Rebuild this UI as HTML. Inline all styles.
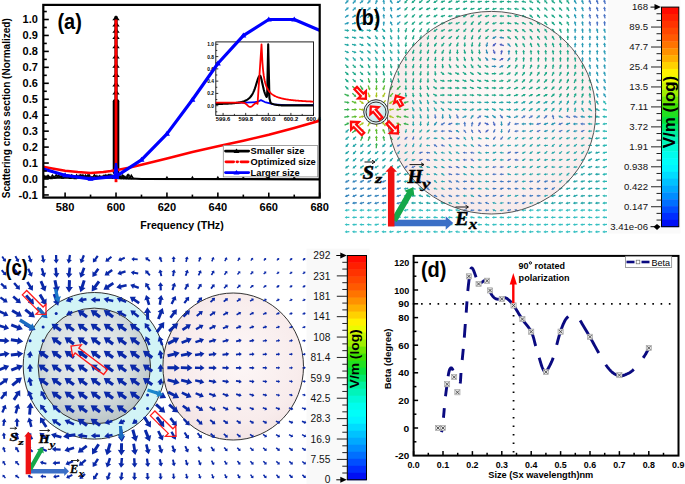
<!DOCTYPE html>
<html><head><meta charset="utf-8"><style>
html,body{margin:0;padding:0;background:#fff;}
body{width:685px;height:484px;overflow:hidden;}
svg{display:block;}
</style></head><body>
<svg width="685" height="484" viewBox="0 0 685 484">
<rect width="685" height="484" fill="#fff"/>
<defs><radialGradient id="pinkB" cx="0.55" cy="0.45" r="0.6"><stop offset="0" stop-color="#fefafa"/><stop offset="0.7" stop-color="#faf0f0"/><stop offset="1" stop-color="#f6e8e8"/></radialGradient><radialGradient id="smallB" cx="0.45" cy="0.4" r="0.6"><stop offset="0" stop-color="#f2fbfc"/><stop offset="1" stop-color="#c4e6ec"/></radialGradient></defs>
<rect x="608" y="0" width="72.5" height="233.6" fill="#fafafa"/>
<ellipse cx="491.5" cy="112.7" rx="104.2" ry="101.3" fill="url(#pinkB)"/>
<path d="M345.84,3.9L347.48,2.14L348.06,2.69L348.64,-0.05L345.94,0.71L346.52,1.26L344.89,3.01Z" fill="#2a9cb8"/>
<path d="M353.27,3.93L354.85,2.13L355.45,2.66L355.94,-0.11L353.27,0.74L353.87,1.27L352.29,3.08Z" fill="#2a9cb8"/>
<path d="M360.27,3.72L362.13,2.2L362.63,2.83L363.58,0.19L360.81,0.57L361.31,1.2L359.45,2.71Z" fill="#2a9cb8"/>
<path d="M367.98,3.93L369.57,2.13L370.17,2.66L370.67,-0.1L367.99,0.74L368.59,1.27L367,3.07Z" fill="#2a9cb8"/>
<path d="M376.13,4.17L377.04,1.95L377.78,2.25L377.35,-0.52L375.1,1.15L375.84,1.45L374.93,3.68Z" fill="#2a9cb8"/>
<path d="M384.8,3.98L384.44,1.6L385.23,1.48L383.44,-0.67L382.37,1.92L383.16,1.8L383.51,4.17Z" fill="#2a9cb8"/>
<path d="M393.02,3.35L391.7,1.34L392.37,0.9L389.84,-0.3L389.95,2.5L390.62,2.06L391.94,4.06Z" fill="#2a9cb8"/>
<path d="M400.19,-0.15L398.17,1.15L397.74,0.48L396.5,3L399.3,2.92L398.87,2.25L400.89,0.95Z" fill="#2a9cb8"/>
<path d="M406.96,-0.54L405.39,1.28L404.78,0.75L404.31,3.52L406.98,2.65L406.37,2.12L407.94,0.31Z" fill="#1ea888"/>
<path d="M414.61,-0.38L412.81,1.21L412.28,0.61L411.44,3.29L414.2,2.79L413.67,2.19L415.47,0.6Z" fill="#1ea888"/>
<path d="M422.06,-0.32L420.19,1.2L419.69,0.57L418.74,3.21L421.51,2.83L421.01,2.2L422.87,0.69Z" fill="#1ea888"/>
<path d="M429.52,-0.23L427.58,1.17L427.11,0.53L426.02,3.11L428.81,2.87L428.34,2.23L430.29,0.82Z" fill="#1ea888"/>
<path d="M437.06,-0.08L434.99,1.14L434.58,0.45L433.25,2.92L436.06,2.95L435.65,2.26L437.72,1.04Z" fill="#1ea888"/>
<path d="M444.68,0.22L442.44,1.09L442.15,0.35L440.44,2.57L443.21,3.05L442.92,2.31L445.15,1.44Z" fill="#1ea888"/>
<path d="M451.94,0.09L449.76,1.11L449.42,0.39L447.87,2.72L450.66,3.01L450.32,2.29L452.49,1.27Z" fill="#1ea888"/>
<path d="M459.41,0.24L457.17,1.09L456.89,0.34L455.16,2.55L457.91,3.06L457.63,2.31L459.87,1.46Z" fill="#1ea888"/>
<path d="M466.95,0.52L464.61,1.07L464.43,0.29L462.42,2.25L465.09,3.11L464.91,2.33L467.24,1.79Z" fill="#1ea888"/>
<path d="M474.46,0.86L472.07,1.05L472,0.25L469.73,1.89L472.24,3.15L472.17,2.35L474.56,2.15Z" fill="#1ea888"/>
<path d="M481.79,0.78L479.41,1.05L479.31,0.26L477.1,1.98L479.65,3.14L479.55,2.35L481.94,2.07Z" fill="#1ea888"/>
<path d="M489.14,0.76L486.76,1.05L486.66,0.26L484.46,1.99L487.02,3.14L486.92,2.35L489.3,2.05Z" fill="#1ea888"/>
<path d="M496.63,1.17L494.23,1.05L494.27,0.25L491.8,1.58L494.13,3.15L494.17,2.35L496.56,2.47Z" fill="#1ea888"/>
<path d="M503.86,0.75L501.48,1.06L501.37,0.26L499.18,2.01L501.75,3.14L501.64,2.34L504.02,2.04Z" fill="#1ea888"/>
<path d="M511.38,1.33L509,1.05L509.09,0.26L506.54,1.42L508.75,3.14L508.84,2.35L511.23,2.62Z" fill="#1ea888"/>
<path d="M518.71,1.19L516.32,1.05L516.37,0.25L513.88,1.56L516.19,3.15L516.24,2.35L518.64,2.49Z" fill="#1ea888"/>
<path d="M526.13,1.63L523.79,1.07L523.98,0.29L521.31,1.14L523.3,3.11L523.49,2.33L525.82,2.89Z" fill="#1ea888"/>
<path d="M533.41,2.3L531.32,1.13L531.71,0.43L528.9,0.53L530.29,2.97L530.68,2.27L532.78,3.44Z" fill="#1ea888"/>
<path d="M540.62,2.74L538.78,1.2L539.29,0.59L536.52,0.16L537.43,2.81L537.94,2.2L539.78,3.74Z" fill="#1ea888"/>
<path d="M547.78,3.09L546.21,1.28L546.82,0.75L544.15,-0.12L544.62,2.65L545.23,2.12L546.8,3.94Z" fill="#1ea888"/>
<path d="M555.31,2.8L553.51,1.21L554.04,0.61L551.28,0.11L552.12,2.79L552.65,2.19L554.45,3.78Z" fill="#1ea888"/>
<path d="M562.51,3.08L560.93,1.27L561.53,0.75L558.86,-0.11L559.35,2.65L559.95,2.13L561.53,3.94Z" fill="#1ea888"/>
<path d="M569.72,3.28L568.33,1.32L568.98,0.86L566.41,-0.26L566.62,2.54L567.27,2.08L568.66,4.03Z" fill="#1ea888"/>
<path d="M576.96,3.42L575.72,1.36L576.4,0.95L573.92,-0.35L573.92,2.45L574.6,2.04L575.84,4.09Z" fill="#2a9cb6"/>
<path d="M583.99,3.7L583.13,1.46L583.87,1.18L581.65,-0.54L581.17,2.22L581.91,1.94L582.78,4.17Z" fill="#2a9cb6"/>
<path d="M591.42,3.65L590.48,1.45L591.21,1.13L588.94,-0.51L588.55,2.27L589.28,1.95L590.22,4.16Z" fill="#4a72c4"/>
<path d="M598.69,3.72L597.85,1.47L598.6,1.19L596.39,-0.55L595.88,2.21L596.63,1.93L597.48,4.18Z" fill="#4a72c4"/>
<path d="M605.95,3.79L605.22,1.5L605.98,1.26L603.87,-0.59L603.22,2.14L603.98,1.9L604.71,4.18Z" fill="#4a72c4"/>
<path d="M345.64,10.97L347.43,9.37L347.97,9.97L348.79,7.29L346.03,7.81L346.57,8.41L344.78,10Z" fill="#2a9cb8"/>
<path d="M353.11,11.04L354.82,9.35L355.38,9.92L356.07,7.2L353.34,7.86L353.9,8.43L352.19,10.11Z" fill="#2a9cb8"/>
<path d="M360.43,11.02L362.17,9.36L362.72,9.94L363.46,7.23L360.72,7.84L361.27,8.42L359.53,10.08Z" fill="#2a9cb8"/>
<path d="M367.75,10.99L369.52,9.37L370.06,9.96L370.85,7.27L368.1,7.82L368.64,8.41L366.87,10.03Z" fill="#2a9cb8"/>
<path d="M376.72,11.36L377.08,8.99L377.87,9.11L376.8,6.52L375.01,8.67L375.8,8.79L375.44,11.17Z" fill="#2a9cb8"/>
<path d="M384.94,11.1L384.44,8.75L385.22,8.58L383.29,6.54L382.38,9.2L383.16,9.03L383.67,11.37Z" fill="#2a9cb8"/>
<path d="M392.35,11.07L391.79,8.74L392.57,8.55L390.6,6.56L389.75,9.23L390.53,9.04L391.08,11.38Z" fill="#2a9cb8"/>
<path d="M400.18,7.04L398.17,8.34L397.73,7.67L396.51,10.2L399.31,10.11L398.87,9.44L400.89,8.13Z" fill="#2a9cb8"/>
<path d="M407.01,6.68L405.4,8.45L404.81,7.92L404.27,10.67L406.95,9.86L406.36,9.33L407.97,7.55Z" fill="#1ea888"/>
<path d="M414.63,6.83L412.81,8.4L412.29,7.79L411.43,10.46L414.19,9.99L413.67,9.38L415.48,7.81Z" fill="#1ea888"/>
<path d="M422.27,7.05L420.25,8.34L419.82,7.67L418.58,10.19L421.38,10.11L420.95,9.44L422.97,8.14Z" fill="#1ea888"/>
<path d="M429.86,7.29L427.69,8.3L427.35,7.58L425.78,9.9L428.57,10.2L428.23,9.48L430.41,8.47Z" fill="#1ea888"/>
<path d="M437.19,7.25L435.03,8.31L434.68,7.59L433.17,9.95L435.96,10.19L435.61,9.47L437.76,8.41Z" fill="#1ea888"/>
<path d="M444.58,7.29L442.41,8.3L442.07,7.57L440.5,9.9L443.29,10.21L442.95,9.48L445.13,8.47Z" fill="#1ea888"/>
<path d="M452.33,7.91L449.95,8.25L449.84,7.45L447.66,9.23L450.24,10.33L450.13,9.53L452.51,9.2Z" fill="#1ea888"/>
<path d="M459.46,7.5L457.19,8.27L456.93,7.52L455.13,9.67L457.87,10.26L457.61,9.51L459.88,8.73Z" fill="#1ea888"/>
<path d="M466.87,7.57L464.57,8.27L464.34,7.5L462.46,9.59L465.18,10.28L464.95,9.51L467.25,8.82Z" fill="#1ea888"/>
<path d="M474.26,7.63L471.95,8.26L471.74,7.49L469.81,9.53L472.5,10.29L472.29,9.52L474.61,8.88Z" fill="#1ea888"/>
<path d="M481.46,7.39L479.24,8.29L478.94,7.55L477.25,9.79L480.02,10.23L479.72,9.49L481.95,8.6Z" fill="#1ea888"/>
<path d="M489.01,7.68L486.68,8.26L486.49,7.48L484.51,9.47L487.19,10.3L487,9.52L489.33,8.94Z" fill="#1ea888"/>
<path d="M496.35,7.64L494.03,8.26L493.82,7.49L491.88,9.52L494.58,10.29L494.37,9.52L496.69,8.89Z" fill="#1ea888"/>
<path d="M503.96,8.24L501.56,8.24L501.56,7.44L499.16,8.89L501.56,10.34L501.56,9.54L503.96,9.54Z" fill="#1ea888"/>
<path d="M511.38,8.55L509,8.25L509.1,7.45L506.54,8.58L508.74,10.33L508.84,9.53L511.22,9.84Z" fill="#1ea888"/>
<path d="M518.76,8.69L516.4,8.25L516.54,7.46L513.92,8.45L516.02,10.32L516.16,9.53L518.52,9.97Z" fill="#1ea888"/>
<path d="M526.09,9.34L523.92,8.3L524.27,7.58L521.48,7.85L523.01,10.2L523.36,9.48L525.52,10.51Z" fill="#1ea888"/>
<path d="M533.35,9.69L531.36,8.35L531.81,7.69L529.01,7.55L530.19,10.09L530.64,9.43L532.63,10.77Z" fill="#1ea888"/>
<path d="M540.48,10.19L538.83,8.44L539.41,7.89L536.71,7.14L537.31,9.89L537.89,9.34L539.53,11.08Z" fill="#1ea888"/>
<path d="M547.85,10.18L546.19,8.44L546.77,7.89L544.06,7.15L544.67,9.89L545.25,9.34L546.91,11.08Z" fill="#1ea888"/>
<path d="M555.21,10.18L553.55,8.44L554.13,7.89L551.43,7.15L552.03,9.89L552.61,9.34L554.26,11.08Z" fill="#1ea888"/>
<path d="M562.56,10.18L560.91,8.44L561.49,7.89L558.79,7.15L559.39,9.89L559.97,9.34L561.62,11.08Z" fill="#1ea888"/>
<path d="M569.62,10.58L568.35,8.55L569.03,8.12L566.53,6.85L566.57,9.66L567.25,9.23L568.52,11.27Z" fill="#1ea888"/>
<path d="M576.59,10.93L575.77,8.67L576.52,8.4L574.34,6.63L573.8,9.38L574.55,9.11L575.37,11.37Z" fill="#2a9cb6"/>
<path d="M583.88,10.97L583.14,8.69L583.9,8.44L581.78,6.61L581.14,9.34L581.9,9.09L582.64,11.37Z" fill="#2a9cb6"/>
<path d="M590.98,11.12L590.52,8.76L591.3,8.61L589.41,6.54L588.46,9.17L589.24,9.02L589.71,11.37Z" fill="#4a72c4"/>
<path d="M598.6,10.97L597.86,8.69L598.62,8.44L596.5,6.61L595.86,9.34L596.62,9.09L597.36,11.37Z" fill="#4a72c4"/>
<path d="M605.61,11.16L605.24,8.79L606.03,8.67L604.23,6.52L603.17,9.11L603.96,8.99L604.32,11.36Z" fill="#4a72c4"/>
<path d="M345.48,18.05L347.39,16.6L347.87,17.24L348.92,14.63L346.13,14.92L346.61,15.56L344.69,17.01Z" fill="#2a9cb8"/>
<path d="M352.67,17.91L354.71,16.63L355.13,17.31L356.39,14.8L353.59,14.85L354.01,15.53L351.98,16.8Z" fill="#2a9cb8"/>
<path d="M360.13,17.99L362.09,16.61L362.55,17.27L363.68,14.7L360.89,14.89L361.35,15.55L359.38,16.93Z" fill="#2a9cb8"/>
<path d="M368.06,18.35L369.58,16.49L370.2,17L370.6,14.23L367.96,15.16L368.58,15.67L367.05,17.52Z" fill="#2a9cb8"/>
<path d="M376.81,18.54L377.09,16.15L377.88,16.25L376.72,13.7L375,15.91L375.79,16.01L375.52,18.39Z" fill="#2a9cb8"/>
<path d="M384.71,18.39L384.45,16.01L385.24,15.92L383.54,13.69L382.36,16.24L383.15,16.15L383.42,18.54Z" fill="#2a9cb8"/>
<path d="M392.79,17.95L391.74,15.8L392.46,15.45L390.11,13.92L389.86,16.71L390.58,16.36L391.63,18.52Z" fill="#2a9cb8"/>
<path d="M400.34,14.38L398.22,15.51L397.84,14.8L396.4,17.2L399.2,17.36L398.82,16.65L400.95,15.53Z" fill="#2a9cb8"/>
<path d="M407.03,13.88L405.4,15.64L404.82,15.09L404.25,17.84L406.94,17.07L406.36,16.52L407.99,14.76Z" fill="#1ea888"/>
<path d="M414.4,13.88L412.76,15.64L412.18,15.09L411.6,17.83L414.3,17.07L413.72,16.52L415.35,14.77Z" fill="#1ea888"/>
<path d="M421.98,14.01L420.17,15.59L419.64,14.99L418.79,17.66L421.56,17.17L421.03,16.57L422.83,14.99Z" fill="#1ea888"/>
<path d="M429.8,14.41L427.66,15.5L427.3,14.79L425.82,17.17L428.62,17.37L428.26,16.66L430.39,15.57Z" fill="#1ea888"/>
<path d="M437.01,14.25L434.97,15.53L434.55,14.85L433.29,17.36L436.09,17.31L435.67,16.63L437.7,15.35Z" fill="#1ea888"/>
<path d="M444.75,14.7L442.47,15.46L442.22,14.71L440.41,16.85L443.14,17.45L442.89,16.7L445.16,15.93Z" fill="#1ea888"/>
<path d="M452.25,14.93L449.9,15.45L449.73,14.66L447.7,16.59L450.35,17.5L450.18,16.71L452.52,16.2Z" fill="#1ea888"/>
<path d="M459.66,15.05L457.29,15.44L457.16,14.65L455.03,16.47L457.64,17.51L457.51,16.72L459.87,16.33Z" fill="#1ea888"/>
<path d="M466.46,14.27L464.42,15.53L464,14.85L462.72,17.34L465.52,17.31L465.1,16.63L467.14,15.37Z" fill="#1ea888"/>
<path d="M473.82,14.27L471.78,15.53L471.36,14.85L470.08,17.34L472.88,17.31L472.46,16.63L474.5,15.37Z" fill="#1ea888"/>
<path d="M481.26,14.35L479.16,15.51L478.78,14.81L477.38,17.24L480.18,17.35L479.8,16.65L481.89,15.48Z" fill="#1ea888"/>
<path d="M488.9,14.68L486.63,15.47L486.37,14.71L484.57,16.86L487.31,17.45L487.05,16.69L489.32,15.91Z" fill="#1ea888"/>
<path d="M496.44,15.01L494.08,15.44L493.94,14.65L491.84,16.51L494.46,17.51L494.32,16.72L496.68,16.29Z" fill="#1ea888"/>
<path d="M503.98,15.52L501.59,15.43L501.62,14.63L499.16,15.99L501.5,17.53L501.53,16.73L503.93,16.82Z" fill="#1ea888"/>
<path d="M511.37,15.65L508.98,15.43L509.05,14.64L506.53,15.87L508.79,17.52L508.86,16.73L511.25,16.94Z" fill="#1ea888"/>
<path d="M518.77,16.08L516.45,15.45L516.66,14.68L513.96,15.46L515.9,17.48L516.11,16.71L518.43,17.33Z" fill="#1ea888"/>
<path d="M526.1,16.43L523.9,15.48L524.21,14.75L521.44,15.13L523.07,17.41L523.38,16.68L525.59,17.63Z" fill="#1ea888"/>
<path d="M533.21,17.23L531.44,15.6L531.98,15.01L529.24,14.45L530.02,17.15L530.56,16.56L532.32,18.18Z" fill="#1ea888"/>
<path d="M540.39,17.52L538.86,15.67L539.48,15.16L536.83,14.23L537.24,17L537.86,16.49L539.39,18.35Z" fill="#1ea888"/>
<path d="M547.97,17.14L546.14,15.58L546.66,14.97L543.89,14.53L544.78,17.19L545.3,16.58L547.13,18.13Z" fill="#1ea888"/>
<path d="M555.32,17.15L553.5,15.59L554.03,14.98L551.26,14.51L552.13,17.18L552.66,16.57L554.47,18.14Z" fill="#1ea888"/>
<path d="M562.62,17.27L560.89,15.61L561.44,15.03L558.71,14.42L559.44,17.13L559.99,16.55L561.72,18.21Z" fill="#1ea888"/>
<path d="M569.76,17.61L568.32,15.69L568.96,15.21L566.36,14.16L566.64,16.95L567.28,16.47L568.71,18.39Z" fill="#1ea888"/>
<path d="M576.59,18.11L575.77,15.86L576.52,15.58L574.34,13.82L573.8,16.58L574.55,16.3L575.37,18.56Z" fill="#2a9cb6"/>
<path d="M583.63,18.3L583.16,15.95L583.94,15.79L582.04,13.73L581.1,16.37L581.88,16.21L582.36,18.56Z" fill="#2a9cb6"/>
<path d="M591.09,18.25L590.51,15.92L591.29,15.73L589.3,13.75L588.47,16.43L589.25,16.24L589.82,18.57Z" fill="#4a72c4"/>
<path d="M598.57,18.18L597.86,15.89L598.63,15.65L596.53,13.79L595.85,16.51L596.62,16.27L597.33,18.57Z" fill="#4a72c4"/>
<path d="M605.71,18.3L605.24,15.95L606.02,15.79L604.12,13.73L603.18,16.37L603.96,16.21L604.44,18.56Z" fill="#4a72c4"/>
<path d="M344.93,24.65L347.21,23.89L347.46,24.65L349.28,22.51L346.54,21.89L346.79,22.65L344.52,23.41Z" fill="#2a9cb8"/>
<path d="M352.19,24.49L354.52,23.9L354.72,24.68L356.69,22.68L354,21.86L354.2,22.64L351.87,23.23Z" fill="#2a9cb8"/>
<path d="M359.52,24.42L361.86,23.9L362.03,24.69L364.06,22.75L361.41,21.85L361.58,22.64L359.24,23.15Z" fill="#2a9cb8"/>
<path d="M367.22,24.92L369.37,23.85L369.73,24.57L371.23,22.2L368.43,21.97L368.79,22.69L366.64,23.76Z" fill="#2a9cb8"/>
<path d="M375.65,25.63L376.98,23.63L377.65,24.07L377.77,21.27L375.23,22.47L375.9,22.91L374.57,24.91Z" fill="#2a9cb8"/>
<path d="M384.22,25.72L384.45,23.33L385.24,23.4L384.02,20.88L382.36,23.14L383.15,23.21L382.93,25.6Z" fill="#2a9cb8"/>
<path d="M392.87,25.07L391.73,22.96L392.44,22.58L390.02,21.16L389.88,23.96L390.59,23.58L391.73,25.69Z" fill="#2a9cb8"/>
<path d="M399.83,21.16L398.08,22.79L397.53,22.21L396.77,24.91L399.51,24.33L398.96,23.75L400.72,22.11Z" fill="#2a9cb8"/>
<path d="M407.26,21.2L405.45,22.78L404.92,22.18L404.08,24.85L406.84,24.36L406.31,23.76L408.11,22.18Z" fill="#1ea888"/>
<path d="M414.53,21.15L412.79,22.8L412.24,22.22L411.5,24.92L414.24,24.32L413.69,23.74L415.43,22.09Z" fill="#1ea888"/>
<path d="M422.09,21.28L420.2,22.76L419.7,22.13L418.71,24.75L421.5,24.41L421,23.78L422.89,22.3Z" fill="#1ea888"/>
<path d="M429.66,21.45L427.62,22.72L427.19,22.04L425.92,24.54L428.73,24.5L428.3,23.82L430.34,22.56Z" fill="#1ea888"/>
<path d="M437.15,21.59L435.02,22.69L434.65,21.98L433.19,24.37L435.99,24.56L435.62,23.85L437.75,22.74Z" fill="#1ea888"/>
<path d="M444.83,22.01L442.51,22.64L442.3,21.87L440.36,23.9L443.06,24.67L442.85,23.9L445.17,23.27Z" fill="#1ea888"/>
<path d="M452.16,21.98L449.86,22.65L449.64,21.88L447.73,23.94L450.44,24.66L450.22,23.89L452.53,23.23Z" fill="#1ea888"/>
<path d="M459.32,21.69L457.13,22.68L456.8,21.95L455.21,24.26L458,24.59L457.67,23.86L459.85,22.88Z" fill="#1ea888"/>
<path d="M465.96,21.09L464.29,22.82L463.72,22.26L463.1,25L465.8,24.28L465.23,23.72L466.89,21.99Z" fill="#1ea888"/>
<path d="M473.08,20.98L471.61,22.87L470.98,22.38L470.65,25.16L473.26,24.16L472.63,23.67L474.11,21.77Z" fill="#1ea888"/>
<path d="M480.67,21.09L479.01,22.82L478.43,22.27L477.82,25.01L480.53,24.27L479.95,23.72L481.61,21.98Z" fill="#1ea888"/>
<path d="M488.43,21.36L486.47,22.74L486,22.08L484.88,24.65L487.68,24.46L487.21,23.8L489.18,22.42Z" fill="#1ea888"/>
<path d="M496.27,21.89L493.99,22.65L493.74,21.9L491.93,24.04L494.66,24.64L494.41,23.89L496.68,23.12Z" fill="#1ea888"/>
<path d="M503.86,22.32L501.48,22.63L501.37,21.83L499.18,23.58L501.75,24.71L501.64,23.91L504.02,23.6Z" fill="#1ea888"/>
<path d="M511.37,22.88L508.99,22.62L509.07,21.83L506.53,23.02L508.77,24.71L508.85,23.92L511.24,24.17Z" fill="#1ea888"/>
<path d="M518.76,23.48L516.5,22.66L516.78,21.91L514.02,22.45L515.78,24.63L516.06,23.88L518.31,24.7Z" fill="#1ea888"/>
<path d="M526.07,23.8L523.94,22.69L524.31,21.98L521.51,22.16L522.97,24.56L523.34,23.85L525.47,24.95Z" fill="#1ea888"/>
<path d="M533.28,24.27L531.41,22.76L531.91,22.14L529.13,21.77L530.09,24.4L530.59,23.78L532.46,25.28Z" fill="#1ea888"/>
<path d="M540.63,24.28L538.77,22.77L539.27,22.14L536.5,21.76L537.45,24.4L537.95,23.77L539.82,25.29Z" fill="#1ea888"/>
<path d="M547.74,24.72L546.22,22.86L546.84,22.35L544.2,21.41L544.6,24.19L545.22,23.68L546.73,25.54Z" fill="#1ea888"/>
<path d="M555.17,24.62L553.56,22.84L554.16,22.3L551.47,21.49L552,24.24L552.6,23.7L554.2,25.49Z" fill="#1ea888"/>
<path d="M562.56,24.57L560.91,22.82L561.5,22.28L558.8,21.52L559.38,24.26L559.97,23.72L561.61,25.46Z" fill="#1ea888"/>
<path d="M569.46,25.12L568.38,22.98L569.09,22.62L566.72,21.13L566.51,23.92L567.22,23.56L568.3,25.71Z" fill="#1ea888"/>
<path d="M576.33,25.46L575.79,23.13L576.57,22.95L574.62,20.93L573.75,23.59L574.53,23.41L575.06,25.75Z" fill="#2a9cb6"/>
<path d="M583.55,25.53L583.16,23.16L583.95,23.03L582.13,20.9L581.09,23.51L581.88,23.38L582.27,25.74Z" fill="#2a9cb6"/>
<path d="M591.09,25.44L590.51,23.11L591.29,22.92L589.3,20.94L588.47,23.62L589.25,23.43L589.82,25.76Z" fill="#4a72c4"/>
<path d="M598.1,25.6L597.89,23.21L598.68,23.14L597.03,20.88L595.8,23.4L596.59,23.33L596.8,25.72Z" fill="#4a72c4"/>
<path d="M605.38,25.63L605.25,23.23L606.05,23.19L604.47,20.87L603.15,23.35L603.95,23.31L604.09,25.7Z" fill="#4a72c4"/>
<path d="M344.53,30.76L346.91,31.1L346.79,31.9L349.38,30.8L347.21,29.02L347.09,29.82L344.72,29.47Z" fill="#24a8a4"/>
<path d="M351.88,30.64L354.24,31.1L354.08,31.88L356.72,30.92L354.64,29.04L354.48,29.82L352.13,29.37Z" fill="#24a8a4"/>
<path d="M359.27,30.91L361.67,31.11L361.6,31.9L364.11,30.66L361.84,29.02L361.77,29.81L359.38,29.61Z" fill="#24a8a4"/>
<path d="M366.62,30.8L369,31.1L368.89,31.9L371.46,30.77L369.27,29.02L369.16,29.82L366.78,29.51Z" fill="#24a8a4"/>
<path d="M374.02,29.87L376.13,31.03L375.74,31.73L378.54,31.62L377.14,29.19L376.75,29.89L374.65,28.73Z" fill="#24a8a4"/>
<path d="M381.69,29.14L383.32,30.9L382.73,31.44L385.43,32.22L384.87,29.48L384.28,30.02L382.65,28.26Z" fill="#24a8a4"/>
<path d="M389.8,28.38L390.54,30.66L389.78,30.91L391.9,32.74L392.54,30.01L391.78,30.26L391.03,27.98Z" fill="#24a8a4"/>
<path d="M397.92,28.05L397.87,30.45L397.07,30.43L398.47,32.86L399.97,30.49L399.17,30.47L399.22,28.07Z" fill="#24a8a4"/>
<path d="M405.94,27.97L405.26,30.27L404.49,30.05L405.2,32.76L407.27,30.87L406.5,30.65L407.19,28.34Z" fill="#1ea888"/>
<path d="M414.02,28.1L412.7,30.1L412.03,29.66L411.92,32.46L414.45,31.26L413.78,30.82L415.11,28.82Z" fill="#1ea888"/>
<path d="M421.25,28.06L420.04,30.13L419.35,29.73L419.39,32.53L421.85,31.19L421.16,30.79L422.37,28.72Z" fill="#1ea888"/>
<path d="M428.73,28.09L427.42,30.11L426.75,29.67L426.65,32.47L429.17,31.25L428.5,30.81L429.81,28.8Z" fill="#1ea888"/>
<path d="M436.9,28.54L434.94,29.93L434.48,29.28L433.36,31.85L436.16,31.64L435.7,30.99L437.65,29.6Z" fill="#1ea888"/>
<path d="M444.54,28.81L442.39,29.88L442.04,29.16L440.53,31.53L443.32,31.76L442.97,31.04L445.12,29.97Z" fill="#1ea888"/>
<path d="M452.04,28.98L449.8,29.85L449.51,29.11L447.81,31.33L450.57,31.81L450.28,31.07L452.51,30.19Z" fill="#1ea888"/>
<path d="M459,28.56L457.03,29.93L456.57,29.27L455.43,31.83L458.23,31.65L457.77,30.99L459.74,29.62Z" fill="#1ea888"/>
<path d="M465.72,28.17L464.25,30.06L463.62,29.57L463.29,32.35L465.9,31.35L465.27,30.86L466.75,28.96Z" fill="#1ea888"/>
<path d="M472.86,28.09L471.57,30.11L470.9,29.68L470.83,32.48L473.34,31.24L472.67,30.81L473.96,28.79Z" fill="#1ea888"/>
<path d="M480.37,28.14L478.95,30.08L478.31,29.61L478.07,32.4L480.65,31.31L480.01,30.84L481.42,28.9Z" fill="#1ea888"/>
<path d="M488.3,28.45L486.43,29.95L485.93,29.33L484.97,31.97L487.75,31.59L487.25,30.97L489.12,29.46Z" fill="#1ea888"/>
<path d="M496.14,28.9L493.94,29.86L493.62,29.13L492,31.42L494.78,31.79L494.46,31.06L496.66,30.09Z" fill="#1ea888"/>
<path d="M504.01,30.02L501.62,29.81L501.69,29.02L499.17,30.25L501.43,31.9L501.5,31.11L503.89,31.32Z" fill="#1ea888"/>
<path d="M511.4,30.66L509.14,29.85L509.41,29.1L506.66,29.65L508.43,31.82L508.7,31.07L510.96,31.89Z" fill="#1ea888"/>
<path d="M518.59,31.38L516.67,29.94L517.15,29.3L514.36,29.02L515.41,31.62L515.89,30.98L517.81,32.42Z" fill="#1ea888"/>
<path d="M525.89,31.52L524.06,29.96L524.58,29.36L521.81,28.91L522.7,31.56L523.22,30.96L525.05,32.51Z" fill="#1ea888"/>
<path d="M533.18,31.66L531.45,29.99L532.01,29.42L529.28,28.79L529.99,31.5L530.55,30.93L532.27,32.6Z" fill="#1ea888"/>
<path d="M540.28,32.04L538.89,30.08L539.54,29.62L536.97,28.5L537.18,31.3L537.83,30.84L539.21,32.79Z" fill="#1ea888"/>
<path d="M547.58,32.11L546.26,30.1L546.93,29.67L544.41,28.45L544.51,31.25L545.18,30.82L546.49,32.82Z" fill="#1ea888"/>
<path d="M554.93,32.12L553.63,30.11L554.3,29.67L551.78,28.44L551.86,31.25L552.53,30.81L553.84,32.83Z" fill="#1ea888"/>
<path d="M561.96,32.43L561.04,30.21L561.78,29.9L559.52,28.24L559.1,31.02L559.84,30.71L560.76,32.93Z" fill="#1ea888"/>
<path d="M568.71,32.77L568.45,30.39L569.24,30.3L567.53,28.07L566.36,30.62L567.15,30.53L567.42,32.92Z" fill="#1ea888"/>
<path d="M575.81,32.86L575.81,30.46L576.61,30.46L575.16,28.06L573.71,30.46L574.51,30.46L574.51,32.86Z" fill="#2a9cb6"/>
<path d="M583.44,32.77L583.17,30.39L583.96,30.3L582.25,28.08L581.08,30.62L581.87,30.53L582.14,32.92Z" fill="#2a9cb6"/>
<path d="M590.79,32.77L590.53,30.39L591.32,30.3L589.61,28.07L588.44,30.62L589.23,30.53L589.5,32.92Z" fill="#2a9cb6"/>
<path d="M598.36,32.68L597.88,30.33L598.66,30.17L596.75,28.11L595.82,30.75L596.6,30.59L597.09,32.94Z" fill="#2a9cb6"/>
<path d="M605.9,32.58L605.22,30.28L605.99,30.05L603.92,28.16L603.21,30.87L603.98,30.64L604.66,32.95Z" fill="#2a9cb6"/>
<path d="M344.53,37.95L346.91,38.29L346.79,39.08L349.37,38L347.21,36.22L347.09,37.01L344.72,36.66Z" fill="#24a8a4"/>
<path d="M351.88,37.79L354.22,38.29L354.06,39.07L356.71,38.15L354.66,36.23L354.5,37.01L352.15,36.51Z" fill="#24a8a4"/>
<path d="M359.24,37.75L361.58,38.28L361.4,39.06L364.06,38.19L362.04,36.24L361.86,37.02L359.53,36.48Z" fill="#24a8a4"/>
<path d="M366.7,36.95L368.74,38.2L368.32,38.88L371.12,38.91L369.84,36.42L369.42,37.1L367.38,35.84Z" fill="#24a8a4"/>
<path d="M374.65,35.92L375.88,37.98L375.2,38.39L377.67,39.71L377.68,36.91L377,37.32L375.77,35.26Z" fill="#24a8a4"/>
<path d="M382,35.94L383.24,37.99L382.56,38.4L385.05,39.7L385.04,36.9L384.36,37.31L383.11,35.26Z" fill="#24a8a4"/>
<path d="M389.68,35.65L390.55,37.89L389.81,38.18L392.04,39.88L392.51,37.12L391.77,37.41L390.89,35.18Z" fill="#24a8a4"/>
<path d="M397.64,35.33L397.87,37.71L397.08,37.79L398.75,40.04L399.96,37.51L399.17,37.59L398.93,35.2Z" fill="#24a8a4"/>
<path d="M406,35.17L405.26,37.45L404.5,37.2L405.14,39.93L407.26,38.1L406.5,37.85L407.24,35.57Z" fill="#1ea888"/>
<path d="M413.36,35.17L412.62,37.45L411.86,37.2L412.5,39.93L414.62,38.1L413.86,37.85L414.6,35.57Z" fill="#1ea888"/>
<path d="M420.68,35.16L419.98,37.46L419.21,37.22L419.89,39.94L421.99,38.08L421.22,37.84L421.93,35.55Z" fill="#1ea888"/>
<path d="M428.18,35.17L427.35,37.42L426.6,37.15L427.13,39.9L429.32,38.15L428.57,37.88L429.4,35.63Z" fill="#1ea888"/>
<path d="M436.03,35.27L434.77,37.31L434.09,36.89L434.06,39.69L436.55,38.41L435.87,37.99L437.13,35.95Z" fill="#1ea888"/>
<path d="M444.1,35.61L442.26,37.15L441.75,36.54L440.84,39.19L443.61,38.76L443.1,38.15L444.94,36.61Z" fill="#1ea888"/>
<path d="M451.55,35.68L449.65,37.13L449.16,36.5L448.13,39.11L450.92,38.8L450.43,38.17L452.34,36.71Z" fill="#1ea888"/>
<path d="M458.33,35.35L456.88,37.26L456.25,36.77L455.95,39.56L458.55,38.53L457.92,38.04L459.37,36.13Z" fill="#1ea888"/>
<path d="M464.97,35.17L464.15,37.43L463.4,37.16L463.94,39.91L466.12,38.14L465.37,37.87L466.19,35.62Z" fill="#1ea888"/>
<path d="M472.26,35.17L471.5,37.44L470.74,37.19L471.36,39.93L473.5,38.11L472.74,37.86L473.49,35.58Z" fill="#1ea888"/>
<path d="M480.09,35.24L478.91,37.33L478.22,36.94L478.31,39.74L480.74,38.36L480.05,37.97L481.22,35.87Z" fill="#1ea888"/>
<path d="M488.1,35.51L486.39,37.19L485.83,36.61L485.12,39.33L487.85,38.69L487.29,38.11L489.01,36.44Z" fill="#1ea888"/>
<path d="M495.95,35.88L493.87,37.09L493.47,36.4L492.13,38.86L494.93,38.9L494.53,38.21L496.6,37Z" fill="#2e8cb4"/>
<path d="M504.03,37.36L501.66,37.01L501.78,36.22L499.19,37.29L501.34,39.08L501.46,38.29L503.84,38.65Z" fill="#2e8cb4"/>
<path d="M511.24,38.55L509.31,37.13L509.78,36.48L506.99,36.23L508.06,38.82L508.53,38.17L510.47,39.6Z" fill="#1ea888"/>
<path d="M518.34,39.04L516.77,37.22L517.38,36.7L514.71,35.83L515.18,38.6L515.79,38.08L517.36,39.89Z" fill="#1ea888"/>
<path d="M525.48,39.32L524.19,37.3L524.86,36.87L522.34,35.63L522.42,38.43L523.09,38L524.39,40.02Z" fill="#1ea888"/>
<path d="M532.8,39.36L531.56,37.31L532.24,36.9L529.75,35.6L529.76,38.4L530.44,37.99L531.69,40.04Z" fill="#1ea888"/>
<path d="M540.29,39.22L538.89,37.27L539.54,36.81L536.96,35.7L537.18,38.49L537.83,38.03L539.23,39.98Z" fill="#1ea888"/>
<path d="M547.4,39.48L546.3,37.35L547.01,36.98L544.62,35.52L544.43,38.32L545.14,37.95L546.25,40.08Z" fill="#1ea888"/>
<path d="M554.82,39.43L553.65,37.33L554.35,36.94L551.91,35.55L551.81,38.36L552.51,37.97L553.68,40.06Z" fill="#1ea888"/>
<path d="M561.52,39.89L561.08,37.53L561.87,37.38L560,35.29L559.01,37.92L559.8,37.77L560.24,40.13Z" fill="#1ea888"/>
<path d="M568.36,40.07L568.45,37.67L569.25,37.7L567.89,35.25L566.35,37.6L567.15,37.63L567.06,40.02Z" fill="#1ea888"/>
<path d="M575.9,40.02L575.81,37.63L576.61,37.6L575.07,35.25L573.71,37.7L574.51,37.67L574.6,40.07Z" fill="#2a9cb6"/>
<path d="M583.25,40.03L583.17,37.63L583.97,37.6L582.44,35.25L581.07,37.7L581.87,37.67L581.95,40.07Z" fill="#2a9cb6"/>
<path d="M590.43,40.08L590.53,37.68L591.33,37.71L589.98,35.25L588.43,37.59L589.23,37.62L589.13,40.02Z" fill="#2a9cb6"/>
<path d="M598.13,39.97L597.89,37.59L598.68,37.51L597,35.26L595.8,37.79L596.59,37.71L596.83,40.1Z" fill="#2a9cb6"/>
<path d="M605.82,39.81L605.23,37.49L606,37.29L604.01,35.32L603.2,38.01L603.97,37.81L604.56,40.14Z" fill="#2a9cb6"/>
<path d="M344.52,44.98L346.87,45.48L346.7,46.26L349.35,45.33L347.3,43.42L347.13,44.2L344.78,43.71Z" fill="#24a8a4"/>
<path d="M351.88,45.01L354.23,45.48L354.08,46.26L356.71,45.31L354.64,43.42L354.49,44.2L352.13,43.73Z" fill="#24a8a4"/>
<path d="M359.27,44.43L361.45,45.43L361.11,46.16L363.9,45.84L362.33,43.52L361.99,44.25L359.81,43.25Z" fill="#24a8a4"/>
<path d="M366.86,43.72L368.64,45.32L368.11,45.92L370.86,46.45L370.05,43.76L369.52,44.36L367.73,42.75Z" fill="#24a8a4"/>
<path d="M374.47,43.33L375.92,45.23L375.29,45.72L377.9,46.75L377.59,43.96L376.96,44.45L375.5,42.54Z" fill="#24a8a4"/>
<path d="M382.18,42.95L383.21,45.12L382.49,45.46L384.83,47.01L385.11,44.22L384.39,44.56L383.36,42.39Z" fill="#24a8a4"/>
<path d="M389.66,42.85L390.56,45.08L389.81,45.38L392.05,47.07L392.51,44.3L391.76,44.6L390.87,42.37Z" fill="#24a8a4"/>
<path d="M397.31,42.67L397.89,45L397.11,45.19L399.1,47.17L399.93,44.49L399.15,44.68L398.57,42.35Z" fill="#24a8a4"/>
<path d="M405.52,42.38L405.23,44.76L404.44,44.67L405.6,47.22L407.32,45.01L406.53,44.92L406.81,42.53Z" fill="#1ea888"/>
<path d="M413.43,42.36L412.63,44.62L411.87,44.35L412.44,47.1L414.61,45.33L413.85,45.06L414.66,42.8Z" fill="#1ea888"/>
<path d="M420.59,42.35L419.97,44.67L419.2,44.47L419.98,47.16L422,45.21L421.23,45.01L421.84,42.69Z" fill="#1ea888"/>
<path d="M427.9,42.35L427.33,44.68L426.55,44.49L427.39,47.17L429.37,45.19L428.59,45L429.16,42.67Z" fill="#1ea888"/>
<path d="M436.02,42.45L434.77,44.5L434.08,44.08L434.07,46.89L436.56,45.6L435.87,45.18L437.13,43.13Z" fill="#1ea888"/>
<path d="M443.64,42.55L442.17,44.44L441.54,43.95L441.21,46.73L443.82,45.73L443.19,45.24L444.67,43.35Z" fill="#1ea888"/>
<path d="M450.76,42.46L449.49,44.5L448.81,44.07L448.77,46.87L451.27,45.61L450.59,45.18L451.86,43.15Z" fill="#1ea888"/>
<path d="M457.68,42.37L456.8,44.6L456.05,44.3L456.51,47.07L458.75,45.38L458,45.08L458.89,42.85Z" fill="#1ea888"/>
<path d="M464.15,42.43L464.11,44.83L463.31,44.81L464.72,47.24L466.21,44.87L465.41,44.85L465.45,42.45Z" fill="#1ea888"/>
<path d="M471.89,42.36L471.48,44.73L470.69,44.59L471.71,47.2L473.55,45.09L472.76,44.95L473.17,42.59Z" fill="#1ea888"/>
<path d="M479.44,42.35L478.85,44.68L478.07,44.48L478.89,47.17L480.89,45.2L480.11,45L480.7,42.67Z" fill="#1ea888"/>
<path d="M486.89,42.35L486.22,44.66L485.45,44.43L486.17,47.14L488.23,45.25L487.46,45.02L488.14,42.72Z" fill="#2e8cb4"/>
<path d="M495.49,42.71L493.75,44.37L493.2,43.79L492.46,46.5L495.2,45.89L494.65,45.31L496.38,43.65Z" fill="#4c5ec0"/>
<path d="M504.04,44.99L501.77,44.22L502.02,43.47L499.29,44.08L501.1,46.21L501.35,45.46L503.63,46.22Z" fill="#4c5ec0"/>
<path d="M511,46.2L509.41,44.41L510,43.88L507.33,43.04L507.84,45.8L508.43,45.27L510.03,47.07Z" fill="#2e8cb4"/>
<path d="M517.92,46.71L516.86,44.55L517.58,44.2L515.23,42.68L514.98,45.48L515.7,45.13L516.75,47.28Z" fill="#1ea888"/>
<path d="M525.26,46.73L524.23,44.56L524.95,44.22L522.61,42.67L522.33,45.46L523.05,45.12L524.08,47.29Z" fill="#1ea888"/>
<path d="M532.44,46.87L531.61,44.61L532.36,44.34L530.17,42.59L529.64,45.34L530.39,45.07L531.22,47.32Z" fill="#1ea888"/>
<path d="M539.99,46.72L538.94,44.56L539.66,44.21L537.31,42.68L537.06,45.47L537.78,45.12L538.82,47.28Z" fill="#1ea888"/>
<path d="M546.99,46.98L546.35,44.67L547.12,44.45L545.08,42.53L544.32,45.23L545.09,45.01L545.74,47.33Z" fill="#1ea888"/>
<path d="M554.47,46.9L553.7,44.63L554.45,44.37L552.3,42.57L551.71,45.31L552.46,45.05L553.24,47.32Z" fill="#1ea888"/>
<path d="M561.47,47.1L561.08,44.73L561.87,44.6L560.05,42.47L559.01,45.08L559.8,44.95L560.19,47.31Z" fill="#1ea888"/>
<path d="M568.53,47.22L568.45,44.82L569.25,44.79L567.72,42.44L566.35,44.89L567.15,44.86L567.23,47.26Z" fill="#1ea888"/>
<path d="M575.61,47.29L575.81,44.89L576.6,44.96L575.36,42.45L573.72,44.72L574.51,44.79L574.31,47.18Z" fill="#2a9cb6"/>
<path d="M583.24,47.22L583.17,44.82L583.97,44.8L582.45,42.44L581.07,44.88L581.87,44.86L581.94,47.26Z" fill="#2a9cb6"/>
<path d="M590.41,47.27L590.53,44.87L591.33,44.91L590,42.44L588.43,44.77L589.23,44.81L589.11,47.2Z" fill="#2a9cb6"/>
<path d="M598.19,47.14L597.88,44.76L598.68,44.66L596.94,42.46L595.8,45.02L596.6,44.92L596.9,47.3Z" fill="#2a9cb6"/>
<path d="M605.62,47.11L605.24,44.74L606.03,44.61L604.22,42.47L603.17,45.07L603.96,44.94L604.34,47.31Z" fill="#2a9cb6"/>
<path d="M344.56,51.56L346.71,52.61L346.36,53.33L349.15,53.09L347.64,50.73L347.29,51.45L345.13,50.39Z" fill="#24a8a4"/>
<path d="M351.88,51.87L354.15,52.65L353.89,53.4L356.63,52.8L354.83,50.66L354.57,51.41L352.3,50.64Z" fill="#24a8a4"/>
<path d="M359.32,51.38L361.39,52.59L360.99,53.28L363.79,53.24L362.45,50.78L362.05,51.47L359.98,50.26Z" fill="#24a8a4"/>
<path d="M366.87,50.89L368.64,52.51L368.1,53.1L370.85,53.65L370.06,50.96L369.52,51.55L367.75,49.93Z" fill="#24a8a4"/>
<path d="M374.47,50.51L375.92,52.42L375.29,52.91L377.89,53.94L377.59,51.15L376.96,51.64L375.51,49.73Z" fill="#24a8a4"/>
<path d="M382.23,50.11L383.21,52.3L382.48,52.62L384.78,54.22L385.12,51.44L384.39,51.76L383.41,49.57Z" fill="#24a8a4"/>
<path d="M389.4,50.27L390.6,52.35L389.9,52.75L392.36,54.11L392.42,51.31L391.72,51.71L390.53,49.63Z" fill="#24a8a4"/>
<path d="M397.31,49.86L397.89,52.19L397.11,52.38L399.1,54.36L399.93,51.68L399.15,51.87L398.57,49.54Z" fill="#24a8a4"/>
<path d="M405.61,49.56L405.24,51.93L404.45,51.8L405.5,54.4L407.31,52.26L406.52,52.13L406.9,49.76Z" fill="#1ea888"/>
<path d="M413.33,49.55L412.62,51.84L411.85,51.6L412.53,54.32L414.63,52.46L413.86,52.22L414.57,49.93Z" fill="#1ea888"/>
<path d="M420.65,49.54L419.98,51.85L419.21,51.63L419.93,54.33L421.99,52.43L421.22,52.21L421.89,49.91Z" fill="#1ea888"/>
<path d="M428.11,49.55L427.34,51.82L426.59,51.57L427.19,54.3L429.33,52.49L428.58,52.24L429.34,49.96Z" fill="#1ea888"/>
<path d="M435.52,49.55L434.71,51.81L433.96,51.54L434.51,54.29L436.68,52.52L435.93,52.25L436.74,49.99Z" fill="#1ea888"/>
<path d="M443.15,49.59L442.1,51.74L441.38,51.39L441.62,54.19L443.98,52.67L443.26,52.32L444.32,50.16Z" fill="#1ea888"/>
<path d="M449.78,49.56L449.4,51.93L448.61,51.8L449.66,54.4L451.47,52.26L450.68,52.13L451.06,49.76Z" fill="#1ea888"/>
<path d="M456.85,49.6L456.75,52L455.95,51.97L457.3,54.43L458.85,52.09L458.05,52.06L458.15,49.66Z" fill="#1ea888"/>
<path d="M463.56,49.85L464.13,52.19L463.35,52.38L465.33,54.36L466.17,51.68L465.39,51.87L464.82,49.54Z" fill="#1ea888"/>
<path d="M470.91,49.86L471.49,52.19L470.71,52.38L472.7,54.36L473.53,51.68L472.75,51.87L472.17,49.54Z" fill="#1ea888"/>
<path d="M478.5,49.74L478.84,52.12L478.04,52.23L479.82,54.41L480.92,51.83L480.12,51.94L479.79,49.56Z" fill="#1ea888"/>
<path d="M485.64,49.85L486.21,52.18L485.43,52.37L487.41,54.36L488.25,51.69L487.47,51.88L486.9,49.54Z" fill="#2e8cb4"/>
<path d="M492.67,50.07L493.6,52.28L492.86,52.59L495.13,54.24L495.54,51.47L494.8,51.78L493.86,49.57Z" fill="#4c5ec0"/>
<path d="M501.74,54.51L502.2,52.16L502.98,52.31L502.02,49.68L500.14,51.75L500.92,51.9L500.46,54.26Z" fill="#4c5ec0"/>
<path d="M509.47,54.46L509.57,52.06L510.37,52.09L509.02,49.63L507.47,51.97L508.27,52L508.17,54.4Z" fill="#2e8cb4"/>
<path d="M517.18,54.35L516.93,51.96L517.72,51.87L516.02,49.64L514.84,52.19L515.63,52.1L515.89,54.49Z" fill="#1ea888"/>
<path d="M524.49,54.37L524.29,51.98L525.09,51.91L523.44,49.64L522.19,52.15L522.99,52.08L523.19,54.48Z" fill="#1ea888"/>
<path d="M531.93,54.34L531.65,51.95L532.44,51.86L530.72,49.65L529.56,52.2L530.35,52.11L530.64,54.49Z" fill="#1ea888"/>
<path d="M539.38,54.3L539,51.93L539.79,51.8L537.98,49.66L536.93,52.26L537.72,52.13L538.1,54.5Z" fill="#1ea888"/>
<path d="M546.68,54.32L546.36,51.94L547.16,51.84L545.4,49.65L544.28,52.22L545.08,52.12L545.4,54.5Z" fill="#1ea888"/>
<path d="M554.1,54.3L553.72,51.93L554.51,51.8L552.7,49.66L551.65,52.26L552.44,52.13L552.82,54.5Z" fill="#1ea888"/>
<path d="M561.28,54.37L561.09,51.98L561.89,51.91L560.25,49.64L558.99,52.15L559.79,52.08L559.98,54.47Z" fill="#1ea888"/>
<path d="M568.58,54.39L568.45,52L569.25,51.95L567.67,49.63L566.35,52.11L567.15,52.06L567.28,54.46Z" fill="#1ea888"/>
<path d="M575.63,54.47L575.81,52.08L576.61,52.14L575.34,49.64L573.71,51.92L574.51,51.98L574.33,54.37Z" fill="#2a9cb6"/>
<path d="M583.14,54.44L583.17,52.04L583.97,52.05L582.55,49.63L581.07,52.01L581.87,52.02L581.84,54.42Z" fill="#2a9cb6"/>
<path d="M590.49,54.44L590.53,52.04L591.33,52.05L589.92,49.63L588.43,52.01L589.23,52.02L589.19,54.42Z" fill="#2a9cb6"/>
<path d="M597.97,54.41L597.89,52.01L598.69,51.98L597.16,49.63L595.79,52.08L596.59,52.05L596.67,54.45Z" fill="#2a9cb6"/>
<path d="M605.81,54.2L605.23,51.87L606.01,51.68L604.02,49.7L603.19,52.38L603.97,52.19L604.55,54.52Z" fill="#2a9cb6"/>
<path d="M344.76,58.14L346.57,59.71L346.05,60.32L348.82,60.79L347.95,58.12L347.43,58.73L345.61,57.16Z" fill="#24a8a4"/>
<path d="M352.27,57.87L353.88,59.66L353.28,60.19L355.97,61L355.44,58.25L354.84,58.78L353.24,57Z" fill="#24a8a4"/>
<path d="M359.66,57.83L361.23,59.65L360.62,60.17L363.29,61.03L362.82,58.27L362.21,58.79L360.64,56.98Z" fill="#24a8a4"/>
<path d="M367.03,57.81L368.58,59.64L367.97,60.16L370.63,61.05L370.19,58.28L369.58,58.8L368.03,56.97Z" fill="#24a8a4"/>
<path d="M374.75,57.4L375.86,59.52L375.16,59.9L377.56,61.34L377.72,58.54L377.02,58.92L375.9,56.79Z" fill="#24a8a4"/>
<path d="M382.43,57.14L383.18,59.42L382.42,59.67L384.55,61.5L385.18,58.77L384.42,59.02L383.67,56.74Z" fill="#24a8a4"/>
<path d="M389.68,57.22L390.55,59.46L389.81,59.75L392.04,61.45L392.51,58.69L391.77,58.98L390.89,56.75Z" fill="#24a8a4"/>
<path d="M397.35,57.02L397.89,59.36L397.11,59.54L399.05,61.56L399.93,58.9L399.15,59.08L398.62,56.74Z" fill="#24a8a4"/>
<path d="M405.13,56.85L405.23,59.25L404.43,59.28L405.98,61.62L407.33,59.16L406.53,59.19L406.42,56.79Z" fill="#1ea888"/>
<path d="M413.14,56.74L412.61,59.08L411.83,58.9L412.7,61.56L414.65,59.54L413.87,59.36L414.41,57.03Z" fill="#1ea888"/>
<path d="M420.64,56.73L419.98,59.04L419.21,58.82L419.94,61.53L421.99,59.62L421.22,59.4L421.89,57.09Z" fill="#1ea888"/>
<path d="M428.08,56.74L427.34,59.02L426.58,58.77L427.22,61.5L429.34,59.67L428.58,59.42L429.32,57.14Z" fill="#1ea888"/>
<path d="M434.96,56.76L434.67,59.14L433.88,59.05L435.03,61.6L436.76,59.39L435.97,59.3L436.25,56.92Z" fill="#1ea888"/>
<path d="M442.53,56.74L442.04,59.09L441.26,58.93L442.2,61.57L444.1,59.51L443.32,59.35L443.8,57Z" fill="#1ea888"/>
<path d="M449.35,56.83L449.39,59.23L448.59,59.25L450.08,61.62L451.49,59.19L450.69,59.21L450.65,56.81Z" fill="#1ea888"/>
<path d="M456.01,57.16L456.78,59.43L456.03,59.69L458.17,61.49L458.77,58.75L458.02,59.01L457.25,56.74Z" fill="#1ea888"/>
<path d="M463.43,57.12L464.14,59.41L463.37,59.65L465.47,61.51L466.15,58.79L465.38,59.03L464.67,56.74Z" fill="#1ea888"/>
<path d="M470.7,57.18L471.51,59.44L470.76,59.71L472.93,61.48L473.48,58.73L472.73,59L471.92,56.74Z" fill="#1ea888"/>
<path d="M477.53,57.67L478.96,59.61L478.31,60.08L480.9,61.15L480.65,58.36L480,58.83L478.58,56.9Z" fill="#1ea888"/>
<path d="M484.83,57.75L486.33,59.63L485.71,60.13L488.34,61.09L487.97,58.31L487.35,58.81L485.84,56.94Z" fill="#2e8cb4"/>
<path d="M491.71,59.23L494.03,59.85L493.83,60.62L496.52,59.83L494.57,57.82L494.37,58.59L492.05,57.98Z" fill="#2e8cb4"/>
<path d="M499.88,61.05L501.91,59.77L502.33,60.45L503.59,57.94L500.79,57.99L501.21,58.67L499.18,59.95Z" fill="#4c5ec0"/>
<path d="M508.07,61.56L509.45,59.59L510.11,60.05L510.3,57.26L507.73,58.39L508.39,58.85L507.01,60.81Z" fill="#2e8cb4"/>
<path d="M516.06,61.7L516.89,59.44L517.64,59.72L517.11,56.97L514.92,58.72L515.67,59L514.84,61.25Z" fill="#1ea888"/>
<path d="M524.1,61.66L524.29,59.27L525.09,59.33L523.83,56.83L522.19,59.11L522.99,59.17L522.8,61.56Z" fill="#1ea888"/>
<path d="M531.46,61.66L531.65,59.27L532.45,59.33L531.19,56.83L529.55,59.11L530.35,59.17L530.17,61.56Z" fill="#1ea888"/>
<path d="M538.87,61.65L539.01,59.26L539.81,59.31L538.5,56.82L536.91,59.13L537.71,59.18L537.57,61.58Z" fill="#1ea888"/>
<path d="M546.37,61.62L546.37,59.22L547.17,59.22L545.72,56.82L544.27,59.22L545.07,59.22L545.07,61.62Z" fill="#1ea888"/>
<path d="M553.82,61.59L553.73,59.2L554.53,59.16L552.99,56.82L551.63,59.28L552.43,59.24L552.52,61.64Z" fill="#1ea888"/>
<path d="M561.13,61.61L561.09,59.21L561.89,59.19L560.4,56.82L558.99,59.25L559.79,59.23L559.83,61.63Z" fill="#1ea888"/>
<path d="M568.31,61.65L568.45,59.26L569.25,59.31L567.94,56.82L566.35,59.13L567.15,59.18L567.01,61.58Z" fill="#1ea888"/>
<path d="M576.14,61.51L575.8,59.13L576.6,59.02L574.83,56.84L573.72,59.42L574.52,59.31L574.85,61.69Z" fill="#1ea888"/>
<path d="M583.3,61.58L583.17,59.19L583.97,59.14L582.39,56.82L581.07,59.3L581.87,59.25L582,61.65Z" fill="#2a9cb6"/>
<path d="M590.88,61.5L590.52,59.12L591.31,59.01L589.53,56.85L588.45,59.43L589.24,59.32L589.59,61.69Z" fill="#2a9cb6"/>
<path d="M598.61,61.29L597.86,59.01L598.62,58.76L596.48,56.94L595.86,59.68L596.62,59.43L597.38,61.7Z" fill="#2a9cb6"/>
<path d="M605.91,61.33L605.22,59.03L605.99,58.8L603.91,56.92L603.21,59.64L603.98,59.41L604.67,61.71Z" fill="#2a9cb6"/>
<path d="M344.87,65.12L346.53,66.86L345.95,67.41L348.66,68.15L348.05,65.41L347.47,65.96L345.81,64.22Z" fill="#1ea888"/>
<path d="M352.21,65.16L353.9,66.87L353.33,67.43L356.05,68.11L355.39,65.39L354.82,65.95L353.13,64.25Z" fill="#1ea888"/>
<path d="M359.47,65.35L361.3,66.9L360.78,67.51L363.55,67.97L362.66,65.31L362.14,65.92L360.31,64.36Z" fill="#1ea888"/>
<path d="M367.48,64.51L368.49,66.68L367.77,67.02L370.09,68.59L370.39,65.8L369.67,66.14L368.65,63.96Z" fill="#1ea888"/>
<path d="M375.34,64.18L375.8,66.54L375.02,66.69L376.9,68.77L377.86,66.13L377.08,66.28L376.62,63.93Z" fill="#1ea888"/>
<path d="M382.97,64.07L383.15,66.46L382.35,66.52L383.98,68.8L385.25,66.3L384.45,66.36L384.27,63.97Z" fill="#1ea888"/>
<path d="M389.87,64.29L390.54,66.59L389.77,66.81L391.83,68.72L392.55,66.01L391.78,66.23L391.12,63.92Z" fill="#1ea888"/>
<path d="M397.44,64.17L397.88,66.53L397.1,66.68L398.97,68.77L399.94,66.14L399.16,66.29L398.71,63.93Z" fill="#1ea888"/>
<path d="M405.1,64.05L405.23,66.45L404.43,66.49L406.01,68.81L407.33,66.33L406.53,66.37L406.4,63.98Z" fill="#1ea888"/>
<path d="M413.14,63.93L412.61,66.26L411.83,66.09L412.7,68.75L414.65,66.73L413.87,66.56L414.41,64.22Z" fill="#1ea888"/>
<path d="M420.23,63.95L419.95,66.33L419.16,66.24L420.32,68.79L422.04,66.58L421.25,66.49L421.53,64.1Z" fill="#1ea888"/>
<path d="M427.48,63.97L427.31,66.36L426.51,66.31L427.79,68.8L429.41,66.51L428.61,66.46L428.78,64.06Z" fill="#1ea888"/>
<path d="M434.81,63.98L434.67,66.37L433.87,66.32L435.18,68.81L436.77,66.5L435.97,66.45L436.11,64.05Z" fill="#1ea888"/>
<path d="M441.82,64.08L442.03,66.47L441.24,66.54L442.9,68.8L444.12,66.28L443.33,66.35L443.11,63.96Z" fill="#1ea888"/>
<path d="M448.37,64.57L449.46,66.7L448.75,67.07L451.13,68.55L451.33,65.75L450.62,66.12L449.53,63.98Z" fill="#1ea888"/>
<path d="M455.37,64.97L456.9,66.82L456.28,67.33L458.92,68.26L458.52,65.49L457.9,66L456.38,64.14Z" fill="#1ea888"/>
<path d="M462.73,64.97L464.26,66.82L463.64,67.33L466.29,68.26L465.88,65.49L465.26,66L463.74,64.14Z" fill="#1ea888"/>
<path d="M470.25,64.77L471.58,66.77L470.91,67.21L473.45,68.41L473.33,65.61L472.66,66.05L471.33,64.05Z" fill="#1ea888"/>
<path d="M477.27,65.26L479.04,66.89L478.5,67.48L481.25,68.03L480.46,65.34L479.92,65.93L478.15,64.31Z" fill="#1ea888"/>
<path d="M484.44,65.77L486.51,66.97L486.11,67.66L488.92,67.61L487.57,65.16L487.17,65.85L485.09,64.64Z" fill="#1ea888"/>
<path d="M491.8,67.08L494.2,67.06L494.21,67.86L496.6,66.39L494.19,64.96L494.2,65.76L491.8,65.78Z" fill="#2e8cb4"/>
<path d="M499.74,68.1L501.86,66.99L502.23,67.69L503.69,65.29L500.89,65.13L501.26,65.83L499.13,66.95Z" fill="#2e8cb4"/>
<path d="M507.55,68.48L509.35,66.9L509.88,67.5L510.72,64.83L507.96,65.32L508.49,65.92L506.69,67.51Z" fill="#1ea888"/>
<path d="M515.62,68.81L516.84,66.74L517.53,67.15L517.5,64.34L515.03,65.67L515.72,66.08L514.5,68.15Z" fill="#1ea888"/>
<path d="M523.58,68.9L524.26,66.59L525.03,66.82L524.32,64.11L522.25,66L523.02,66.23L522.33,68.53Z" fill="#1ea888"/>
<path d="M530.64,68.87L531.6,66.67L532.33,66.99L531.96,64.21L529.67,65.83L530.4,66.15L529.45,68.35Z" fill="#1ea888"/>
<path d="M538.19,68.89L538.97,66.62L539.73,66.88L539.14,64.14L536.99,65.94L537.75,66.2L536.96,68.47Z" fill="#1ea888"/>
<path d="M545.48,68.88L546.33,66.64L547.08,66.92L546.57,64.17L544.36,65.9L545.11,66.18L544.26,68.43Z" fill="#1ea888"/>
<path d="M553.34,68.88L553.72,66.51L554.51,66.64L553.47,64.04L551.65,66.18L552.44,66.31L552.05,68.67Z" fill="#1ea888"/>
<path d="M560.35,68.89L561.06,66.6L561.82,66.84L561.15,64.12L559.06,65.98L559.82,66.22L559.1,68.51Z" fill="#1ea888"/>
<path d="M568.3,68.85L568.45,66.45L569.25,66.5L567.95,64.01L566.35,66.32L567.15,66.37L567,68.76Z" fill="#1ea888"/>
<path d="M575.41,68.88L575.8,66.52L576.59,66.65L575.55,64.04L573.73,66.17L574.52,66.3L574.12,68.67Z" fill="#1ea888"/>
<path d="M583.33,68.76L583.17,66.37L583.97,66.31L582.36,64.02L581.07,66.51L581.87,66.45L582.04,68.85Z" fill="#1ea888"/>
<path d="M591.08,68.59L590.51,66.26L591.29,66.07L589.31,64.08L588.47,66.75L589.25,66.56L589.82,68.9Z" fill="#2a9cb6"/>
<path d="M598.52,68.54L597.87,66.23L598.64,66.02L596.59,64.1L595.84,66.8L596.61,66.59L597.27,68.9Z" fill="#2a9cb6"/>
<path d="M605.74,68.62L605.24,66.27L606.02,66.1L604.09,64.06L603.18,66.72L603.96,66.55L604.47,68.89Z" fill="#2a9cb6"/>
<path d="M344.79,72.47L346.56,74.08L346.03,74.67L348.78,75.21L347.97,72.53L347.44,73.12L345.66,71.51Z" fill="#1ea888"/>
<path d="M352.11,72.55L353.94,74.1L353.42,74.71L356.19,75.15L355.3,72.49L354.78,73.1L352.95,71.55Z" fill="#1ea888"/>
<path d="M359.62,72.28L361.24,74.04L360.65,74.58L363.35,75.37L362.79,72.62L362.2,73.16L360.57,71.39Z" fill="#1ea888"/>
<path d="M367.2,71.97L368.54,73.96L367.88,74.41L370.42,75.59L370.28,72.79L369.62,73.24L368.28,71.24Z" fill="#1ea888"/>
<path d="M375.03,71.55L375.83,73.81L375.07,74.08L377.23,75.87L377.81,73.12L377.05,73.39L376.26,71.12Z" fill="#1ea888"/>
<path d="M382.55,71.45L383.17,73.77L382.4,73.98L384.43,75.92L385.2,73.22L384.43,73.43L383.8,71.11Z" fill="#1ea888"/>
<path d="M389.86,71.48L390.54,73.78L389.77,74.01L391.84,75.9L392.55,73.19L391.78,73.42L391.11,71.11Z" fill="#1ea888"/>
<path d="M397.42,71.37L397.88,73.72L397.1,73.88L398.98,75.96L399.94,73.32L399.16,73.48L398.7,71.12Z" fill="#1ea888"/>
<path d="M405.23,71.2L405.23,73.6L404.43,73.6L405.88,76L407.33,73.6L406.53,73.6L406.53,71.2Z" fill="#1ea888"/>
<path d="M412.84,71.15L412.59,73.53L411.8,73.45L412.99,75.99L414.68,73.75L413.89,73.67L414.13,71.28Z" fill="#1ea888"/>
<path d="M420.51,71.12L419.97,73.45L419.19,73.27L420.06,75.94L422.01,73.93L421.23,73.75L421.78,71.41Z" fill="#1ea888"/>
<path d="M427.51,71.16L427.31,73.55L426.51,73.48L427.76,75.99L429.41,73.72L428.61,73.65L428.8,71.26Z" fill="#1ea888"/>
<path d="M434.4,71.29L434.67,73.68L433.88,73.77L435.6,75.98L436.76,73.43L435.97,73.52L435.69,71.14Z" fill="#1ea888"/>
<path d="M440.41,72.6L442.27,74.11L441.77,74.73L444.55,75.11L443.59,72.47L443.09,73.09L441.22,71.59Z" fill="#1ea888"/>
<path d="M447.57,73.34L449.81,74.21L449.52,74.95L452.28,74.47L450.56,72.25L450.27,72.99L448.04,72.13Z" fill="#1ea888"/>
<path d="M454.95,73.19L457.13,74.19L456.8,74.92L459.58,74.6L458,72.28L457.67,73.01L455.49,72.01Z" fill="#1ea888"/>
<path d="M462.44,72.71L464.38,74.12L463.9,74.77L466.7,75.02L465.62,72.43L465.14,73.08L463.21,71.66Z" fill="#1ea888"/>
<path d="M469.76,72.81L471.76,74.14L471.32,74.81L474.12,74.93L472.92,72.39L472.48,73.06L470.48,71.73Z" fill="#1ea888"/>
<path d="M477.13,72.8L479.12,74.14L478.67,74.8L481.47,74.94L480.29,72.4L479.84,73.06L477.85,71.72Z" fill="#1ea888"/>
<path d="M484.36,73.46L486.63,74.22L486.38,74.98L489.12,74.36L487.3,72.22L487.05,72.98L484.77,72.23Z" fill="#1ea888"/>
<path d="M491.84,74.39L494.24,74.25L494.28,75.05L496.6,73.46L494.12,72.15L494.16,72.95L491.77,73.09Z" fill="#1ea888"/>
<path d="M499.48,74.96L501.76,74.22L502.01,74.98L503.84,72.86L501.11,72.22L501.36,72.98L499.08,73.72Z" fill="#1ea888"/>
<path d="M507.12,75.31L509.23,74.17L509.61,74.88L511.03,72.46L508.23,72.32L508.61,73.03L506.5,74.17Z" fill="#1ea888"/>
<path d="M515.35,75.91L516.8,73.99L517.44,74.47L517.73,71.68L515.12,72.73L515.76,73.21L514.32,75.12Z" fill="#1ea888"/>
<path d="M522.71,75.9L524.16,73.99L524.8,74.48L525.09,71.69L522.48,72.72L523.12,73.21L521.67,75.12Z" fill="#1ea888"/>
<path d="M530.35,76L531.56,73.93L532.25,74.33L532.21,71.53L529.75,72.87L530.44,73.27L529.23,75.35Z" fill="#1ea888"/>
<path d="M537.65,75.98L538.91,73.94L539.59,74.36L539.62,71.56L537.13,72.84L537.81,73.26L536.55,75.3Z" fill="#1ea888"/>
<path d="M544.84,75.92L546.25,73.98L546.89,74.45L547.13,71.66L544.55,72.75L545.19,73.22L543.79,75.16Z" fill="#1ea888"/>
<path d="M552.66,76.05L553.67,73.87L554.4,74.21L554.09,71.42L551.76,72.99L552.49,73.33L551.48,75.5Z" fill="#1ea888"/>
<path d="M560.09,76.06L561.04,73.86L561.77,74.17L561.38,71.39L559.11,73.03L559.84,73.34L558.9,75.55Z" fill="#1ea888"/>
<path d="M567.43,76.06L568.39,73.86L569.13,74.18L568.77,71.4L566.47,73.02L567.21,73.34L566.24,75.54Z" fill="#1ea888"/>
<path d="M574.86,76.07L575.76,73.84L576.5,74.15L576.06,71.38L573.82,73.05L574.56,73.36L573.65,75.58Z" fill="#1ea888"/>
<path d="M583.21,75.99L583.17,73.59L583.97,73.58L582.48,71.2L581.07,73.62L581.87,73.61L581.91,76.01Z" fill="#1ea888"/>
<path d="M590.91,75.86L590.52,73.5L591.31,73.37L589.5,71.23L588.45,73.83L589.24,73.7L589.62,76.07Z" fill="#2a9cb6"/>
<path d="M598.53,75.72L597.86,73.42L598.63,73.2L596.57,71.29L595.85,74L596.62,73.78L597.28,76.09Z" fill="#2a9cb6"/>
<path d="M605.95,75.69L605.22,73.4L605.98,73.16L603.87,71.31L603.22,74.04L603.98,73.8L604.71,76.08Z" fill="#2a9cb6"/>
<path d="M344.86,79.52L346.53,81.24L345.96,81.8L348.67,82.51L348.04,79.78L347.47,80.34L345.79,78.62Z" fill="#1ea888"/>
<path d="M352.2,79.55L353.9,81.25L353.33,81.81L356.06,82.49L355.39,79.77L354.82,80.33L353.12,78.63Z" fill="#1ea888"/>
<path d="M359.55,79.58L361.27,81.26L360.71,81.83L363.44,82.47L362.73,79.75L362.17,80.32L360.46,78.65Z" fill="#1ea888"/>
<path d="M367.64,78.41L368.55,81.27L367.79,81.51L369.9,83.36L370.55,80.64L369.79,80.88L368.88,78.02Z" fill="#36b050"/>
<path d="M375.55,78.16L375.82,81.15L375.02,81.22L376.68,83.48L377.91,80.96L377.11,81.03L376.85,78.04Z" fill="#36b050"/>
<path d="M383.98,78.02L383.09,80.88L382.33,80.64L383,83.37L385.09,81.51L384.33,81.27L385.23,78.41Z" fill="#36b050"/>
<path d="M389.97,78.61L390.53,80.94L389.75,81.13L391.71,83.13L392.57,80.45L391.79,80.64L391.24,78.3Z" fill="#1ea888"/>
<path d="M397.42,78.56L397.88,80.92L397.1,81.07L398.99,83.14L399.94,80.51L399.16,80.66L398.69,78.31Z" fill="#1ea888"/>
<path d="M404.99,78.47L405.23,80.86L404.44,80.94L406.12,83.18L407.32,80.64L406.53,80.72L406.28,78.34Z" fill="#1ea888"/>
<path d="M413,78.31L412.6,80.68L411.81,80.55L412.84,83.16L414.67,81.03L413.88,80.9L414.28,78.53Z" fill="#1ea888"/>
<path d="M420.42,78.31L419.96,80.67L419.18,80.51L420.14,83.15L422.02,81.07L421.24,80.91L421.7,78.56Z" fill="#1ea888"/>
<path d="M427.38,78.37L427.31,80.77L426.51,80.75L427.89,83.19L429.41,80.83L428.61,80.81L428.68,78.41Z" fill="#1ea888"/>
<path d="M433.3,79.33L434.81,81.2L434.19,81.7L436.83,82.66L436.45,79.88L435.83,80.38L434.31,78.52Z" fill="#1ea888"/>
<path d="M440.21,81.07L442.58,81.43L442.46,82.22L445.05,81.15L442.9,79.36L442.78,80.15L440.41,79.78Z" fill="#1ea888"/>
<path d="M447.63,81.39L450.03,81.44L450.01,82.24L452.44,80.84L450.07,79.34L450.05,80.14L447.65,80.09Z" fill="#1ea888"/>
<path d="M454.92,80.88L457.25,81.42L457.07,82.2L459.74,81.33L457.73,79.38L457.55,80.16L455.21,79.61Z" fill="#1ea888"/>
<path d="M462.28,80.59L464.54,81.4L464.27,82.16L467.02,81.6L465.25,79.42L464.98,80.18L462.72,79.37Z" fill="#1ea888"/>
<path d="M469.69,80.28L471.83,81.37L471.46,82.08L474.26,81.88L472.78,79.5L472.41,80.21L470.27,79.12Z" fill="#1ea888"/>
<path d="M477,80.58L479.26,81.4L478.99,82.15L481.74,81.61L479.97,79.43L479.7,80.18L477.45,79.36Z" fill="#1ea888"/>
<path d="M484.36,80.65L486.64,81.41L486.38,82.17L489.12,81.54L487.3,79.41L487.04,80.17L484.77,79.42Z" fill="#1ea888"/>
<path d="M491.75,81.22L494.14,81.44L494.07,82.23L496.59,81.01L494.33,79.35L494.26,80.14L491.87,79.93Z" fill="#1ea888"/>
<path d="M499.4,82.03L501.73,81.42L501.93,82.19L503.88,80.18L501.19,79.39L501.39,80.16L499.07,80.77Z" fill="#1ea888"/>
<path d="M507.24,82.62L509.27,81.34L509.69,82.02L510.95,79.51L508.15,79.56L508.57,80.24L506.54,81.52Z" fill="#1ea888"/>
<path d="M514.64,82.66L516.64,81.33L517.09,82L518.28,79.46L515.47,79.58L515.92,80.25L513.92,81.58Z" fill="#1ea888"/>
<path d="M522.47,82.99L524.11,81.23L524.7,81.78L525.28,79.04L522.58,79.8L523.17,80.35L521.52,82.1Z" fill="#1ea888"/>
<path d="M529.88,83.01L531.48,81.22L532.08,81.76L532.6,79L529.92,79.82L530.52,80.36L528.91,82.14Z" fill="#1ea888"/>
<path d="M537.37,83.07L538.87,81.2L539.49,81.7L539.86,78.92L537.23,79.88L537.85,80.38L536.35,82.26Z" fill="#1ea888"/>
<path d="M544.57,83L546.2,81.23L546.79,81.77L547.35,79.02L544.65,79.81L545.24,80.35L543.62,82.12Z" fill="#1ea888"/>
<path d="M552.3,83.15L553.62,81.15L554.29,81.59L554.41,78.79L551.87,79.99L552.54,80.43L551.21,82.43Z" fill="#1ea888"/>
<path d="M559.86,83.21L561.01,81.1L561.71,81.48L561.59,78.68L559.17,80.1L559.87,80.48L558.72,82.59Z" fill="#1ea888"/>
<path d="M567.43,83.25L568.39,81.05L569.13,81.38L568.77,78.59L566.47,80.2L567.21,80.53L566.24,82.72Z" fill="#1ea888"/>
<path d="M574.73,83.24L575.75,81.07L576.47,81.41L576.18,78.62L573.85,80.17L574.57,80.51L573.55,82.69Z" fill="#1ea888"/>
<path d="M583.03,83.22L583.17,80.83L583.97,80.87L582.66,78.39L581.07,80.71L581.87,80.75L581.73,83.15Z" fill="#1ea888"/>
<path d="M591.19,82.91L590.5,80.61L591.27,80.38L589.2,78.49L588.49,81.2L589.26,80.97L589.94,83.28Z" fill="#1ea888"/>
<path d="M598.85,82.69L597.83,80.51L598.55,80.17L596.22,78.62L595.93,81.41L596.65,81.07L597.67,83.24Z" fill="#2a9cb6"/>
<path d="M606.08,82.79L605.21,80.55L605.95,80.26L603.73,78.55L603.25,81.32L603.99,81.03L604.87,83.26Z" fill="#2a9cb6"/>
<path d="M344.85,86.73L346.54,88.44L345.97,89L348.69,89.69L348.03,86.96L347.46,87.52L345.78,85.82Z" fill="#1ea888"/>
<path d="M351.91,86.68L354.15,88.67L353.63,89.27L356.38,89.77L355.54,87.09L355.01,87.69L352.77,85.71Z" fill="#36b050"/>
<path d="M359.69,86.08L361.34,88.59L360.68,89.03L363.21,90.23L363.1,87.43L362.43,87.87L360.78,85.37Z" fill="#36b050"/>
<path d="M367.56,85.66L368.57,88.48L367.82,88.75L369.99,90.52L370.55,87.77L369.79,88.04L368.78,85.22Z" fill="#5cbc2c"/>
<path d="M375.9,85.26L375.78,88.25L374.98,88.22L376.34,90.68L377.88,88.34L377.08,88.31L377.19,85.31Z" fill="#5cbc2c"/>
<path d="M384.04,85.21L383.09,88.06L382.33,87.81L382.95,90.54L385.08,88.72L384.32,88.47L385.27,85.62Z" fill="#5cbc2c"/>
<path d="M392.21,85.41L390.46,87.84L389.81,87.38L389.58,90.17L392.16,89.07L391.51,88.6L393.26,86.17Z" fill="#36b050"/>
<path d="M399.98,85.62L397.85,87.73L397.29,87.16L396.6,89.88L399.33,89.22L398.76,88.65L400.9,86.54Z" fill="#36b050"/>
<path d="M405.14,85.61L405.23,88L404.43,88.03L405.97,90.38L407.33,87.93L406.53,87.96L406.44,85.56Z" fill="#1ea888"/>
<path d="M412.65,85.56L412.59,87.96L411.79,87.94L413.18,90.38L414.69,88.02L413.89,88L413.95,85.6Z" fill="#1ea888"/>
<path d="M419.68,85.67L419.95,88.06L419.16,88.15L420.88,90.36L422.04,87.81L421.25,87.9L420.97,85.52Z" fill="#1ea888"/>
<path d="M426.5,85.97L427.35,88.21L426.6,88.5L428.81,90.22L429.32,87.46L428.57,87.75L427.71,85.51Z" fill="#1ea888"/>
<path d="M432.98,87.14L434.95,88.51L434.49,89.17L437.29,89.35L436.15,86.79L435.69,87.45L433.72,86.08Z" fill="#1ea888"/>
<path d="M440.29,88.68L442.69,88.63L442.71,89.43L445.08,87.93L442.65,86.53L442.67,87.33L440.27,87.38Z" fill="#1ea888"/>
<path d="M447.6,88.48L450,88.63L449.95,89.43L452.44,88.13L450.13,86.53L450.08,87.33L447.69,87.18Z" fill="#1ea888"/>
<path d="M454.96,88.48L457.36,88.63L457.31,89.43L459.8,88.13L457.49,86.53L457.44,87.33L455.05,87.18Z" fill="#1ea888"/>
<path d="M462.31,88.38L464.69,88.63L464.61,89.42L467.15,88.23L464.91,86.54L464.83,87.33L462.44,87.08Z" fill="#1ea888"/>
<path d="M469.65,87.7L471.88,88.58L471.59,89.33L474.35,88.86L472.65,86.63L472.36,87.38L470.13,86.49Z" fill="#1ea888"/>
<path d="M477,87.8L479.27,88.59L479,89.35L481.75,88.77L479.96,86.61L479.69,87.37L477.43,86.58Z" fill="#1ea888"/>
<path d="M484.37,88.26L486.74,88.62L486.62,89.41L489.21,88.34L487.06,86.55L486.94,87.34L484.57,86.98Z" fill="#1ea888"/>
<path d="M491.79,88.6L494.19,88.63L494.18,89.43L496.6,88.01L494.22,86.53L494.21,87.33L491.81,87.3Z" fill="#1ea888"/>
<path d="M499.28,88.97L501.65,88.62L501.77,89.41L503.93,87.63L501.35,86.55L501.47,87.34L499.09,87.68Z" fill="#1ea888"/>
<path d="M507.04,89.61L509.2,88.56L509.55,89.28L511.08,86.93L508.29,86.68L508.64,87.4L506.48,88.44Z" fill="#1ea888"/>
<path d="M514.42,89.63L516.57,88.56L516.93,89.28L518.43,86.91L515.63,86.68L515.99,87.4L513.84,88.47Z" fill="#1ea888"/>
<path d="M522,89.85L524,88.52L524.44,89.19L525.64,86.65L522.84,86.77L523.28,87.44L521.28,88.77Z" fill="#1ea888"/>
<path d="M529.3,89.8L531.34,88.53L531.76,89.21L533.04,86.72L530.24,86.75L530.66,87.43L528.62,88.69Z" fill="#1ea888"/>
<path d="M536.57,89.71L538.67,88.55L539.06,89.25L540.46,86.82L537.66,86.71L538.05,87.41L535.94,88.57Z" fill="#1ea888"/>
<path d="M544.04,89.81L546.07,88.53L546.49,89.21L547.75,86.7L544.95,86.75L545.37,87.43L543.34,88.71Z" fill="#1ea888"/>
<path d="M551.99,90.21L553.57,88.41L554.17,88.93L554.66,86.17L551.99,87.03L552.59,87.55L551.01,89.36Z" fill="#1ea888"/>
<path d="M559.57,90.31L560.97,88.36L561.62,88.83L561.84,86.03L559.26,87.13L559.91,87.6L558.51,89.55Z" fill="#1ea888"/>
<path d="M567.07,90.36L568.35,88.33L569.03,88.75L569.08,85.95L566.57,87.21L567.25,87.63L565.97,89.66Z" fill="#1ea888"/>
<path d="M574.47,90.37L575.72,88.32L576.4,88.73L576.41,85.93L573.92,87.23L574.6,87.64L573.36,89.69Z" fill="#1ea888"/>
<path d="M582.56,90.47L583.15,88.14L583.93,88.34L583.11,85.65L581.11,87.62L581.89,87.82L581.3,90.15Z" fill="#1ea888"/>
<path d="M591.14,90.13L590.51,87.81L591.28,87.6L589.25,85.66L588.48,88.36L589.25,88.15L589.88,90.47Z" fill="#1ea888"/>
<path d="M598.8,89.91L597.83,87.72L598.57,87.39L596.27,85.78L595.91,88.57L596.65,88.24L597.61,90.44Z" fill="#2a9cb6"/>
<path d="M606.1,89.96L605.2,87.74L605.95,87.44L603.7,85.75L603.25,88.52L604,88.22L604.89,90.45Z" fill="#2a9cb6"/>
<path d="M344.28,94.63L347,95.89L346.67,96.61L349.45,96.3L347.88,93.98L347.54,94.7L344.82,93.45Z" fill="#36b050"/>
<path d="M351.93,93.83L354.14,95.85L353.6,96.44L356.35,96.99L355.56,94.3L355.02,94.89L352.81,92.87Z" fill="#36b050"/>
<path d="M359.5,93.5L361.41,95.81L360.79,96.32L363.44,97.25L363.03,94.48L362.41,94.99L360.5,92.67Z" fill="#5cbc2c"/>
<path d="M367.52,92.87L368.58,95.68L367.83,95.96L370.03,97.7L370.54,94.94L369.79,95.22L368.74,92.41Z" fill="#a8c418"/>
<path d="M375.94,92.44L375.77,95.43L374.98,95.39L376.29,97.87L377.87,95.55L377.07,95.51L377.24,92.51Z" fill="#a8c418"/>
<path d="M384.46,92.47L383.08,95.14L382.37,94.77L382.56,97.57L384.95,96.1L384.24,95.74L385.62,93.07Z" fill="#a8c418"/>
<path d="M392.48,92.73L390.48,94.96L389.88,94.43L389.36,97.18L392.04,96.36L391.44,95.83L393.45,93.59Z" fill="#5cbc2c"/>
<path d="M400.03,92.84L397.85,94.91L397.3,94.33L396.56,97.03L399.3,96.43L398.75,95.85L400.92,93.78Z" fill="#36b050"/>
<path d="M404.93,92.87L405.24,95.25L404.44,95.36L406.19,97.55L407.32,94.98L406.52,95.09L406.22,92.71Z" fill="#1ea888"/>
<path d="M412.18,92.92L412.6,95.28L411.81,95.43L413.66,97.53L414.67,94.91L413.88,95.06L413.46,92.69Z" fill="#1ea888"/>
<path d="M419.34,93.03L419.97,95.34L419.2,95.55L421.23,97.48L422,94.79L421.23,95L420.59,92.68Z" fill="#1ea888"/>
<path d="M426.35,93.28L427.37,95.45L426.65,95.79L428.99,97.34L429.27,94.55L428.55,94.89L427.52,92.72Z" fill="#1ea888"/>
<path d="M432.91,94.55L435,95.74L434.6,96.43L437.41,96.36L436.04,93.91L435.64,94.6L433.55,93.42Z" fill="#1ea888"/>
<path d="M440.3,95.88L442.7,95.82L442.71,96.62L445.08,95.11L442.65,93.72L442.66,94.52L440.27,94.58Z" fill="#1ea888"/>
<path d="M447.6,95.64L449.99,95.82L449.93,96.62L452.43,95.35L450.15,93.72L450.09,94.52L447.7,94.34Z" fill="#1ea888"/>
<path d="M455.02,95.88L457.42,95.82L457.44,96.62L459.8,95.11L457.36,93.72L457.38,94.52L454.98,94.58Z" fill="#1ea888"/>
<path d="M462.37,95.85L464.77,95.82L464.78,96.62L467.16,95.14L464.74,93.72L464.75,94.52L462.35,94.55Z" fill="#1ea888"/>
<path d="M469.66,95.53L472.04,95.82L471.95,96.61L474.5,95.46L472.29,93.73L472.2,94.52L469.82,94.24Z" fill="#1ea888"/>
<path d="M477,95.36L479.36,95.81L479.21,96.59L481.84,95.62L479.75,93.75L479.6,94.53L477.24,94.08Z" fill="#1ea888"/>
<path d="M484.45,95.86L486.85,95.82L486.87,96.62L489.24,95.13L486.81,93.72L486.83,94.52L484.43,94.56Z" fill="#1ea888"/>
<path d="M491.79,95.76L494.18,95.82L494.17,96.62L496.6,95.23L494.23,93.72L494.22,94.52L491.82,94.46Z" fill="#1ea888"/>
<path d="M499.17,95.84L501.57,95.82L501.57,96.62L503.96,95.15L501.55,93.72L501.55,94.52L499.15,94.54Z" fill="#1ea888"/>
<path d="M506.69,96.28L509.05,95.81L509.2,96.59L511.27,94.7L508.64,93.75L508.79,94.53L506.44,95Z" fill="#1ea888"/>
<path d="M514.2,96.53L516.48,95.79L516.73,96.55L518.56,94.43L515.83,93.79L516.08,94.55L513.8,95.3Z" fill="#1ea888"/>
<path d="M521.82,96.86L523.94,95.74L524.32,96.45L525.76,94.05L522.96,93.89L523.34,94.6L521.21,95.72Z" fill="#1ea888"/>
<path d="M529.18,96.86L531.3,95.74L531.68,96.45L533.12,94.05L530.32,93.89L530.7,94.6L528.57,95.72Z" fill="#1ea888"/>
<path d="M536.51,96.83L538.65,95.75L539.01,96.46L540.5,94.09L537.71,93.88L538.07,94.59L535.92,95.67Z" fill="#1ea888"/>
<path d="M543.97,96.94L546.05,95.73L546.45,96.42L547.79,93.96L544.99,93.92L545.39,94.61L543.32,95.82Z" fill="#1ea888"/>
<path d="M551.7,97.24L553.51,95.66L554.03,96.26L554.89,93.59L552.13,94.08L552.65,94.68L550.84,96.26Z" fill="#1ea888"/>
<path d="M559.99,97.61L561.03,95.45L561.75,95.8L561.48,93.01L559.13,94.54L559.85,94.89L558.81,97.05Z" fill="#1ea888"/>
<path d="M567.39,97.62L568.39,95.44L569.12,95.77L568.8,92.99L566.48,94.57L567.21,94.9L566.21,97.08Z" fill="#1ea888"/>
<path d="M574.74,97.62L575.75,95.44L576.48,95.78L576.17,92.99L573.84,94.56L574.57,94.9L573.56,97.08Z" fill="#1ea888"/>
<path d="M582.23,97.64L583.12,95.41L583.87,95.71L583.41,92.94L581.17,94.63L581.92,94.93L581.02,97.16Z" fill="#1ea888"/>
<path d="M590.86,97.45L590.52,95.08L591.32,94.96L589.54,92.79L588.44,95.38L589.24,95.26L589.58,97.64Z" fill="#1ea888"/>
<path d="M598.6,97.25L597.86,94.97L598.62,94.72L596.49,92.89L595.86,95.62L596.62,95.37L597.37,97.65Z" fill="#2a9cb6"/>
<path d="M606.35,96.94L605.17,94.85L605.86,94.46L603.42,93.08L603.34,95.88L604.03,95.49L605.21,97.58Z" fill="#2a9cb6"/>
<path d="M344.22,102.42L347.15,103.06L346.98,103.84L349.64,102.94L347.6,101.01L347.43,101.79L344.5,101.15Z" fill="#36b050"/>
<path d="M351.61,102.01L354.41,103.07L354.12,103.82L356.88,103.32L355.16,101.11L354.87,101.86L352.07,100.79Z" fill="#5cbc2c"/>
<path d="M359.16,101.28L361.58,103.06L361.1,103.71L363.89,103.96L362.82,101.37L362.35,102.01L359.93,100.23Z" fill="#a8c418"/>
<path d="M367.06,100.45L368.7,102.97L368.03,103.4L370.55,104.62L370.46,101.82L369.79,102.26L368.15,99.74Z" fill="#a8c418"/>
<path d="M385.1,99.9L383.11,102.16L382.51,101.63L382.01,104.39L384.69,103.54L384.09,103.01L386.07,100.76Z" fill="#a8c418"/>
<path d="M392.99,100.27L390.54,102L390.08,101.35L388.96,103.92L391.75,103.72L391.29,103.06L393.74,101.33Z" fill="#a8c418"/>
<path d="M400.75,100.71L397.99,101.88L397.68,101.14L396.03,103.41L398.81,103.81L398.5,103.08L401.26,101.91Z" fill="#5cbc2c"/>
<path d="M408.24,100.89L405.39,101.84L405.14,101.08L403.32,103.21L406.05,103.83L405.8,103.07L408.65,102.13Z" fill="#36b050"/>
<path d="M411.85,100.3L412.62,102.57L411.87,102.83L414.02,104.63L414.61,101.89L413.86,102.15L413.08,99.88Z" fill="#26a6a8"/>
<path d="M419.04,100.42L420,102.62L419.27,102.94L421.56,104.56L421.93,101.78L421.2,102.1L420.23,99.9Z" fill="#26a6a8"/>
<path d="M426.68,100.23L427.34,102.54L426.57,102.76L428.62,104.67L429.35,101.96L428.58,102.18L427.93,99.87Z" fill="#26a6a8"/>
<path d="M433.07,101.3L434.9,102.86L434.38,103.47L437.15,103.91L436.26,101.25L435.74,101.86L433.91,100.31Z" fill="#26a6a8"/>
<path d="M440.21,102.11L442.45,102.97L442.16,103.71L444.92,103.22L443.2,101.01L442.91,101.75L440.67,100.9Z" fill="#26a6a8"/>
<path d="M447.56,102.5L449.91,103L449.74,103.78L452.39,102.86L450.34,100.94L450.17,101.72L447.83,101.23Z" fill="#26a6a8"/>
<path d="M455.01,103.05L457.41,103.01L457.42,103.81L459.8,102.32L457.38,100.91L457.39,101.71L454.99,101.75Z" fill="#26a6a8"/>
<path d="M462.29,102.68L464.67,103L464.57,103.8L467.14,102.68L464.95,100.92L464.85,101.72L462.47,101.39Z" fill="#26a6a8"/>
<path d="M469.66,102.7L472.04,103L471.94,103.8L474.5,102.66L472.3,100.92L472.2,101.72L469.82,101.41Z" fill="#26a6a8"/>
<path d="M477.04,102.82L479.43,103.01L479.37,103.81L481.87,102.54L479.59,100.91L479.53,101.71L477.14,101.53Z" fill="#26a6a8"/>
<path d="M484.42,102.93L486.82,103.01L486.79,103.81L489.24,102.44L486.89,100.91L486.86,101.71L484.46,101.63Z" fill="#26a6a8"/>
<path d="M491.77,102.9L494.17,103.01L494.13,103.81L496.6,102.47L494.27,100.91L494.23,101.71L491.83,101.6Z" fill="#26a6a8"/>
<path d="M499.23,103.24L501.62,103.01L501.7,103.8L503.95,102.13L501.42,100.92L501.5,101.71L499.11,101.94Z" fill="#26a6a8"/>
<path d="M506.5,102.91L508.89,103.01L508.86,103.81L511.32,102.46L508.98,100.91L508.95,101.71L506.55,101.62Z" fill="#26a6a8"/>
<path d="M514.12,103.59L516.44,102.99L516.64,103.76L518.6,101.76L515.92,100.96L516.12,101.73L513.79,102.33Z" fill="#26a6a8"/>
<path d="M521.74,103.96L523.91,102.95L524.25,103.67L525.82,101.35L523.03,101.05L523.37,101.77L521.19,102.78Z" fill="#26a6a8"/>
<path d="M529.42,104.28L531.38,102.89L531.84,103.54L532.96,100.97L530.16,101.18L530.62,101.83L528.67,103.21Z" fill="#26a6a8"/>
<path d="M536.6,104.12L538.68,102.92L539.08,103.62L540.44,101.16L537.64,101.1L538.04,101.8L535.96,102.99Z" fill="#26a6a8"/>
<path d="M543.82,103.96L545.99,102.95L546.33,103.68L547.9,101.35L545.11,101.04L545.45,101.77L543.27,102.78Z" fill="#26a6a8"/>
<path d="M551.83,104.51L553.54,102.82L554.1,103.39L554.79,100.67L552.06,101.33L552.62,101.9L550.91,103.58Z" fill="#26a6a8"/>
<path d="M559.51,104.66L560.96,102.75L561.6,103.24L561.89,100.45L559.28,101.48L559.92,101.97L558.47,103.88Z" fill="#26a6a8"/>
<path d="M567.29,104.79L568.38,102.65L569.09,103.02L568.89,100.22L566.51,101.7L567.22,102.07L566.13,104.21Z" fill="#26a6a8"/>
<path d="M574.61,104.78L575.73,102.66L576.44,103.04L576.28,100.24L573.88,101.68L574.59,102.06L573.46,104.18Z" fill="#26a6a8"/>
<path d="M582.67,104.84L583.16,102.49L583.94,102.65L583.01,100.01L581.1,102.07L581.88,102.23L581.4,104.58Z" fill="#26a6a8"/>
<path d="M591.31,104.4L590.49,102.14L591.24,101.87L589.06,100.1L588.52,102.85L589.27,102.58L590.09,104.84Z" fill="#26a6a8"/>
<path d="M598.91,104.2L597.82,102.07L598.53,101.7L596.15,100.22L595.95,103.02L596.66,102.65L597.75,104.79Z" fill="#26a6a8"/>
<path d="M606.61,103.82L605.11,101.95L605.73,101.45L603.09,100.49L603.47,103.27L604.09,102.77L605.6,104.63Z" fill="#2cb8b4"/>
<path d="M344.32,110.28L347.32,110.19L347.34,110.99L349.7,109.47L347.26,108.09L347.28,108.89L344.28,108.98Z" fill="#36b050"/>
<path d="M351.66,110.22L354.66,110.2L354.67,111L357.06,109.53L354.65,108.1L354.66,108.9L351.66,108.92Z" fill="#5cbc2c"/>
<path d="M358.95,109.74L361.91,110.24L361.77,111.03L364.38,110L362.26,108.17L362.12,108.96L359.17,108.46Z" fill="#a8c418"/>
<path d="M393.71,108.45L390.75,108.96L390.62,108.17L388.5,110.01L391.11,111.03L390.98,110.24L393.93,109.73Z" fill="#a8c418"/>
<path d="M401.09,108.49L398.12,108.95L398,108.16L395.85,109.97L398.45,111.03L398.32,110.24L401.29,109.77Z" fill="#5cbc2c"/>
<path d="M408.43,108.46L405.48,108.96L405.34,108.17L403.22,110L405.83,111.03L405.69,110.24L408.65,109.74Z" fill="#36b050"/>
<path d="M411.75,107.56L412.64,109.79L411.89,110.08L414.13,111.78L414.59,109.02L413.84,109.31L412.96,107.08Z" fill="#26a6a8"/>
<path d="M419.12,107.55L420,109.79L419.25,110.08L421.48,111.78L421.95,109.02L421.2,109.31L420.33,107.08Z" fill="#26a6a8"/>
<path d="M426.81,107.35L427.33,109.69L426.54,109.86L428.48,111.89L429.38,109.24L428.59,109.41L428.08,107.07Z" fill="#26a6a8"/>
<path d="M433.52,107.83L434.76,109.89L434.08,110.3L436.56,111.6L436.56,108.8L435.88,109.21L434.64,107.16Z" fill="#26a6a8"/>
<path d="M440.48,108.38L442.24,110.02L441.69,110.61L444.43,111.19L443.67,108.49L443.12,109.08L441.37,107.43Z" fill="#26a6a8"/>
<path d="M447.6,109.09L449.76,110.14L449.41,110.86L452.2,110.59L450.67,108.24L450.32,108.96L448.16,107.92Z" fill="#26a6a8"/>
<path d="M454.92,109.72L457.27,110.19L457.12,110.97L459.75,110.01L457.68,108.13L457.53,108.91L455.17,108.45Z" fill="#26a6a8"/>
<path d="M462.3,109.93L464.69,110.2L464.6,110.99L467.14,109.82L464.92,108.11L464.83,108.9L462.45,108.63Z" fill="#26a6a8"/>
<path d="M470.04,110.91L472.32,110.17L472.57,110.93L474.4,108.81L471.67,108.17L471.92,108.93L469.64,109.67Z" fill="#26a6a8"/>
<path d="M477.26,110.66L479.61,110.19L479.77,110.97L481.83,109.08L479.19,108.13L479.35,108.91L477,109.39Z" fill="#26a6a8"/>
<path d="M484.41,110.07L486.8,110.2L486.76,111L489.24,109.68L486.92,108.1L486.88,108.9L484.48,108.77Z" fill="#26a6a8"/>
<path d="M491.73,109.24L493.95,110.15L493.65,110.89L496.42,110.46L494.75,108.21L494.45,108.95L492.22,108.04Z" fill="#26a6a8"/>
<path d="M499.08,109.35L501.34,110.16L501.07,110.91L503.82,110.37L502.05,108.19L501.78,108.94L499.52,108.12Z" fill="#26a6a8"/>
<path d="M506.47,109.97L508.86,110.2L508.78,110.99L511.31,109.78L509.06,108.11L508.98,108.9L506.59,108.67Z" fill="#26a6a8"/>
<path d="M514.07,110.69L516.42,110.19L516.58,110.97L518.63,109.05L515.98,108.13L516.14,108.91L513.8,109.41Z" fill="#26a6a8"/>
<path d="M521.87,111.3L523.96,110.12L524.36,110.81L525.73,108.36L522.92,108.29L523.32,108.98L521.23,110.17Z" fill="#26a6a8"/>
<path d="M529.32,111.38L531.35,110.1L531.77,110.78L533.03,108.27L530.23,108.32L530.65,109L528.62,110.28Z" fill="#26a6a8"/>
<path d="M536.75,111.44L538.73,110.09L539.18,110.75L540.34,108.19L537.54,108.35L537.99,109.01L536.01,110.37Z" fill="#26a6a8"/>
<path d="M544.28,111.57L546.13,110.05L546.64,110.67L547.58,108.03L544.8,108.43L545.31,109.05L543.45,110.57Z" fill="#26a6a8"/>
<path d="M551.97,111.77L553.57,109.98L554.16,110.51L554.68,107.76L552,108.59L552.59,109.12L551,110.91Z" fill="#26a6a8"/>
<path d="M559.82,111.96L561,109.87L561.7,110.27L561.63,107.47L559.18,108.83L559.88,109.23L558.69,111.31Z" fill="#26a6a8"/>
<path d="M568.1,112.02L568.44,109.64L569.23,109.76L568.15,107.18L566.37,109.34L567.16,109.46L566.81,111.83Z" fill="#26a6a8"/>
<path d="M575.6,112L575.81,109.61L576.6,109.67L575.37,107.16L573.72,109.43L574.51,109.49L574.31,111.89Z" fill="#26a6a8"/>
<path d="M584.27,111.32L583.09,109.23L583.78,108.83L581.34,107.46L581.26,110.27L581.95,109.87L583.14,111.96Z" fill="#26a6a8"/>
<path d="M592.23,110.35L590.24,109.01L590.69,108.35L587.89,108.21L589.07,110.75L589.52,110.09L591.51,111.43Z" fill="#26a6a8"/>
<path d="M599.7,109.94L597.51,108.96L597.83,108.23L595.05,108.57L596.65,110.87L596.97,110.14L599.16,111.13Z" fill="#26a6a8"/>
<path d="M607.09,109.58L604.78,108.92L605,108.16L602.29,108.89L604.2,110.94L604.42,110.18L606.73,110.83Z" fill="#2cb8b4"/>
<path d="M344.47,117.89L347.42,117.32L347.57,118.11L349.65,116.22L347.02,115.26L347.17,116.04L344.23,116.62Z" fill="#36b050"/>
<path d="M351.74,117.67L354.73,117.35L354.81,118.15L357.04,116.45L354.5,115.27L354.59,116.06L351.61,116.38Z" fill="#5cbc2c"/>
<path d="M359.24,117.98L362.16,117.31L362.34,118.08L364.35,116.13L361.68,115.26L361.87,116.04L358.94,116.72Z" fill="#a8c418"/>
<path d="M393.91,117.13L391.12,116.03L391.42,115.28L388.65,115.74L390.35,117.98L390.64,117.23L393.43,118.34Z" fill="#a8c418"/>
<path d="M401.3,116.75L398.38,116.04L398.57,115.26L395.9,116.1L397.89,118.08L398.07,117.3L400.99,118.01Z" fill="#5cbc2c"/>
<path d="M408.66,116.8L405.75,116.04L405.96,115.26L403.27,116.05L405.22,118.07L405.42,117.29L408.33,118.05Z" fill="#36b050"/>
<path d="M412.15,114.5L412.6,116.86L411.82,117.01L413.69,119.1L414.66,116.47L413.88,116.62L413.43,114.26Z" fill="#26a6a8"/>
<path d="M419.36,114.59L419.97,116.91L419.2,117.11L421.21,119.06L422,116.37L421.23,116.57L420.62,114.25Z" fill="#26a6a8"/>
<path d="M427.06,114.42L427.31,116.81L426.52,116.9L428.22,119.13L429.4,116.58L428.61,116.67L428.35,114.28Z" fill="#26a6a8"/>
<path d="M434.3,114.47L434.68,116.84L433.89,116.97L435.7,119.11L436.75,116.51L435.96,116.64L435.58,114.27Z" fill="#4c78c4"/>
<path d="M441.98,114.36L442.03,116.75L441.23,116.77L442.73,119.14L444.13,116.71L443.33,116.73L443.28,114.33Z" fill="#2e98b4"/>
<path d="M448.71,114.64L449.42,116.93L448.65,117.17L450.75,119.03L451.43,116.31L450.66,116.55L449.96,114.25Z" fill="#2e98b4"/>
<path d="M455.88,114.77L456.8,116.99L456.06,117.29L458.32,118.96L458.74,116.19L458,116.49L457.09,114.27Z" fill="#4c78c4"/>
<path d="M462.78,118.24L465,117.34L465.3,118.09L466.99,115.85L464.22,115.39L464.52,116.14L462.29,117.03Z" fill="#2e98b4"/>
<path d="M471.25,119.07L472.65,117.12L473.3,117.58L473.52,114.79L470.94,115.9L471.59,116.36L470.19,118.31Z" fill="#2e98b4"/>
<path d="M477.87,118.63L479.85,117.28L480.3,117.94L481.46,115.38L478.66,115.54L479.11,116.2L477.13,117.56Z" fill="#4c78c4"/>
<path d="M484.35,116.7L486.66,117.36L486.44,118.13L489.15,117.4L487.24,115.35L487.02,116.12L484.71,115.45Z" fill="#2e98b4"/>
<path d="M491.89,115.82L493.81,117.26L493.33,117.9L496.12,118.18L495.07,115.58L494.59,116.22L492.67,114.78Z" fill="#2e98b4"/>
<path d="M499.56,115.26L501.05,117.14L500.42,117.64L503.05,118.62L502.7,115.84L502.07,116.34L500.58,114.45Z" fill="#4c78c4"/>
<path d="M506.43,116.67L508.73,117.36L508.5,118.13L511.22,117.44L509.34,115.35L509.11,116.12L506.81,115.42Z" fill="#2e98b4"/>
<path d="M514.32,118.27L516.53,117.34L516.84,118.08L518.49,115.81L515.72,115.4L516.03,116.14L513.82,117.07Z" fill="#2e98b4"/>
<path d="M521.99,118.6L524,117.28L524.43,117.95L525.65,115.43L522.85,115.53L523.28,116.2L521.27,117.51Z" fill="#4c78c4"/>
<path d="M529.29,118.54L531.34,117.3L531.75,117.98L533.05,115.49L530.25,115.5L530.66,116.18L528.61,117.43Z" fill="#4c78c4"/>
<path d="M536.99,118.82L538.79,117.23L539.32,117.83L540.16,115.15L537.4,115.65L537.93,116.25L536.13,117.84Z" fill="#2e98b4"/>
<path d="M544.42,118.86L546.17,117.21L546.72,117.79L547.46,115.09L544.72,115.69L545.27,116.27L543.53,117.92Z" fill="#4c78c4"/>
<path d="M554.24,118.94L553.71,116.6L554.49,116.42L552.55,114.4L551.67,117.06L552.45,116.88L552.97,119.22Z" fill="#4c78c4"/>
<path d="M562.9,117.07L560.69,116.14L561,115.4L558.23,115.81L559.88,118.08L560.19,117.34L562.4,118.27Z" fill="#2e98b4"/>
<path d="M570.28,116.91L568.01,116.13L568.27,115.37L565.53,115.96L567.33,118.11L567.59,117.35L569.86,118.14Z" fill="#4c78c4"/>
<path d="M577.64,116.84L575.35,116.12L575.59,115.36L572.87,116.02L574.73,118.12L574.97,117.36L577.26,118.08Z" fill="#4c78c4"/>
<path d="M585,116.58L582.65,116.1L582.81,115.32L580.17,116.27L582.23,118.16L582.39,117.38L584.74,117.85Z" fill="#2e98b4"/>
<path d="M592.32,116.29L589.93,116.09L590,115.29L587.49,116.55L589.76,118.19L589.83,117.39L592.22,117.58Z" fill="#26a6a8"/>
<path d="M599.72,116.52L597.35,116.1L597.5,115.31L594.88,116.32L596.98,118.17L597.13,117.38L599.49,117.8Z" fill="#26a6a8"/>
<path d="M607.04,116.25L604.64,116.09L604.7,115.29L602.21,116.58L604.5,118.19L604.56,117.39L606.95,117.55Z" fill="#2cb8b4"/>
<path d="M344.86,125.71L347.56,124.38L347.91,125.1L349.42,122.74L346.63,122.5L346.98,123.21L344.29,124.54Z" fill="#36b050"/>
<path d="M352.14,125.59L354.89,124.41L355.21,125.14L356.84,122.86L354.06,122.48L354.38,123.21L351.62,124.4Z" fill="#5cbc2c"/>
<path d="M359.81,125.95L362.33,124.31L362.76,124.98L363.98,122.46L361.18,122.55L361.62,123.22L359.1,124.86Z" fill="#a8c418"/>
<path d="M368.32,126.6L369.79,123.99L370.49,124.38L370.41,121.58L367.96,122.96L368.66,123.35L367.19,125.96Z" fill="#a8c418"/>
<path d="M377.42,126.53L377.05,123.55L377.84,123.45L376.11,121.25L374.96,123.81L375.76,123.71L376.13,126.69Z" fill="#a8c418"/>
<path d="M385.96,125.68L384.13,123.3L384.77,122.81L382.16,121.79L382.47,124.57L383.1,124.09L384.92,126.47Z" fill="#a8c418"/>
<path d="M393.79,124.84L391.26,123.22L391.69,122.55L388.88,122.48L390.13,124.99L390.56,124.32L393.09,125.93Z" fill="#5cbc2c"/>
<path d="M401.23,124.52L398.53,123.21L398.88,122.49L396.09,122.76L397.62,125.11L397.97,124.39L400.67,125.69Z" fill="#5cbc2c"/>
<path d="M408.65,124.06L405.77,123.22L405.99,122.45L403.29,123.18L405.19,125.24L405.41,124.47L408.29,125.31Z" fill="#36b050"/>
<path d="M412.63,121.52L412.59,123.92L411.79,123.91L413.2,126.33L414.69,123.95L413.89,123.94L413.93,121.54Z" fill="#26a6a8"/>
<path d="M420.08,121.5L419.95,123.89L419.15,123.85L420.47,126.33L422.05,124.01L421.25,123.97L421.38,121.57Z" fill="#26a6a8"/>
<path d="M427.98,121.44L427.33,123.76L426.56,123.54L427.32,126.24L429.36,124.32L428.59,124.1L429.23,121.79Z" fill="#26a6a8"/>
<path d="M436.25,121.62L434.8,123.54L434.16,123.06L433.87,125.85L436.48,124.8L435.84,124.32L437.29,122.41Z" fill="#2e98b4"/>
<path d="M444.36,122.1L442.33,123.38L441.91,122.7L440.65,125.21L443.45,125.16L443.03,124.48L445.06,123.2Z" fill="#4c78c4"/>
<path d="M452.04,122.45L449.8,123.32L449.51,122.58L447.8,124.8L450.57,125.28L450.28,124.54L452.51,123.67Z" fill="#4c78c4"/>
<path d="M459.79,123.26L457.39,123.28L457.39,122.48L455,123.95L457.41,125.38L457.41,124.58L459.81,124.56Z" fill="#2e98b4"/>
<path d="M465.66,126.25L465.41,123.86L466.2,123.78L464.51,121.54L463.32,124.08L464.11,124L464.37,126.39Z" fill="#4c78c4"/>
<path d="M472.27,126.41L472.76,124.06L473.54,124.22L472.61,121.58L470.7,123.64L471.48,123.8L471,126.15Z" fill="#4c78c4"/>
<path d="M478.98,126.36L480.06,124.22L480.77,124.59L480.56,121.79L478.19,123.27L478.9,123.64L477.82,125.78Z" fill="#4a66c2"/>
<path d="M484.39,123.51L486.57,124.52L486.23,125.25L489.02,124.94L487.45,122.61L487.11,123.34L484.94,122.33Z" fill="#4a66c2"/>
<path d="M492.72,121.94L493.6,124.17L492.85,124.46L495.08,126.16L495.55,123.4L494.8,123.69L493.92,121.46Z" fill="#4a66c2"/>
<path d="M500.74,121.58L500.91,123.98L500.11,124.03L501.73,126.32L503.01,123.83L502.21,123.88L502.04,121.49Z" fill="#2e98b4"/>
<path d="M509.62,121.54L508.37,123.59L507.68,123.17L507.67,125.98L510.16,124.69L509.47,124.27L510.73,122.22Z" fill="#4c78c4"/>
<path d="M518.56,122.94L516.19,123.29L516.07,122.5L513.9,124.28L516.49,125.36L516.37,124.57L518.75,124.23Z" fill="#4c78c4"/>
<path d="M526.01,123.18L523.61,123.28L523.58,122.48L521.24,124.03L523.7,125.38L523.67,124.58L526.07,124.48Z" fill="#2e98b4"/>
<path d="M533.42,123.37L531.03,123.28L531.06,122.48L528.6,123.84L530.94,125.38L530.97,124.58L533.37,124.67Z" fill="#2e98b4"/>
<path d="M540.58,122.8L538.23,123.29L538.06,122.51L536.01,124.42L538.66,125.35L538.49,124.57L540.84,124.08Z" fill="#4c78c4"/>
<path d="M547.77,122.53L545.51,123.32L545.24,122.56L543.45,124.72L546.2,125.3L545.93,124.54L548.2,123.75Z" fill="#2e98b4"/>
<path d="M554.99,122.34L552.81,123.34L552.48,122.61L550.9,124.93L553.68,125.25L553.35,124.52L555.53,123.53Z" fill="#2e98b4"/>
<path d="M562.39,122.39L560.18,123.33L559.87,122.6L558.23,124.87L561.01,125.26L560.7,124.53L562.9,123.58Z" fill="#4c78c4"/>
<path d="M569.86,122.54L567.59,123.31L567.33,122.56L565.53,124.7L568.27,125.3L568.01,124.55L570.28,123.78Z" fill="#2e98b4"/>
<path d="M577.52,123.15L575.12,123.28L575.08,122.48L572.76,124.07L575.24,125.38L575.2,124.58L577.59,124.44Z" fill="#2e98b4"/>
<path d="M584.95,123.41L582.55,123.28L582.6,122.48L580.12,123.8L582.44,125.38L582.49,124.58L584.88,124.71Z" fill="#4c78c4"/>
<path d="M592.33,123.52L589.94,123.28L590.02,122.49L587.49,123.69L589.74,125.37L589.82,124.58L592.2,124.81Z" fill="#26a6a8"/>
<path d="M599.56,123.02L597.17,123.28L597.08,122.49L594.85,124.19L597.4,125.37L597.31,124.58L599.7,124.32Z" fill="#26a6a8"/>
<path d="M606.92,123.03L604.53,123.28L604.45,122.49L602.21,124.19L604.75,125.37L604.67,124.58L607.06,124.32Z" fill="#2cb8b4"/>
<path d="M348.25,128.97L346.54,130.66L345.98,130.09L345.29,132.8L348.02,132.15L347.46,131.58L349.17,129.9Z" fill="#26a6a8"/>
<path d="M352.56,133.23L354.98,131.47L355.46,132.12L356.54,129.53L353.75,129.77L354.22,130.42L351.79,132.18Z" fill="#36b050"/>
<path d="M360.64,133.68L362.42,131.26L363.07,131.74L363.32,128.95L360.73,130.02L361.37,130.49L359.59,132.91Z" fill="#5cbc2c"/>
<path d="M368.71,133.87L369.79,131.07L370.54,131.36L370.05,128.6L367.84,130.32L368.58,130.61L367.5,133.41Z" fill="#5cbc2c"/>
<path d="M377.47,133.7L377.04,130.73L377.83,130.62L376.06,128.45L374.96,131.03L375.75,130.92L376.18,133.89Z" fill="#5cbc2c"/>
<path d="M385.48,133.33L384.27,130.58L385.01,130.26L382.72,128.65L382.35,131.43L383.08,131.11L384.29,133.85Z" fill="#5cbc2c"/>
<path d="M392.4,132.91L391.74,131.02L392.42,130.79L390.47,129.14L389.97,131.64L390.65,131.4L391.31,133.29Z" fill="#5cbc2c"/>
<path d="M400.09,132.63L399.06,130.91L399.69,130.54L397.44,129.32L397.46,131.87L398.08,131.5L399.11,133.22Z" fill="#36b050"/>
<path d="M405.79,128.94L405.34,130.89L404.64,130.73L405.41,133.17L407.17,131.31L406.46,131.15L406.91,129.2Z" fill="#26a6a8"/>
<path d="M413.29,128.94L412.72,130.86L412.02,130.65L412.64,133.13L414.51,131.39L413.82,131.19L414.39,129.27Z" fill="#26a6a8"/>
<path d="M421.57,129.17L420.24,130.66L419.7,130.18L419.2,132.68L421.63,131.91L421.09,131.43L422.43,129.94Z" fill="#26a6a8"/>
<path d="M429.19,129.32L427.66,130.62L427.19,130.06L426.36,132.48L428.88,132.05L428.41,131.49L429.93,130.2Z" fill="#26a6a8"/>
<path d="M437.27,130.15L435.31,130.54L435.17,129.83L433.26,131.52L435.67,132.38L435.53,131.67L437.49,131.28Z" fill="#2e98b4"/>
<path d="M444.75,130.44L442.75,130.54L442.72,129.82L440.58,131.22L442.84,132.41L442.81,131.69L444.81,131.59Z" fill="#4c78c4"/>
<path d="M452.22,131.03L450.27,130.58L450.43,129.87L447.99,130.65L449.85,132.41L450.01,131.7L451.96,132.15Z" fill="#4c78c4"/>
<path d="M459.47,131.8L457.8,130.7L458.2,130.09L455.65,129.96L456.77,132.26L457.17,131.65L458.83,132.76Z" fill="#2e98b4"/>
<path d="M466.5,132.43L465.28,130.85L465.85,130.41L463.48,129.46L463.79,131.99L464.37,131.55L465.59,133.13Z" fill="#4c78c4"/>
<path d="M473.51,132.79L472.68,130.97L473.35,130.67L471.25,129.21L470.98,131.75L471.64,131.45L472.46,133.27Z" fill="#4c78c4"/>
<path d="M481.16,132.5L480.01,130.87L480.6,130.45L478.27,129.4L478.48,131.95L479.07,131.53L480.22,133.17Z" fill="#4a66c2"/>
<path d="M488.13,129.36L486.56,130.61L486.11,130.04L485.2,132.43L487.73,132.08L487.28,131.51L488.84,130.26Z" fill="#4a66c2"/>
<path d="M494.58,128.98L493.72,130.78L493.07,130.47L493.3,133.02L495.42,131.59L494.76,131.28L495.62,129.47Z" fill="#4c78c4"/>
<path d="M501.2,128.97L501,130.96L500.28,130.89L501.35,133.21L502.86,131.15L502.14,131.08L502.35,129.09Z" fill="#2e98b4"/>
<path d="M509.36,128.99L508.45,130.77L507.81,130.44L507.97,132.99L510.12,131.62L509.48,131.29L510.39,129.51Z" fill="#4c78c4"/>
<path d="M518.29,130.29L516.31,130.54L516.22,129.82L514.2,131.38L516.54,132.4L516.45,131.68L518.44,131.43Z" fill="#4c78c4"/>
<path d="M525.68,130.35L523.68,130.54L523.62,129.82L521.55,131.32L523.86,132.4L523.79,131.68L525.79,131.49Z" fill="#2e98b4"/>
<path d="M532.69,129.75L530.86,130.55L530.57,129.89L529.08,131.97L531.62,132.27L531.32,131.61L533.15,130.8Z" fill="#2e98b4"/>
<path d="M540.04,129.73L538.21,130.55L537.92,129.89L536.45,131.98L538.99,132.26L538.69,131.6L540.51,130.78Z" fill="#4c78c4"/>
<path d="M547.49,129.86L545.62,130.55L545.37,129.86L543.75,131.84L546.26,132.31L546.01,131.63L547.89,130.94Z" fill="#2e98b4"/>
<path d="M554.2,129.25L552.75,130.64L552.25,130.11L551.56,132.57L554.05,131.99L553.55,131.47L554.99,130.08Z" fill="#2e98b4"/>
<path d="M562.14,129.76L560.3,130.55L560.02,129.89L558.51,131.95L561.05,132.27L560.76,131.61L562.6,130.82Z" fill="#4c78c4"/>
<path d="M569.27,129.51L567.58,130.58L567.19,129.97L566.03,132.24L568.58,132.17L568.19,131.55L569.88,130.48Z" fill="#2e98b4"/>
<path d="M577.15,130.23L575.17,130.54L575.06,129.82L573.08,131.44L575.46,132.39L575.35,131.67L577.32,131.37Z" fill="#2e98b4"/>
<path d="M584.11,129.64L582.34,130.56L582.01,129.92L580.66,132.09L583.21,132.23L582.88,131.58L584.65,130.66Z" fill="#4c78c4"/>
<path d="M591.95,130.46L589.96,130.54L589.93,129.82L587.78,131.21L590.03,132.41L590,131.69L592,131.61Z" fill="#26a6a8"/>
<path d="M599.58,130.29L597.19,130.47L597.13,129.67L594.85,131.3L597.35,132.57L597.29,131.77L599.68,131.59Z" fill="#26a6a8"/>
<path d="M607.04,130.64L604.65,130.47L604.7,129.67L602.21,130.95L604.5,132.57L604.55,131.77L606.95,131.94Z" fill="#2cb8b4"/>
<path d="M348.36,136.23L346.57,137.82L346.04,137.23L345.21,139.9L347.96,139.39L347.43,138.8L349.23,137.2Z" fill="#26a6a8"/>
<path d="M355.6,136.16L353.9,137.85L353.34,137.28L352.66,140L355.38,139.34L354.82,138.77L356.52,137.08Z" fill="#26a6a8"/>
<path d="M361.19,141.04L362.44,138.31L363.16,138.64L362.84,135.85L360.52,137.44L361.25,137.77L360.01,140.5Z" fill="#36b050"/>
<path d="M368.71,141.06L369.79,138.27L370.54,138.55L370.06,135.79L367.84,137.51L368.58,137.8L367.5,140.59Z" fill="#36b050"/>
<path d="M377.26,140.96L377.07,137.97L377.87,137.92L376.27,135.62L374.97,138.1L375.77,138.05L375.96,141.05Z" fill="#5cbc2c"/>
<path d="M385,140.81L384.37,137.88L385.15,137.71L383.23,135.67L382.32,138.32L383.1,138.15L383.73,141.09Z" fill="#36b050"/>
<path d="M393.01,139.45L391.65,137.99L392.18,137.5L389.73,136.78L390.28,139.27L390.81,138.78L392.17,140.24Z" fill="#36b050"/>
<path d="M399.47,136.35L398.15,137.86L397.61,137.38L397.14,139.89L399.56,139.09L399.02,138.61L400.34,137.11Z" fill="#2aa4b0"/>
<path d="M407.02,136.46L405.56,137.82L405.07,137.29L404.35,139.74L406.84,139.19L406.35,138.66L407.81,137.3Z" fill="#4672c2"/>
<path d="M413.26,136.13L412.71,138.06L412.02,137.86L412.67,140.33L414.52,138.57L413.82,138.37L414.37,136.45Z" fill="#4672c2"/>
<path d="M421.21,136.22L420.16,137.92L419.54,137.54L419.5,140.1L421.76,138.91L421.14,138.53L422.19,136.82Z" fill="#2aa4b0"/>
<path d="M429.63,136.92L427.81,137.75L427.51,137.09L426.05,139.18L428.59,139.45L428.29,138.79L430.11,137.96Z" fill="#2aa4b0"/>
<path d="M437.44,137.83L435.45,137.74L435.48,137.02L433.22,138.21L435.36,139.61L435.39,138.89L437.39,138.98Z" fill="#2aa4b0"/>
<path d="M444.76,138.94L443.07,137.88L443.46,137.26L440.9,137.19L442.07,139.46L442.46,138.85L444.15,139.91Z" fill="#2aa4b0"/>
<path d="M452.12,137.66L450.12,137.73L450.09,137.01L447.94,138.39L450.19,139.61L450.16,138.88L452.16,138.81Z" fill="#4672c2"/>
<path d="M459.58,138.37L457.66,137.79L457.88,137.1L455.39,137.7L457.12,139.58L457.33,138.89L459.24,139.47Z" fill="#4672c2"/>
<path d="M466.42,139.72L465.29,138.07L465.89,137.66L463.57,136.58L463.74,139.13L464.34,138.72L465.47,140.37Z" fill="#2aa4b0"/>
<path d="M473.32,140.12L472.7,138.22L473.39,138L471.46,136.32L470.92,138.81L471.61,138.59L472.23,140.48Z" fill="#2aa4b0"/>
<path d="M481.66,138.33L479.73,137.78L479.93,137.09L477.46,137.74L479.22,139.59L479.42,138.89L481.34,139.44Z" fill="#2aa4b0"/>
<path d="M489,138.08L487.03,137.76L487.15,137.04L484.77,137.98L486.73,139.61L486.85,138.89L488.82,139.21Z" fill="#2aa4b0"/>
<path d="M495.01,136.29L493.8,137.88L493.22,137.45L492.93,139.99L495.3,139.01L494.72,138.58L495.92,136.98Z" fill="#4672c2"/>
<path d="M502.32,136.27L501.15,137.89L500.56,137.47L500.33,140.01L502.67,138.99L502.08,138.57L503.26,136.94Z" fill="#4672c2"/>
<path d="M510.29,136.62L508.66,137.79L508.24,137.2L507.22,139.54L509.76,139.31L509.34,138.72L510.96,137.55Z" fill="#2aa4b0"/>
<path d="M517.73,136.69L516.05,137.77L515.66,137.16L514.52,139.45L517.07,139.35L516.68,138.74L518.36,137.65Z" fill="#2aa4b0"/>
<path d="M525.48,137.15L523.57,137.73L523.36,137.04L521.63,138.92L524.11,139.52L523.9,138.83L525.82,138.25Z" fill="#26a6a8"/>
<path d="M532.56,136.79L530.81,137.76L530.46,137.12L529.16,139.32L531.72,139.4L531.37,138.77L533.12,137.8Z" fill="#26a6a8"/>
<path d="M539.72,136.61L538.1,137.79L537.67,137.2L536.66,139.55L539.21,139.3L538.78,138.72L540.4,137.54Z" fill="#26a6a8"/>
<path d="M547.69,137.37L545.72,137.73L545.59,137.01L543.65,138.68L546.05,139.57L545.92,138.86L547.89,138.51Z" fill="#26a6a8"/>
<path d="M554.4,136.58L552.81,137.79L552.37,137.21L551.41,139.58L553.95,139.28L553.51,138.71L555.1,137.5Z" fill="#26a6a8"/>
<path d="M561.91,136.7L560.22,137.77L559.83,137.16L558.67,139.43L561.22,139.35L560.83,138.74L562.52,137.67Z" fill="#26a6a8"/>
<path d="M569.61,137.1L567.71,137.73L567.49,137.04L565.81,138.97L568.3,139.51L568.08,138.82L569.97,138.2Z" fill="#26a6a8"/>
<path d="M576.87,136.96L575.03,137.74L574.74,137.07L573.23,139.13L575.76,139.47L575.48,138.8L577.32,138.02Z" fill="#26a6a8"/>
<path d="M583.96,136.67L582.29,137.78L581.89,137.17L580.77,139.47L583.32,139.34L582.92,138.73L584.59,137.63Z" fill="#26a6a8"/>
<path d="M592.04,138.02L590.05,137.75L590.15,137.03L587.8,138.03L589.81,139.61L589.9,138.89L591.89,139.16Z" fill="#26a6a8"/>
<path d="M599.53,137.33L597.15,137.67L597.04,136.87L594.86,138.64L597.44,139.75L597.33,138.95L599.71,138.62Z" fill="#26a6a8"/>
<path d="M606.9,137.37L604.52,137.66L604.42,136.87L602.22,138.61L604.78,139.75L604.68,138.96L607.06,138.66Z" fill="#2cb8b4"/>
<path d="M348.04,143.24L346.5,145.08L345.89,144.57L345.46,147.34L348.11,146.43L347.5,145.92L349.04,144.07Z" fill="#24a6a8"/>
<path d="M355.82,143.49L353.95,144.99L353.45,144.37L352.49,147.01L355.27,146.63L354.77,146.01L356.63,144.5Z" fill="#24a6a8"/>
<path d="M362.84,143.28L361.24,145.07L360.64,144.53L360.12,147.29L362.8,146.47L362.2,145.93L363.8,144.14Z" fill="#24a6a8"/>
<path d="M370.46,143.43L368.65,145.01L368.13,144.41L367.27,147.08L370.03,146.59L369.51,145.99L371.32,144.41Z" fill="#24a6a8"/>
<path d="M376.87,148.24L377.11,145.25L377.91,145.32L376.66,142.81L375.02,145.08L375.82,145.15L375.57,148.14Z" fill="#36b050"/>
<path d="M384.96,143.3L383.32,145.06L382.74,144.51L382.16,147.25L384.86,146.49L384.28,145.94L385.91,144.19Z" fill="#24a6a8"/>
<path d="M392.24,143.26L390.67,145.07L390.07,144.55L389.59,147.31L392.25,146.45L391.65,145.93L393.22,144.11Z" fill="#24a6a8"/>
<path d="M400,143.9L398.3,144.96L397.92,144.34L396.74,146.61L399.29,146.55L398.91,145.94L400.61,144.88Z" fill="#4672c2"/>
<path d="M406.42,143.39L405.43,145.13L404.8,144.77L404.84,147.33L407.06,146.06L406.43,145.7L407.42,143.96Z" fill="#2aa4b0"/>
<path d="M413.52,143.34L412.75,145.19L412.08,144.91L412.43,147.44L414.48,145.91L413.81,145.63L414.58,143.78Z" fill="#2aa4b0"/>
<path d="M420.9,143.34L420.11,145.18L419.44,144.9L419.77,147.43L421.83,145.92L421.17,145.63L421.95,143.79Z" fill="#2aa4b0"/>
<path d="M430.11,145.16L428.12,144.94L428.2,144.22L425.87,145.27L427.92,146.8L428,146.08L429.98,146.3Z" fill="#2aa4b0"/>
<path d="M437.38,146.2L435.73,145.08L436.13,144.48L433.58,144.32L434.67,146.63L435.08,146.03L436.73,147.16Z" fill="#4672c2"/>
<path d="M444.85,145.63L442.96,144.99L443.19,144.3L440.69,144.83L442.36,146.76L442.59,146.08L444.48,146.72Z" fill="#4672c2"/>
<path d="M451.89,146.64L450.53,145.18L451.06,144.68L448.6,143.97L449.16,146.46L449.69,145.97L451.06,147.43Z" fill="#2aa4b0"/>
<path d="M459.57,145.35L457.61,144.96L457.75,144.25L455.34,145.09L457.24,146.79L457.39,146.08L459.35,146.48Z" fill="#2aa4b0"/>
<path d="M466.93,145.63L465.04,144.99L465.27,144.3L462.77,144.83L464.44,146.76L464.67,146.08L466.56,146.72Z" fill="#2aa4b0"/>
<path d="M474.16,146.27L472.54,145.09L472.97,144.51L470.42,144.26L471.43,146.61L471.86,146.02L473.48,147.2Z" fill="#2aa4b0"/>
<path d="M481.6,146.01L479.85,145.04L480.2,144.41L477.64,144.49L478.94,146.69L479.29,146.05L481.04,147.02Z" fill="#4672c2"/>
<path d="M489,145.27L487.03,144.95L487.15,144.23L484.77,145.16L486.73,146.8L486.85,146.08L488.82,146.4Z" fill="#4672c2"/>
<path d="M495.95,144.2L494.08,144.93L493.82,144.25L492.24,146.26L494.77,146.67L494.5,146L496.37,145.27Z" fill="#2aa4b0"/>
<path d="M503.05,143.91L501.34,144.96L500.96,144.34L499.77,146.6L502.33,146.55L501.95,145.94L503.65,144.89Z" fill="#2aa4b0"/>
<path d="M510.95,144.71L508.96,144.92L508.88,144.2L506.83,145.72L509.16,146.78L509.08,146.06L511.07,145.85Z" fill="#2aa4b0"/>
<path d="M518.07,144.26L516.18,144.92L515.94,144.24L514.3,146.2L516.81,146.69L516.57,146.01L518.45,145.34Z" fill="#2aa4b0"/>
<path d="M525.07,143.85L523.4,144.97L523,144.36L521.89,146.67L524.45,146.53L524.04,145.92L525.71,144.81Z" fill="#26a6a8"/>
<path d="M532.27,143.73L530.72,144.99L530.26,144.43L529.37,146.82L531.89,146.45L531.44,145.88L532.99,144.63Z" fill="#26a6a8"/>
<path d="M540.04,144.12L538.22,144.93L537.92,144.27L536.44,146.36L538.98,146.65L538.69,145.98L540.51,145.16Z" fill="#26a6a8"/>
<path d="M547.76,144.74L545.77,144.92L545.7,144.2L543.63,145.69L545.94,146.79L545.87,146.06L547.86,145.88Z" fill="#26a6a8"/>
<path d="M554.27,143.68L552.77,145L552.29,144.46L551.51,146.89L554.02,146.41L553.54,145.86L555.03,144.54Z" fill="#26a6a8"/>
<path d="M561.58,143.65L560.12,145.01L559.62,144.48L558.91,146.93L561.4,146.38L560.91,145.85L562.37,144.49Z" fill="#26a6a8"/>
<path d="M569.54,144.19L567.68,144.93L567.41,144.25L565.85,146.27L568.37,146.67L568.11,146L569.96,145.26Z" fill="#26a6a8"/>
<path d="M576.52,143.8L574.9,144.98L574.47,144.39L573.46,146.74L576.01,146.49L575.58,145.91L577.2,144.73Z" fill="#26a6a8"/>
<path d="M584.37,144.35L582.45,144.92L582.25,144.23L580.51,146.1L582.99,146.72L582.78,146.02L584.7,145.45Z" fill="#26a6a8"/>
<path d="M591.95,144.81L589.95,144.92L589.91,144.2L587.78,145.61L590.05,146.79L590.01,146.07L592.01,145.96Z" fill="#26a6a8"/>
<path d="M599.56,144.6L597.17,144.85L597.09,144.06L594.85,145.75L597.39,146.94L597.31,146.15L599.69,145.9Z" fill="#26a6a8"/>
<path d="M606.86,144.46L604.49,144.86L604.36,144.07L602.23,145.9L604.84,146.93L604.71,146.14L607.07,145.74Z" fill="#2cb8b4"/>
<path d="M348.47,150.69L346.6,152.18L346.1,151.56L345.12,154.19L347.9,153.82L347.4,153.2L349.28,151.7Z" fill="#24a6a8"/>
<path d="M355.51,150.48L353.88,152.25L353.29,151.71L352.73,154.46L355.43,153.67L354.84,153.13L356.46,151.36Z" fill="#24a6a8"/>
<path d="M363,150.56L361.27,152.22L360.72,151.64L359.99,154.35L362.72,153.74L362.17,153.16L363.9,151.5Z" fill="#24a6a8"/>
<path d="M370.29,150.52L368.61,152.24L368.04,151.68L367.4,154.41L370.12,153.7L369.55,153.14L371.22,151.43Z" fill="#24a6a8"/>
<path d="M377.86,150.65L376.02,152.19L375.51,151.58L374.6,154.23L377.37,153.8L376.86,153.19L378.7,151.65Z" fill="#24a6a8"/>
<path d="M384.91,150.47L383.31,152.26L382.72,151.72L382.2,154.48L384.88,153.66L384.29,153.12L385.88,151.33Z" fill="#24a6a8"/>
<path d="M392.28,150.47L390.68,152.26L390.08,151.72L389.56,154.47L392.24,153.66L391.64,153.12L393.25,151.34Z" fill="#24a6a8"/>
<path d="M399.14,150.6L398.08,152.3L397.47,151.92L397.41,154.48L399.68,153.29L399.06,152.91L400.11,151.21Z" fill="#2aa4b0"/>
<path d="M407.34,151.08L405.66,152.15L405.27,151.54L404.11,153.82L406.66,153.73L406.27,153.12L407.96,152.05Z" fill="#2aa4b0"/>
<path d="M413.98,150.64L412.83,152.28L412.24,151.86L412.03,154.4L414.36,153.36L413.77,152.94L414.92,151.31Z" fill="#2aa4b0"/>
<path d="M422.45,151.54L420.53,152.11L420.32,151.42L418.59,153.29L421.07,153.91L420.86,153.21L422.78,152.64Z" fill="#4672c2"/>
<path d="M430.09,152.23L428.09,152.12L428.13,151.4L425.86,152.57L427.99,153.99L428.03,153.27L430.02,153.38Z" fill="#4672c2"/>
<path d="M437.31,153.58L435.76,152.31L436.22,151.75L433.7,151.36L434.57,153.76L435.03,153.2L436.58,154.47Z" fill="#2aa4b0"/>
<path d="M444.86,152.67L442.92,152.16L443.11,151.46L440.65,152.15L442.44,153.97L442.63,153.27L444.56,153.78Z" fill="#2aa4b0"/>
<path d="M452,153.64L450.49,152.32L450.97,151.78L448.46,151.31L449.26,153.73L449.74,153.19L451.24,154.51Z" fill="#2aa4b0"/>
<path d="M459.53,153.15L457.75,152.23L458.09,151.58L455.54,151.72L456.89,153.89L457.22,153.25L459,154.17Z" fill="#2aa4b0"/>
<path d="M466.9,152.3L464.91,152.13L464.97,151.4L462.67,152.51L464.75,153.99L464.81,153.27L466.8,153.44Z" fill="#4672c2"/>
<path d="M474.3,152.59L472.34,152.15L472.51,151.44L470.07,152.23L471.93,153.98L472.09,153.27L474.04,153.72Z" fill="#4672c2"/>
<path d="M481.65,152.83L479.76,152.18L480,151.49L477.49,152.01L479.15,153.95L479.39,153.27L481.28,153.92Z" fill="#2aa4b0"/>
<path d="M488.91,152.01L486.91,152.11L486.88,151.39L484.74,152.79L487,153.98L486.97,153.26L488.97,153.16Z" fill="#2aa4b0"/>
<path d="M496.05,151.54L494.13,152.11L493.93,151.42L492.19,153.29L494.67,153.91L494.46,153.21L496.38,152.64Z" fill="#2aa4b0"/>
<path d="M503.71,152.33L501.72,152.13L501.79,151.41L499.47,152.48L501.53,153.99L501.6,153.27L503.59,153.48Z" fill="#2aa4b0"/>
<path d="M510.65,151.37L508.8,152.12L508.52,151.45L506.97,153.48L509.5,153.86L509.23,153.19L511.08,152.43Z" fill="#4672c2"/>
<path d="M518.22,151.69L516.26,152.11L516.11,151.4L514.23,153.12L516.65,153.94L516.5,153.23L518.45,152.82Z" fill="#4672c2"/>
<path d="M525.22,151.19L523.46,152.14L523.11,151.5L521.79,153.69L524.34,153.79L524,153.15L525.76,152.2Z" fill="#26a6a8"/>
<path d="M532.32,150.96L530.73,152.17L530.29,151.59L529.33,153.96L531.87,153.66L531.43,153.09L533.02,151.88Z" fill="#26a6a8"/>
<path d="M540.15,151.45L538.26,152.11L538.02,151.43L536.38,153.38L538.88,153.88L538.64,153.2L540.53,152.54Z" fill="#26a6a8"/>
<path d="M546.9,150.86L545.41,152.19L544.93,151.65L544.15,154.09L546.66,153.59L546.18,153.05L547.67,151.72Z" fill="#26a6a8"/>
<path d="M554.64,151.17L552.89,152.14L552.54,151.51L551.24,153.71L553.8,153.78L553.45,153.14L555.19,152.17Z" fill="#26a6a8"/>
<path d="M561.67,150.9L560.15,152.19L559.68,151.63L558.84,154.05L561.36,153.62L560.89,153.06L562.42,151.77Z" fill="#26a6a8"/>
<path d="M569.24,151.06L567.57,152.15L567.17,151.55L566.04,153.84L568.59,153.72L568.2,153.12L569.87,152.02Z" fill="#26a6a8"/>
<path d="M576.62,151.08L574.94,152.15L574.55,151.54L573.39,153.82L575.94,153.73L575.55,153.12L577.24,152.05Z" fill="#26a6a8"/>
<path d="M583.66,150.83L582.2,152.2L581.7,151.67L580.99,154.13L583.48,153.57L582.99,153.04L584.44,151.67Z" fill="#26a6a8"/>
<path d="M591.82,151.14L589.62,152.09L589.3,151.36L587.68,153.65L590.46,154.02L590.14,153.29L592.34,152.33Z" fill="#26a6a8"/>
<path d="M599.41,151.47L597.08,152.06L596.88,151.28L594.91,153.28L597.6,154.1L597.4,153.32L599.73,152.73Z" fill="#26a6a8"/>
<path d="M606.74,151.42L604.43,152.06L604.21,151.29L602.29,153.33L604.99,154.09L604.77,153.32L607.09,152.67Z" fill="#2cb8b4"/>
<path d="M348.25,157.73L346.54,159.42L345.98,158.85L345.29,161.57L348.02,160.91L347.46,160.34L349.16,158.66Z" fill="#24a6a8"/>
<path d="M355.8,157.85L353.95,159.38L353.44,158.76L352.51,161.4L355.28,161L354.77,160.38L356.63,158.86Z" fill="#24a6a8"/>
<path d="M363,157.75L361.27,159.41L360.72,158.83L359.99,161.54L362.72,160.93L362.17,160.35L363.9,158.69Z" fill="#24a6a8"/>
<path d="M370.34,157.74L368.63,159.41L368.07,158.84L367.36,161.56L370.09,160.92L369.53,160.35L371.25,158.67Z" fill="#24a6a8"/>
<path d="M377.7,157.74L375.99,159.42L375.43,158.84L374.72,161.56L377.45,160.92L376.89,160.34L378.61,158.67Z" fill="#24a6a8"/>
<path d="M385.29,157.89L383.4,159.37L382.91,158.74L381.91,161.35L384.69,161.02L384.2,160.39L386.09,158.92Z" fill="#24a6a8"/>
<path d="M392.31,157.68L390.68,159.44L390.09,158.9L389.53,161.64L392.23,160.86L391.64,160.32L393.27,158.56Z" fill="#24a6a8"/>
<path d="M399.85,157.78L398.08,159.4L397.54,158.81L396.75,161.5L399.5,160.95L398.96,160.36L400.73,158.74Z" fill="#24a6a8"/>
<path d="M406.97,158L405.55,159.4L405.04,158.88L404.38,161.35L406.86,160.74L406.35,160.22L407.78,158.82Z" fill="#2aa4b0"/>
<path d="M415.22,158.98L413.25,159.3L413.13,158.58L411.17,160.21L413.54,161.15L413.43,160.43L415.4,160.11Z" fill="#2aa4b0"/>
<path d="M422.43,158.69L420.52,159.3L420.3,158.61L418.6,160.52L421.09,161.09L420.87,160.4L422.78,159.79Z" fill="#4672c2"/>
<path d="M430.14,159.93L428.22,159.36L428.43,158.66L425.95,159.28L427.69,161.15L427.89,160.46L429.81,161.03Z" fill="#4672c2"/>
<path d="M437.49,159.76L435.54,159.34L435.69,158.63L433.27,159.44L435.15,161.17L435.3,160.46L437.25,160.88Z" fill="#2aa4b0"/>
<path d="M444.81,160.33L443.03,159.41L443.37,158.77L440.81,158.92L442.17,161.08L442.51,160.44L444.28,161.35Z" fill="#2aa4b0"/>
<path d="M452.19,160.23L450.37,159.4L450.67,158.74L448.13,159.01L449.59,161.1L449.89,160.44L451.71,161.27Z" fill="#2aa4b0"/>
<path d="M459.58,159.79L457.63,159.34L457.79,158.64L455.35,159.41L457.21,161.17L457.37,160.46L459.32,160.91Z" fill="#2aa4b0"/>
<path d="M466.89,159.42L464.89,159.31L464.93,158.59L462.66,159.77L464.79,161.18L464.83,160.46L466.83,160.57Z" fill="#4672c2"/>
<path d="M474.23,160.41L472.49,159.43L472.85,158.8L470.29,158.85L471.57,161.06L471.92,160.43L473.66,161.42Z" fill="#4672c2"/>
<path d="M481.6,159.4L479.61,159.31L479.64,158.59L477.38,159.79L479.52,161.18L479.55,160.46L481.55,160.55Z" fill="#2aa4b0"/>
<path d="M488.92,159.24L486.92,159.3L486.9,158.58L484.74,159.94L486.98,161.18L486.96,160.45L488.96,160.39Z" fill="#2aa4b0"/>
<path d="M495.94,158.57L494.08,159.31L493.82,158.63L492.25,160.65L494.77,161.05L494.5,160.38L496.36,159.64Z" fill="#2aa4b0"/>
<path d="M503.64,159.23L501.64,159.3L501.61,158.58L499.46,159.95L501.7,161.18L501.68,160.45L503.68,160.38Z" fill="#2aa4b0"/>
<path d="M510.64,158.54L508.79,159.31L508.51,158.64L506.98,160.69L509.51,161.04L509.23,160.37L511.08,159.6Z" fill="#4672c2"/>
<path d="M518.43,159.51L516.43,159.32L516.5,158.6L514.19,159.68L516.26,161.18L516.32,160.46L518.32,160.65Z" fill="#4672c2"/>
<path d="M525.1,158.26L523.41,159.34L523.02,158.73L521.87,161.01L524.42,160.92L524.03,160.31L525.72,159.23Z" fill="#26a6a8"/>
<path d="M533.1,159.3L531.1,159.3L531.1,158.58L528.9,159.89L531.1,161.18L531.1,160.45L533.1,160.45Z" fill="#26a6a8"/>
<path d="M539.88,158.32L538.15,159.33L537.79,158.71L536.55,160.94L539.11,160.95L538.74,160.32L540.46,159.31Z" fill="#26a6a8"/>
<path d="M547.68,158.93L545.71,159.3L545.58,158.58L543.66,160.27L546.06,161.14L545.92,160.43L547.89,160.06Z" fill="#26a6a8"/>
<path d="M555.08,159.02L553.1,159.3L553,158.58L551,160.17L553.36,161.15L553.26,160.44L555.24,160.16Z" fill="#26a6a8"/>
<path d="M562.27,158.69L560.36,159.3L560.14,158.61L558.44,160.52L560.93,161.09L560.71,160.4L562.62,159.79Z" fill="#26a6a8"/>
<path d="M569.57,158.61L567.69,159.31L567.44,158.63L565.83,160.61L568.35,161.06L568.09,160.38L569.97,159.69Z" fill="#26a6a8"/>
<path d="M576.75,158.4L574.98,159.32L574.64,158.68L573.3,160.86L575.85,160.98L575.52,160.34L577.29,159.41Z" fill="#26a6a8"/>
<path d="M584.24,158.55L582.39,159.31L582.12,158.64L580.58,160.68L583.11,161.04L582.83,160.37L584.68,159.61Z" fill="#26a6a8"/>
<path d="M591.64,158.12L589.56,159.32L589.16,158.62L587.8,161.08L590.6,161.14L590.2,160.44L592.28,159.25Z" fill="#26a6a8"/>
<path d="M599.3,158.49L597.03,159.27L596.77,158.51L594.97,160.66L597.71,161.25L597.45,160.49L599.72,159.71Z" fill="#26a6a8"/>
<path d="M606.83,158.79L604.48,159.24L604.32,158.46L602.24,160.34L604.88,161.3L604.72,160.52L607.08,160.06Z" fill="#2cb8b4"/>
<path d="M348.63,165.19L346.64,166.53L346.19,165.87L345.01,168.41L347.81,168.27L347.36,167.61L349.35,166.27Z" fill="#24a6a8"/>
<path d="M355.85,165.08L353.96,166.56L353.47,165.93L352.47,168.55L355.25,168.21L354.76,167.58L356.65,166.1Z" fill="#24a6a8"/>
<path d="M363.26,165.12L361.33,166.55L360.85,165.91L359.79,168.5L362.59,168.23L362.11,167.59L364.03,166.16Z" fill="#24a6a8"/>
<path d="M370.8,165.28L368.75,166.51L368.33,165.83L367.02,168.3L369.83,168.31L369.41,167.63L371.47,166.39Z" fill="#24a6a8"/>
<path d="M378.13,165.25L376.1,166.52L375.67,165.84L374.4,168.34L377.21,168.3L376.78,167.62L378.82,166.35Z" fill="#24a6a8"/>
<path d="M384.92,164.85L383.32,166.64L382.72,166.1L382.2,168.86L384.88,168.04L384.28,167.5L385.88,165.72Z" fill="#24a6a8"/>
<path d="M392.5,164.98L390.72,166.59L390.19,166L389.38,168.68L392.13,168.14L391.6,167.55L393.37,165.94Z" fill="#24a6a8"/>
<path d="M400.06,165.12L398.13,166.55L397.66,165.9L396.59,168.5L399.38,168.24L398.91,167.59L400.84,166.17Z" fill="#24a6a8"/>
<path d="M407.09,165.26L405.58,166.57L405.1,166.02L404.29,168.45L406.81,167.99L406.33,167.44L407.84,166.13Z" fill="#4672c2"/>
<path d="M414.98,165.76L413.12,166.5L412.85,165.83L411.29,167.85L413.81,168.24L413.55,167.57L415.4,166.83Z" fill="#4672c2"/>
<path d="M422.78,167.03L420.84,166.54L421.02,165.83L418.56,166.55L420.38,168.35L420.56,167.65L422.49,168.14Z" fill="#2aa4b0"/>
<path d="M430.14,166.99L428.19,166.53L428.35,165.83L425.91,166.59L427.76,168.36L427.93,167.65L429.88,168.11Z" fill="#2aa4b0"/>
<path d="M437.47,167.43L435.65,166.59L435.96,165.93L433.41,166.19L434.87,168.29L435.17,167.63L436.99,168.47Z" fill="#2aa4b0"/>
<path d="M444.81,167.5L443.03,166.6L443.35,165.95L440.8,166.13L442.19,168.28L442.51,167.63L444.3,168.53Z" fill="#2aa4b0"/>
<path d="M452.21,166.9L450.25,166.52L450.38,165.81L447.98,166.68L449.89,168.37L450.03,167.65L451.99,168.03Z" fill="#4672c2"/>
<path d="M459.56,167.33L457.71,166.58L457.98,165.9L455.46,166.28L457,168.31L457.28,167.64L459.13,168.4Z" fill="#4672c2"/>
<path d="M466.94,167.01L464.99,166.54L465.17,165.83L462.72,166.57L464.55,168.36L464.72,167.65L466.66,168.13Z" fill="#2aa4b0"/>
<path d="M474.24,167.57L472.48,166.61L472.83,165.98L470.28,166.07L471.59,168.26L471.93,167.62L473.69,168.58Z" fill="#2aa4b0"/>
<path d="M481.62,166.67L479.63,166.51L479.69,165.78L477.39,166.89L479.47,168.37L479.53,167.65L481.52,167.82Z" fill="#2aa4b0"/>
<path d="M488.77,166.05L486.81,166.49L486.66,165.78L484.79,167.52L487.22,168.32L487.06,167.61L489.01,167.18Z" fill="#2aa4b0"/>
<path d="M496.16,166.13L494.2,166.49L494.07,165.77L492.13,167.45L494.53,168.33L494.4,167.62L496.37,167.26Z" fill="#4672c2"/>
<path d="M503.57,166.23L501.59,166.49L501.49,165.77L499.48,167.34L501.83,168.35L501.73,167.63L503.72,167.37Z" fill="#4672c2"/>
<path d="M510.68,165.78L508.81,166.5L508.55,165.82L506.96,167.82L509.48,168.25L509.22,167.57L511.09,166.86Z" fill="#2aa4b0"/>
<path d="M518.04,165.79L516.17,166.5L515.91,165.82L514.32,167.81L516.83,168.25L516.58,167.57L518.45,166.86Z" fill="#2aa4b0"/>
<path d="M525.69,166.33L523.69,166.49L523.64,165.77L521.55,167.24L523.84,168.36L523.78,167.64L525.78,167.48Z" fill="#26a6a8"/>
<path d="M532.42,165.42L530.76,166.54L530.36,165.94L529.26,168.24L531.81,168.09L531.4,167.49L533.06,166.37Z" fill="#26a6a8"/>
<path d="M540.16,165.85L538.27,166.49L538.03,165.81L536.37,167.75L538.88,168.27L538.64,167.58L540.53,166.93Z" fill="#26a6a8"/>
<path d="M547.28,165.55L545.53,166.52L545.18,165.88L543.88,168.08L546.44,168.16L546.09,167.53L547.84,166.56Z" fill="#26a6a8"/>
<path d="M555.17,166.46L553.17,166.49L553.16,165.77L550.98,167.1L553.2,168.37L553.19,167.64L555.19,167.61Z" fill="#26a6a8"/>
<path d="M562.32,165.98L560.39,166.49L560.2,165.79L558.41,167.61L560.87,168.3L560.68,167.6L562.62,167.09Z" fill="#26a6a8"/>
<path d="M569.81,166.23L567.83,166.49L567.73,165.77L565.72,167.34L568.07,168.35L567.97,167.63L569.96,167.37Z" fill="#26a6a8"/>
<path d="M577.19,166.28L575.2,166.49L575.12,165.77L573.07,167.29L575.4,168.35L575.32,167.63L577.31,167.42Z" fill="#26a6a8"/>
<path d="M584.2,165.24L582.17,166.52L581.75,165.84L580.49,168.35L583.29,168.3L582.87,167.62L584.9,166.34Z" fill="#26a6a8"/>
<path d="M591.96,165.71L589.68,166.45L589.43,165.69L587.6,167.81L590.33,168.45L590.08,167.69L592.36,166.95Z" fill="#26a6a8"/>
<path d="M599.56,166.17L597.17,166.42L597.08,165.63L594.85,167.33L597.4,168.51L597.31,167.72L599.7,167.46Z" fill="#26a6a8"/>
<path d="M606.77,165.86L604.44,166.44L604.25,165.66L602.27,167.65L604.95,168.48L604.76,167.7L607.09,167.12Z" fill="#2cb8b4"/>
<path d="M348.85,172.6L346.71,173.68L346.35,172.97L344.86,175.34L347.65,175.55L347.29,174.84L349.44,173.76Z" fill="#24a6a8"/>
<path d="M356.4,172.84L354.14,173.65L353.87,172.89L352.1,175.07L354.85,175.63L354.58,174.87L356.84,174.07Z" fill="#24a6a8"/>
<path d="M363.55,172.57L361.42,173.68L361.05,172.97L359.59,175.37L362.39,175.55L362.02,174.84L364.15,173.73Z" fill="#24a6a8"/>
<path d="M371.13,172.85L368.86,173.65L368.6,172.89L366.82,175.06L369.56,175.63L369.3,174.87L371.56,174.07Z" fill="#24a6a8"/>
<path d="M378.14,172.44L376.1,173.71L375.68,173.03L374.4,175.52L377.2,175.49L376.78,174.81L378.82,173.55Z" fill="#24a6a8"/>
<path d="M385.62,172.56L383.5,173.69L383.12,172.98L381.68,175.38L384.48,175.54L384.1,174.83L386.23,173.71Z" fill="#24a6a8"/>
<path d="M392.66,172.27L390.76,173.75L390.27,173.12L389.27,175.73L392.05,175.4L391.56,174.77L393.45,173.3Z" fill="#24a6a8"/>
<path d="M400.3,172.53L398.21,173.69L397.82,172.99L396.42,175.42L399.22,175.53L398.83,174.83L400.93,173.67Z" fill="#24a6a8"/>
<path d="M408.1,173.14L405.75,173.62L405.59,172.84L403.53,174.74L406.17,175.68L406.01,174.9L408.36,174.41Z" fill="#26a6a8"/>
<path d="M415.23,173.37L413.25,173.68L413.14,172.96L411.16,174.58L413.54,175.53L413.43,174.81L415.4,174.51Z" fill="#4672c2"/>
<path d="M422.77,174.45L420.89,173.76L421.14,173.08L418.63,173.53L420.24,175.51L420.49,174.83L422.37,175.53Z" fill="#2aa4b0"/>
<path d="M430.12,173.98L428.14,173.7L428.24,172.99L425.88,173.97L427.88,175.56L427.98,174.84L429.96,175.12Z" fill="#2aa4b0"/>
<path d="M437.48,174.51L435.63,173.76L435.9,173.09L433.37,173.48L434.93,175.5L435.2,174.83L437.05,175.58Z" fill="#2aa4b0"/>
<path d="M444.73,174.99L443.09,173.85L443.51,173.25L440.96,173.06L442.02,175.38L442.43,174.79L444.07,175.93Z" fill="#2aa4b0"/>
<path d="M452.21,174.1L450.25,173.72L450.39,173L447.98,173.86L449.89,175.55L450.03,174.84L451.99,175.23Z" fill="#4672c2"/>
<path d="M459.54,173.84L457.54,173.69L457.59,172.97L455.31,174.11L457.41,175.56L457.46,174.84L459.45,174.99Z" fill="#4672c2"/>
<path d="M466.93,174.45L465.05,173.76L465.31,173.08L462.79,173.53L464.4,175.51L464.65,174.83L466.53,175.53Z" fill="#2aa4b0"/>
<path d="M474.22,174.85L472.5,173.82L472.87,173.2L470.32,173.18L471.54,175.43L471.91,174.8L473.63,175.83Z" fill="#2aa4b0"/>
<path d="M481.65,174.49L479.78,173.76L480.05,173.08L477.52,173.5L479.1,175.51L479.36,174.83L481.23,175.56Z" fill="#2aa4b0"/>
<path d="M488.91,173.59L486.91,173.68L486.88,172.96L484.74,174.36L487,175.55L486.97,174.83L488.96,174.74Z" fill="#2aa4b0"/>
<path d="M496.31,173.7L494.31,173.69L494.31,172.96L492.1,174.24L494.29,175.56L494.29,174.84L496.29,174.85Z" fill="#4672c2"/>
<path d="M503.68,173.78L501.69,173.69L501.72,172.97L499.46,174.16L501.6,175.56L501.63,174.84L503.63,174.93Z" fill="#4672c2"/>
<path d="M511.09,174.16L509.14,173.72L509.3,173.01L506.87,173.8L508.73,175.55L508.89,174.84L510.84,175.28Z" fill="#2aa4b0"/>
<path d="M518.27,173.38L516.29,173.68L516.19,172.96L514.2,174.57L516.57,175.53L516.46,174.81L518.44,174.52Z" fill="#2aa4b0"/>
<path d="M525.47,173.07L523.56,173.68L523.34,172.99L521.64,174.9L524.13,175.47L523.91,174.78L525.82,174.17Z" fill="#26a6a8"/>
<path d="M532.91,173.22L530.97,173.68L530.8,172.97L528.96,174.74L531.39,175.5L531.23,174.8L533.18,174.34Z" fill="#26a6a8"/>
<path d="M540.32,173.31L538.35,173.68L538.22,172.96L536.3,174.64L538.7,175.52L538.56,174.81L540.53,174.44Z" fill="#26a6a8"/>
<path d="M547.72,173.4L545.74,173.68L545.64,172.96L543.64,174.55L546,175.53L545.9,174.82L547.88,174.54Z" fill="#26a6a8"/>
<path d="M554.97,173.17L553.03,173.68L552.85,172.98L551.05,174.79L553.51,175.49L553.32,174.79L555.26,174.28Z" fill="#26a6a8"/>
<path d="M561.88,172.63L560.21,173.72L559.81,173.12L558.69,175.41L561.24,175.29L560.84,174.69L562.51,173.59Z" fill="#26a6a8"/>
<path d="M568.99,172.44L567.49,173.76L567.01,173.22L566.23,175.65L568.74,175.17L568.26,174.62L569.75,173.3Z" fill="#26a6a8"/>
<path d="M577.17,172.8L574.93,173.65L574.64,172.9L572.92,175.11L575.68,175.62L575.39,174.87L577.63,174.01Z" fill="#26a6a8"/>
<path d="M584.5,172.75L582.28,173.66L581.97,172.92L580.3,175.16L583.07,175.6L582.76,174.86L584.99,173.96Z" fill="#26a6a8"/>
<path d="M592.07,173.09L589.73,173.63L589.55,172.85L587.54,174.8L590.21,175.67L590.03,174.89L592.36,174.35Z" fill="#26a6a8"/>
<path d="M599.63,173.56L597.23,173.61L597.21,172.81L594.84,174.31L597.27,175.71L597.25,174.91L599.65,174.86Z" fill="#26a6a8"/>
<path d="M606.84,173.18L604.48,173.62L604.33,172.83L602.24,174.7L604.87,175.69L604.72,174.9L607.08,174.46Z" fill="#2cb8b4"/>
<path d="M348.9,179.85L346.73,180.86L346.39,180.14L344.82,182.46L347.61,182.76L347.27,182.04L349.45,181.02Z" fill="#3584bc"/>
<path d="M356.44,180.08L354.16,180.83L353.91,180.07L352.08,182.2L354.81,182.83L354.56,182.07L356.84,181.32Z" fill="#3584bc"/>
<path d="M363.57,179.79L361.43,180.87L361.07,180.16L359.58,182.53L362.37,182.74L362.01,182.03L364.16,180.95Z" fill="#3584bc"/>
<path d="M370.91,179.76L368.78,180.87L368.41,180.16L366.95,182.56L369.75,182.74L369.38,182.03L371.51,180.92Z" fill="#3584bc"/>
<path d="M378.4,179.92L376.19,180.85L375.88,180.11L374.23,182.38L377,182.79L376.69,182.05L378.9,181.12Z" fill="#3584bc"/>
<path d="M385.73,179.88L383.53,180.86L383.21,180.13L381.61,182.43L384.39,182.77L384.07,182.04L386.26,181.06Z" fill="#3584bc"/>
<path d="M393.22,180.05L390.95,180.84L390.69,180.08L388.89,182.23L391.63,182.82L391.37,182.06L393.64,181.28Z" fill="#3584bc"/>
<path d="M400.56,180.03L398.3,180.84L398.03,180.08L396.26,182.26L399.01,182.82L398.74,182.06L401,181.25Z" fill="#3584bc"/>
<path d="M408.17,180.49L405.79,180.81L405.69,180.01L403.5,181.77L406.07,182.89L405.97,182.09L408.34,181.78Z" fill="#26a6a8"/>
<path d="M415.72,181.28L413.37,180.81L413.52,180.03L410.89,180.98L412.96,182.87L413.11,182.09L415.47,182.55Z" fill="#26a6a8"/>
<path d="M422.78,181.51L420.86,180.93L421.07,180.23L418.59,180.84L420.32,182.72L420.53,182.03L422.44,182.61Z" fill="#3c78c0"/>
<path d="M430.12,181.76L428.28,180.96L428.57,180.3L426.03,180.61L427.53,182.68L427.82,182.02L429.66,182.81Z" fill="#3c78c0"/>
<path d="M437.3,182.37L435.77,181.08L436.24,180.52L433.72,180.09L434.56,182.51L435.03,181.95L436.55,183.24Z" fill="#2aa4b0"/>
<path d="M444.83,181.11L442.84,180.89L442.93,180.17L440.59,181.21L442.63,182.75L442.71,182.03L444.7,182.26Z" fill="#2aa4b0"/>
<path d="M452.17,181.91L450.4,180.99L450.73,180.34L448.18,180.48L449.53,182.65L449.86,182.01L451.63,182.93Z" fill="#3c78c0"/>
<path d="M459.56,181.76L457.72,180.96L458.01,180.3L455.47,180.61L456.97,182.68L457.26,182.02L459.1,182.81Z" fill="#3c78c0"/>
<path d="M466.86,180.87L464.86,180.87L464.86,180.15L462.66,181.45L464.86,182.75L464.86,182.02L466.86,182.02Z" fill="#3c78c0"/>
<path d="M474.29,181.62L472.41,180.94L472.65,180.26L470.14,180.74L471.77,182.71L472.02,182.02L473.9,182.7Z" fill="#3c78c0"/>
<path d="M481.63,181.14L479.65,180.89L479.74,180.17L477.4,181.19L479.42,182.75L479.51,182.03L481.49,182.28Z" fill="#2aa4b0"/>
<path d="M488.99,181.08L487,180.89L487.07,180.17L484.75,181.25L486.81,182.75L486.88,182.03L488.87,182.23Z" fill="#2aa4b0"/>
<path d="M496.31,180.89L494.31,180.88L494.31,180.15L492.1,181.43L494.29,182.75L494.29,182.03L496.29,182.04Z" fill="#3c78c0"/>
<path d="M503.69,180.98L501.69,180.88L501.72,180.16L499.46,181.35L501.6,182.75L501.63,182.03L503.63,182.13Z" fill="#3c78c0"/>
<path d="M510.96,180.69L508.97,180.87L508.9,180.15L506.83,181.64L509.13,182.74L509.07,182.01L511.06,181.84Z" fill="#3c78c0"/>
<path d="M518.03,180.16L516.17,180.88L515.91,180.2L514.32,182.2L516.84,182.63L516.58,181.95L518.45,181.23Z" fill="#3c78c0"/>
<path d="M525.67,180.65L523.68,180.87L523.6,180.15L521.55,181.67L523.88,182.73L523.8,182.01L525.79,181.8Z" fill="#2aa4b0"/>
<path d="M533.04,180.69L531.05,180.87L530.99,180.15L528.91,181.63L531.21,182.74L531.15,182.01L533.14,181.84Z" fill="#3c78c0"/>
<path d="M539.82,179.84L538.14,180.91L537.75,180.3L536.59,182.58L539.14,182.49L538.75,181.88L540.44,180.81Z" fill="#3c78c0"/>
<path d="M547.61,180.36L545.67,180.87L545.49,180.17L543.69,181.98L546.14,182.68L545.96,181.98L547.9,181.48Z" fill="#3c78c0"/>
<path d="M555.04,180.5L553.07,180.87L552.94,180.15L551.02,181.83L553.42,182.71L553.28,182L555.25,181.63Z" fill="#3c78c0"/>
<path d="M561.87,179.81L560.2,180.92L559.8,180.31L558.69,182.62L561.25,182.48L560.84,181.87L562.51,180.76Z" fill="#2aa4b0"/>
<path d="M569.25,179.83L567.57,180.91L567.18,180.3L566.04,182.59L568.59,182.49L568.2,181.88L569.88,180.79Z" fill="#2aa4b0"/>
<path d="M577.34,180.25L575.01,180.82L574.82,180.04L572.83,182.01L575.5,182.86L575.31,182.08L577.65,181.52Z" fill="#26a6a8"/>
<path d="M584.74,180.33L582.39,180.81L582.23,180.03L580.17,181.93L582.81,182.87L582.65,182.09L585,181.61Z" fill="#26a6a8"/>
<path d="M592.2,180.55L589.81,180.8L589.73,180.01L587.49,181.7L590.03,182.89L589.95,182.1L592.33,181.85Z" fill="#26a6a8"/>
<path d="M599.45,180.3L597.1,180.81L596.93,180.03L594.89,181.96L597.55,182.87L597.38,182.09L599.72,181.57Z" fill="#26a6a8"/>
<path d="M607,180.78L604.6,180.8L604.59,180L602.2,181.47L604.61,182.9L604.6,182.1L607,182.08Z" fill="#2cb8b4"/>
<path d="M349.12,187.33L346.82,188.02L346.59,187.25L344.7,189.32L347.41,190.03L347.18,189.26L349.49,188.58Z" fill="#3584bc"/>
<path d="M356.38,187.19L354.13,188.03L353.85,187.28L352.11,189.48L354.87,190L354.59,189.25L356.84,188.41Z" fill="#3584bc"/>
<path d="M363.83,187.33L361.53,188.02L361.31,187.25L359.42,189.33L362.13,190.03L361.91,189.26L364.21,188.58Z" fill="#3584bc"/>
<path d="M371.11,187.21L368.86,188.03L368.58,187.28L366.82,189.46L369.58,190L369.3,189.25L371.56,188.43Z" fill="#3584bc"/>
<path d="M378.48,187.22L376.22,188.03L375.95,187.28L374.18,189.45L376.93,190L376.66,189.25L378.92,188.44Z" fill="#3584bc"/>
<path d="M385.9,187.3L383.61,188.02L383.37,187.26L381.51,189.36L384.23,190.02L383.99,189.26L386.28,188.55Z" fill="#3584bc"/>
<path d="M393.32,187.41L391,188.01L390.8,187.24L388.84,189.24L391.52,190.04L391.32,189.27L393.65,188.67Z" fill="#3584bc"/>
<path d="M400.62,187.31L398.33,188.02L398.09,187.25L396.23,189.35L398.95,190.03L398.71,189.26L401,188.55Z" fill="#3584bc"/>
<path d="M408.15,187.62L405.78,188L405.65,187.21L403.51,189.02L406.11,190.07L405.98,189.28L408.35,188.9Z" fill="#26a6a8"/>
<path d="M415.72,188.47L413.37,188L413.52,187.22L410.89,188.18L412.96,190.06L413.11,189.28L415.47,189.74Z" fill="#26a6a8"/>
<path d="M423.05,189.05L420.87,188.05L421.2,187.32L418.42,187.64L420,189.96L420.33,189.23L422.51,190.23Z" fill="#26a6a8"/>
<path d="M429.91,189.61L428.42,188.28L428.9,187.73L426.39,187.24L427.17,189.68L427.65,189.14L429.15,190.47Z" fill="#3c78c0"/>
<path d="M437.49,188.77L435.6,188.13L435.83,187.44L433.33,187.96L435,189.9L435.23,189.22L437.12,189.86Z" fill="#2aa4b0"/>
<path d="M444.84,188.92L443,188.15L443.28,187.48L440.74,187.83L442.27,189.88L442.55,189.21L444.39,189.98Z" fill="#2aa4b0"/>
<path d="M452.22,188.55L450.27,188.1L450.43,187.4L447.99,188.17L449.84,189.93L450.01,189.22L451.96,189.67Z" fill="#3c78c0"/>
<path d="M459.55,189.01L457.74,188.16L458.04,187.51L455.5,187.75L456.94,189.86L457.25,189.2L459.06,190.05Z" fill="#3c78c0"/>
<path d="M466.93,188.43L464.96,188.09L465.08,187.38L462.69,188.28L464.64,189.94L464.76,189.22L466.73,189.57Z" fill="#3c78c0"/>
<path d="M474.15,187.86L472.16,188.06L472.09,187.34L470.03,188.85L472.35,189.92L472.28,189.2L474.27,189Z" fill="#3c78c0"/>
<path d="M481.63,188.28L479.64,188.08L479.71,187.36L477.39,188.43L479.45,189.94L479.52,189.22L481.51,189.42Z" fill="#2aa4b0"/>
<path d="M489.01,188.85L487.14,188.14L487.4,187.46L484.88,187.89L486.47,189.89L486.73,189.21L488.6,189.92Z" fill="#2aa4b0"/>
<path d="M496.25,187.89L494.25,188.06L494.19,187.34L492.11,188.81L494.41,189.93L494.35,189.2L496.34,189.04Z" fill="#3c78c0"/>
<path d="M503.45,187.57L501.52,188.06L501.34,187.36L499.52,189.16L501.98,189.88L501.8,189.17L503.74,188.68Z" fill="#3c78c0"/>
<path d="M511.09,188.48L509.13,188.09L509.27,187.38L506.86,188.24L508.77,189.93L508.91,189.22L510.87,189.61Z" fill="#3c78c0"/>
<path d="M518.41,188.2L516.42,188.07L516.46,187.35L514.18,188.51L516.3,189.94L516.34,189.22L518.34,189.34Z" fill="#3c78c0"/>
<path d="M525.8,188.38L523.82,188.09L523.93,187.37L521.56,188.33L523.55,189.94L523.65,189.22L525.63,189.52Z" fill="#2aa4b0"/>
<path d="M533.13,188.21L531.14,188.07L531.19,187.35L528.9,188.5L531.01,189.94L531.06,189.22L533.06,189.35Z" fill="#3c78c0"/>
<path d="M540.44,187.98L538.44,188.06L538.41,187.34L536.26,188.72L538.51,189.94L538.48,189.21L540.48,189.13Z" fill="#3c78c0"/>
<path d="M547.72,187.79L545.74,188.06L545.64,187.34L543.64,188.92L546,189.91L545.9,189.2L547.88,188.93Z" fill="#3c78c0"/>
<path d="M554.63,187.12L552.89,188.09L552.53,187.46L551.25,189.66L553.8,189.73L553.45,189.09L555.19,188.12Z" fill="#3c78c0"/>
<path d="M562.2,187.36L560.33,188.07L560.07,187.39L558.48,189.39L560.99,189.82L560.74,189.14L562.61,188.43Z" fill="#2aa4b0"/>
<path d="M569.99,187.47L567.65,188.01L567.48,187.23L565.46,189.18L568.12,190.05L567.95,189.27L570.28,188.74Z" fill="#26a6a8"/>
<path d="M577.16,187.16L574.92,188.03L574.63,187.29L572.93,189.52L575.69,189.99L575.4,189.25L577.63,188.37Z" fill="#26a6a8"/>
<path d="M584.57,187.24L582.31,188.03L582.04,187.27L580.25,189.43L583,190.01L582.73,189.25L585,188.47Z" fill="#26a6a8"/>
<path d="M592.06,187.44L589.73,188.01L589.54,187.23L587.55,189.21L590.22,190.05L590.03,189.27L592.37,188.71Z" fill="#26a6a8"/>
<path d="M599.64,187.99L597.24,187.99L597.24,187.19L594.84,188.64L597.24,190.09L597.24,189.29L599.64,189.29Z" fill="#26a6a8"/>
<path d="M606.89,187.68L604.51,188L604.41,187.2L602.22,188.96L604.79,190.08L604.69,189.28L607.06,188.97Z" fill="#2cb8b4"/>
<path d="M348.97,194.32L346.75,195.23L346.45,194.49L344.78,196.74L347.55,197.17L347.25,196.43L349.47,195.52Z" fill="#3584bc"/>
<path d="M356.27,194.24L354.09,195.24L353.76,194.51L352.18,196.83L354.96,197.15L354.63,196.42L356.81,195.42Z" fill="#3584bc"/>
<path d="M363.64,194.25L361.45,195.24L361.12,194.51L359.54,196.82L362.32,197.15L361.99,196.42L364.17,195.43Z" fill="#3584bc"/>
<path d="M371.25,194.62L368.92,195.2L368.73,194.42L366.75,196.41L369.43,197.24L369.24,196.46L371.57,195.88Z" fill="#3584bc"/>
<path d="M378.67,194.72L376.31,195.19L376.16,194.41L374.09,196.3L376.72,197.25L376.57,196.47L378.92,196Z" fill="#3584bc"/>
<path d="M386.09,194.86L383.71,195.19L383.6,194.39L381.42,196.16L384,197.27L383.89,196.47L386.27,196.15Z" fill="#3584bc"/>
<path d="M393.47,194.9L391.08,195.18L390.99,194.39L388.78,196.12L391.33,197.27L391.24,196.48L393.62,196.19Z" fill="#3584bc"/>
<path d="M400.65,194.54L398.34,195.21L398.12,194.44L396.21,196.49L398.92,197.22L398.7,196.45L401.01,195.79Z" fill="#3584bc"/>
<path d="M408.2,194.93L405.81,195.18L405.73,194.39L403.49,196.08L406.03,197.27L405.95,196.48L408.33,196.22Z" fill="#26a6a8"/>
<path d="M415.65,195.22L413.25,195.18L413.26,194.38L410.84,195.79L413.22,197.28L413.23,196.48L415.63,196.52Z" fill="#26a6a8"/>
<path d="M423.08,195.98L420.81,195.21L421.06,194.46L418.33,195.06L420.14,197.2L420.39,196.45L422.67,197.21Z" fill="#26a6a8"/>
<path d="M430.42,196.21L428.22,195.24L428.55,194.5L425.77,194.86L427.37,197.16L427.7,196.42L429.89,197.4Z" fill="#26a6a8"/>
<path d="M437.46,196.24L435.66,195.36L435.98,194.71L433.44,194.9L434.83,197.04L435.16,196.39L436.95,197.27Z" fill="#3c78c0"/>
<path d="M444.75,196.49L443.08,195.4L443.47,194.79L440.92,194.69L442.06,196.98L442.45,196.37L444.13,197.45Z" fill="#3c78c0"/>
<path d="M452.2,196.07L450.35,195.33L450.61,194.66L448.09,195.05L449.65,197.07L449.92,196.4L451.78,197.14Z" fill="#3c78c0"/>
<path d="M459.47,195.16L457.47,195.25L457.44,194.53L455.3,195.92L457.56,197.12L457.53,196.4L459.52,196.31Z" fill="#3c78c0"/>
<path d="M466.89,195.38L464.89,195.26L464.93,194.54L462.66,195.71L464.79,197.13L464.83,196.41L466.82,196.52Z" fill="#2aa4b0"/>
<path d="M474.25,196.28L472.47,195.36L472.8,194.72L470.25,194.87L471.61,197.03L471.95,196.39L473.72,197.3Z" fill="#2aa4b0"/>
<path d="M481.62,196.22L479.82,195.36L480.13,194.7L477.59,194.92L479.01,197.05L479.32,196.39L481.12,197.26Z" fill="#3c78c0"/>
<path d="M488.84,194.97L486.86,195.25L486.76,194.53L484.76,196.12L487.12,197.1L487.02,196.39L489,196.11Z" fill="#3c78c0"/>
<path d="M496.13,194.82L494.18,195.25L494.02,194.54L492.15,196.28L494.57,197.08L494.42,196.37L496.37,195.95Z" fill="#3c78c0"/>
<path d="M503.41,194.68L501.49,195.25L501.29,194.56L499.55,196.43L502.02,197.05L501.82,196.35L503.74,195.79Z" fill="#3c78c0"/>
<path d="M510.83,194.78L508.88,195.25L508.72,194.54L506.88,196.32L509.32,197.07L509.15,196.37L511.1,195.9Z" fill="#2aa4b0"/>
<path d="M518.14,194.69L516.22,195.25L516.01,194.55L514.26,196.42L516.74,197.05L516.54,196.35L518.46,195.8Z" fill="#2aa4b0"/>
<path d="M525.73,195.23L523.73,195.25L523.72,194.53L521.54,195.86L523.76,197.13L523.75,196.4L525.75,196.38Z" fill="#3c78c0"/>
<path d="M533,194.97L531.02,195.25L530.92,194.53L528.92,196.12L531.28,197.1L531.18,196.39L533.16,196.11Z" fill="#3c78c0"/>
<path d="M540.4,195.08L538.41,195.25L538.35,194.53L536.27,196.01L538.57,197.12L538.51,196.39L540.5,196.22Z" fill="#3c78c0"/>
<path d="M547.61,194.76L545.68,195.25L545.5,194.55L543.68,196.35L546.14,197.07L545.96,196.36L547.9,195.87Z" fill="#2aa4b0"/>
<path d="M555.22,194.57L552.91,195.2L552.7,194.43L550.77,196.46L553.46,197.23L553.25,196.46L555.57,195.82Z" fill="#26a6a8"/>
<path d="M562.56,194.53L560.26,195.21L560.03,194.44L558.14,196.51L560.85,197.22L560.62,196.45L562.93,195.78Z" fill="#26a6a8"/>
<path d="M570.02,194.72L567.67,195.19L567.51,194.41L565.45,196.31L568.09,197.25L567.93,196.47L570.28,195.99Z" fill="#26a6a8"/>
<path d="M577.3,194.57L574.99,195.2L574.78,194.43L572.85,196.47L575.54,197.23L575.33,196.46L577.65,195.82Z" fill="#26a6a8"/>
<path d="M584.82,194.88L582.44,195.19L582.33,194.39L580.14,196.14L582.71,197.27L582.6,196.47L584.98,196.17Z" fill="#26a6a8"/>
<path d="M592.19,194.9L589.8,195.18L589.71,194.39L587.5,196.12L590.05,197.27L589.96,196.48L592.34,196.19Z" fill="#26a6a8"/>
<path d="M599.5,194.79L597.13,195.19L597,194.4L594.87,196.23L597.48,197.26L597.35,196.47L599.72,196.07Z" fill="#26a6a8"/>
<path d="M607,195.17L604.6,195.18L604.59,194.38L602.2,195.84L604.61,197.28L604.6,196.48L607,196.47Z" fill="#2cb8b4"/>
<path d="M349.1,201.69L346.81,202.4L346.57,201.63L344.71,203.72L347.43,204.41L347.19,203.64L349.49,202.94Z" fill="#3584bc"/>
<path d="M356.67,202.11L354.29,202.37L354.2,201.58L351.97,203.28L354.52,204.46L354.43,203.67L356.82,203.4Z" fill="#3584bc"/>
<path d="M363.87,201.77L361.55,202.39L361.34,201.62L359.4,203.64L362.1,204.42L361.89,203.65L364.21,203.02Z" fill="#3584bc"/>
<path d="M371.17,201.67L368.88,202.4L368.64,201.64L366.8,203.75L369.52,204.4L369.28,203.64L371.56,202.9Z" fill="#3584bc"/>
<path d="M378.59,201.77L376.27,202.39L376.06,201.62L374.12,203.65L376.82,204.42L376.61,203.65L378.93,203.02Z" fill="#3584bc"/>
<path d="M386.11,202.09L383.72,202.37L383.63,201.58L381.42,203.31L383.97,204.46L383.88,203.67L386.26,203.38Z" fill="#3584bc"/>
<path d="M393.51,202.22L391.12,202.37L391.07,201.57L388.76,203.17L391.25,204.47L391.2,203.67L393.6,203.52Z" fill="#3584bc"/>
<path d="M400.63,201.71L398.33,202.4L398.11,201.63L396.22,203.71L398.93,204.41L398.71,203.64L401.01,202.96Z" fill="#3584bc"/>
<path d="M408.18,202.07L405.8,202.38L405.69,201.58L403.5,203.33L406.07,204.46L405.96,203.66L408.34,203.36Z" fill="#26a6a8"/>
<path d="M415.63,202.34L413.23,202.37L413.22,201.57L410.84,203.05L413.26,204.47L413.25,203.67L415.65,203.64Z" fill="#26a6a8"/>
<path d="M423.08,202.84L420.73,202.38L420.88,201.6L418.24,202.56L420.32,204.44L420.47,203.66L422.83,204.12Z" fill="#26a6a8"/>
<path d="M430.42,202.63L428.03,202.37L428.12,201.58L425.57,202.76L427.8,204.46L427.89,203.67L430.28,203.93Z" fill="#26a6a8"/>
<path d="M437.79,202.78L435.43,202.38L435.56,201.59L432.95,202.62L435.08,204.45L435.21,203.66L437.58,204.06Z" fill="#26a6a8"/>
<path d="M445.13,202.58L442.74,202.37L442.81,201.58L440.29,202.81L442.55,204.46L442.62,203.67L445.01,203.88Z" fill="#26a6a8"/>
<path d="M452.22,203L450.28,202.49L450.47,201.79L448.01,202.49L449.81,204.3L449.99,203.6L451.93,204.11Z" fill="#2aa4b0"/>
<path d="M459.56,203.27L457.71,202.52L457.98,201.85L455.45,202.24L457.01,204.26L457.28,203.59L459.13,204.34Z" fill="#2aa4b0"/>
<path d="M466.91,202.67L464.92,202.46L464.99,201.74L462.67,202.8L464.72,204.32L464.8,203.6L466.79,203.81Z" fill="#3c78c0"/>
<path d="M474.28,202.75L472.3,202.47L472.41,201.75L470.04,202.72L472.03,204.32L472.14,203.6L474.12,203.89Z" fill="#3c78c0"/>
<path d="M481.65,202.84L479.68,202.47L479.82,201.76L477.42,202.63L479.34,204.32L479.47,203.6L481.44,203.97Z" fill="#3c78c0"/>
<path d="M489.01,203.16L487.12,202.51L487.36,201.82L484.85,202.34L486.51,204.28L486.75,203.6L488.64,204.25Z" fill="#3c78c0"/>
<path d="M496.37,202.91L494.42,202.48L494.58,201.77L492.15,202.57L494.02,204.31L494.17,203.6L496.13,204.03Z" fill="#2aa4b0"/>
<path d="M503.55,202.14L501.58,202.44L501.47,201.72L499.48,203.33L501.85,204.29L501.74,203.57L503.72,203.28Z" fill="#2aa4b0"/>
<path d="M511,202.39L509.01,202.44L508.99,201.72L506.82,203.07L509.05,204.32L509.03,203.59L511.03,203.54Z" fill="#3c78c0"/>
<path d="M518.2,201.99L516.25,202.44L516.08,201.73L514.23,203.49L516.67,204.26L516.51,203.56L518.46,203.11Z" fill="#3c78c0"/>
<path d="M525.29,201.6L523.48,202.46L523.17,201.8L521.74,203.92L524.29,204.15L523.98,203.5L525.78,202.64Z" fill="#3c78c0"/>
<path d="M533,202.15L531.02,202.44L530.91,201.72L528.92,203.32L531.28,204.29L531.18,203.57L533.16,203.29Z" fill="#2aa4b0"/>
<path d="M540.37,202.19L538.39,202.44L538.3,201.72L536.28,203.28L538.62,204.3L538.53,203.58L540.51,203.33Z" fill="#2aa4b0"/>
<path d="M548.12,202.37L545.72,202.37L545.72,201.57L543.32,203.02L545.72,204.47L545.72,203.67L548.12,203.67Z" fill="#26a6a8"/>
<path d="M555.33,201.96L552.97,202.38L552.83,201.59L550.72,203.44L553.33,204.45L553.19,203.66L555.56,203.24Z" fill="#26a6a8"/>
<path d="M562.71,202.01L560.34,202.38L560.22,201.59L558.07,203.39L560.66,204.45L560.54,203.66L562.91,203.29Z" fill="#26a6a8"/>
<path d="M570.06,201.99L567.7,202.38L567.57,201.59L565.43,203.41L568.03,204.45L567.9,203.66L570.27,203.27Z" fill="#26a6a8"/>
<path d="M577.48,202.14L575.1,202.37L575.02,201.58L572.77,203.26L575.3,204.46L575.22,203.67L577.61,203.43Z" fill="#26a6a8"/>
<path d="M584.88,202.23L582.48,202.37L582.43,201.57L580.12,203.17L582.61,204.47L582.56,203.67L584.95,203.52Z" fill="#26a6a8"/>
<path d="M592.25,202.26L589.85,202.37L589.81,201.57L587.48,203.13L589.95,204.47L589.91,203.67L592.31,203.56Z" fill="#26a6a8"/>
<path d="M599.57,202.15L597.18,202.37L597.1,201.58L594.85,203.24L597.38,204.46L597.3,203.67L599.69,203.44Z" fill="#26a6a8"/>
<path d="M606.93,202.15L604.54,202.37L604.46,201.58L602.21,203.24L604.74,204.46L604.66,203.67L607.05,203.44Z" fill="#2cb8b4"/>
<path d="M349.26,209.16L346.89,209.57L346.75,208.78L344.63,210.62L347.25,211.64L347.11,210.85L349.48,210.44Z" fill="#36c0c2"/>
<path d="M356.78,209.64L354.38,209.56L354.41,208.76L351.96,210.13L354.31,211.66L354.34,210.86L356.74,210.94Z" fill="#36c0c2"/>
<path d="M364.12,209.55L361.72,209.56L361.72,208.76L359.32,210.22L361.72,211.66L361.72,210.86L364.12,210.85Z" fill="#36c0c2"/>
<path d="M371.47,209.52L369.07,209.56L369.05,208.76L366.68,210.25L369.11,211.66L369.09,210.86L371.49,210.82Z" fill="#36c0c2"/>
<path d="M378.65,209.06L376.3,209.57L376.13,208.79L374.09,210.72L376.75,211.63L376.58,210.85L378.92,210.33Z" fill="#36c0c2"/>
<path d="M386.04,209.14L383.68,209.57L383.54,208.78L381.44,210.64L384.06,211.64L383.92,210.85L386.28,210.41Z" fill="#36c0c2"/>
<path d="M393.48,209.31L391.09,209.56L391.01,208.77L388.77,210.46L391.31,211.65L391.23,210.86L393.62,210.6Z" fill="#36c0c2"/>
<path d="M400.81,209.23L398.43,209.57L398.32,208.77L396.14,210.55L398.72,211.65L398.61,210.85L400.99,210.52Z" fill="#36c0c2"/>
<path d="M408.09,209.08L405.75,209.57L405.58,208.79L403.53,210.7L406.18,211.63L406.01,210.85L408.36,210.35Z" fill="#36c0c2"/>
<path d="M415.61,209.45L413.21,209.56L413.17,208.76L410.84,210.32L413.31,211.66L413.27,210.86L415.67,210.75Z" fill="#36c0c2"/>
<path d="M423.07,209.9L420.69,209.57L420.8,208.77L418.22,209.88L420.4,211.65L420.51,210.85L422.89,211.18Z" fill="#36c0c2"/>
<path d="M430.37,209.6L427.97,209.56L427.99,208.76L425.56,210.17L427.93,211.66L427.95,210.86L430.35,210.9Z" fill="#36c0c2"/>
<path d="M437.71,209.54L435.31,209.56L435.31,208.76L432.92,210.23L435.33,211.66L435.33,210.86L437.73,210.84Z" fill="#36c0c2"/>
<path d="M445.07,209.53L442.67,209.56L442.66,208.76L440.28,210.24L442.7,211.66L442.69,210.86L445.09,210.83Z" fill="#36c0c2"/>
<path d="M452.48,209.74L450.09,209.56L450.15,208.76L447.65,210.03L449.93,211.66L449.99,210.86L452.38,211.04Z" fill="#36c0c2"/>
<path d="M459.87,209.91L457.49,209.57L457.61,208.78L455.02,209.87L457.19,211.64L457.31,210.85L459.68,211.2Z" fill="#36c0c2"/>
<path d="M466.75,209.33L464.77,209.63L464.66,208.91L462.68,210.53L465.05,211.48L464.95,210.76L466.92,210.46Z" fill="#3c78c0"/>
<path d="M474.21,209.6L472.21,209.63L472.2,208.91L470.02,210.24L472.24,211.51L472.23,210.78L474.23,210.75Z" fill="#3c78c0"/>
<path d="M481.62,209.83L479.63,209.65L479.7,208.93L477.39,210.01L479.46,211.51L479.53,210.79L481.52,210.98Z" fill="#3c78c0"/>
<path d="M488.89,209.48L486.9,209.63L486.85,208.91L484.75,210.36L487.03,211.5L486.98,210.78L488.98,210.63Z" fill="#3c78c0"/>
<path d="M496.36,210.45L494.51,209.71L494.77,209.04L492.25,209.44L493.81,211.46L494.08,210.78L495.94,211.52Z" fill="#2aa4b0"/>
<path d="M503.56,209.35L501.58,209.63L501.48,208.91L499.48,210.5L501.84,211.48L501.74,210.77L503.72,210.49Z" fill="#2aa4b0"/>
<path d="M510.75,209.03L508.84,209.63L508.62,208.94L506.92,210.84L509.41,211.42L509.19,210.73L511.1,210.13Z" fill="#3c78c0"/>
<path d="M518.46,210.29L516.55,209.69L516.76,209L514.28,209.58L515.99,211.48L516.2,210.79L518.11,211.39Z" fill="#3c78c0"/>
<path d="M526.03,209.53L523.63,209.56L523.62,208.76L521.24,210.24L523.66,211.66L523.65,210.86L526.05,210.83Z" fill="#36c0c2"/>
<path d="M533.35,209.39L530.95,209.56L530.89,208.76L528.61,210.39L531.11,211.66L531.05,210.86L533.44,210.68Z" fill="#36c0c2"/>
<path d="M540.67,209.3L538.29,209.56L538.2,208.77L535.97,210.47L538.52,211.65L538.43,210.86L540.82,210.59Z" fill="#36c0c2"/>
<path d="M548.13,209.59L545.73,209.56L545.74,208.76L543.32,210.18L545.7,211.66L545.71,210.86L548.11,210.89Z" fill="#36c0c2"/>
<path d="M555.39,209.28L553,209.56L552.91,208.77L550.7,210.49L553.25,211.65L553.16,210.86L555.54,210.57Z" fill="#36c0c2"/>
<path d="M562.74,209.28L560.36,209.56L560.27,208.77L558.06,210.5L560.61,211.65L560.52,210.86L562.9,210.57Z" fill="#36c0c2"/>
<path d="M570.11,209.29L567.73,209.56L567.63,208.77L565.42,210.48L567.97,211.65L567.87,210.86L570.26,210.58Z" fill="#36c0c2"/>
<path d="M577.37,209.08L575.02,209.57L574.86,208.79L572.81,210.71L575.46,211.63L575.3,210.85L577.64,210.35Z" fill="#36c0c2"/>
<path d="M584.85,209.34L582.46,209.56L582.39,208.77L580.13,210.43L582.65,211.65L582.58,210.86L584.97,210.64Z" fill="#36c0c2"/>
<path d="M592.3,209.65L589.91,209.56L589.94,208.76L587.48,210.12L589.82,211.66L589.85,210.86L592.25,210.95Z" fill="#36c0c2"/>
<path d="M599.66,209.64L597.26,209.56L597.29,208.76L594.84,210.13L597.19,211.66L597.22,210.86L599.62,210.94Z" fill="#36c0c2"/>
<path d="M606.99,209.53L604.59,209.56L604.58,208.76L602.2,210.24L604.62,211.66L604.61,210.86L607.01,210.83Z" fill="#36c0c2"/>
<path d="M349.4,216.74L347,216.75L346.99,215.95L344.6,217.41L347.01,218.85L347,218.05L349.4,218.04Z" fill="#36c0c2"/>
<path d="M356.75,216.71L354.35,216.75L354.33,215.95L351.96,217.44L354.39,218.85L354.37,218.05L356.77,218.01Z" fill="#36c0c2"/>
<path d="M364.05,216.54L361.66,216.75L361.59,215.96L359.33,217.62L361.85,218.84L361.78,218.05L364.17,217.83Z" fill="#36c0c2"/>
<path d="M371.48,216.75L369.08,216.75L369.08,215.95L366.68,217.4L369.08,218.85L369.08,218.05L371.48,218.05Z" fill="#36c0c2"/>
<path d="M378.76,216.51L376.37,216.75L376.29,215.96L374.05,217.64L376.59,218.84L376.51,218.05L378.89,217.8Z" fill="#36c0c2"/>
<path d="M386.14,216.57L383.75,216.75L383.69,215.95L381.41,217.58L383.91,218.85L383.85,218.05L386.24,217.87Z" fill="#36c0c2"/>
<path d="M393.52,216.62L391.13,216.75L391.08,215.95L388.76,217.53L391.24,218.85L391.19,218.05L393.59,217.92Z" fill="#36c0c2"/>
<path d="M400.79,216.38L398.42,216.76L398.29,215.97L396.15,217.78L398.75,218.83L398.62,218.04L400.99,217.66Z" fill="#36c0c2"/>
<path d="M408.21,216.54L405.82,216.75L405.75,215.96L403.49,217.61L406.01,218.84L405.94,218.05L408.33,217.84Z" fill="#36c0c2"/>
<path d="M415.65,216.78L413.25,216.75L413.26,215.95L410.84,217.37L413.22,218.85L413.23,218.05L415.63,218.08Z" fill="#36c0c2"/>
<path d="M422.99,216.72L420.59,216.75L420.58,215.95L418.2,217.43L420.62,218.85L420.61,218.05L423.01,218.02Z" fill="#36c0c2"/>
<path d="M430.34,216.67L427.94,216.75L427.91,215.95L425.56,217.48L428.01,218.85L427.98,218.05L430.38,217.97Z" fill="#36c0c2"/>
<path d="M437.76,216.94L435.37,216.75L435.43,215.95L432.93,217.22L435.21,218.85L435.27,218.05L437.66,218.23Z" fill="#36c0c2"/>
<path d="M445.13,216.99L442.74,216.75L442.82,215.96L440.29,217.16L442.54,218.84L442.62,218.05L445,218.28Z" fill="#36c0c2"/>
<path d="M452.48,216.92L450.08,216.75L450.14,215.95L447.65,217.24L449.94,218.85L450,218.05L452.39,218.21Z" fill="#36c0c2"/>
<path d="M459.84,216.9L457.44,216.75L457.49,215.95L455,217.25L457.31,218.85L457.36,218.05L459.76,218.2Z" fill="#36c0c2"/>
<path d="M467.23,217.1L464.85,216.76L464.97,215.96L462.38,217.06L464.55,218.84L464.67,218.04L467.04,218.39Z" fill="#36c0c2"/>
<path d="M474.59,217.11L472.22,216.76L472.34,215.97L469.75,217.04L471.9,218.83L472.02,218.04L474.4,218.4Z" fill="#36c0c2"/>
<path d="M481.95,217.11L479.57,216.76L479.69,215.97L477.11,217.05L479.27,218.83L479.39,218.04L481.76,218.39Z" fill="#36c0c2"/>
<path d="M489.28,216.92L486.89,216.75L486.94,215.95L484.45,217.23L486.74,218.85L486.79,218.05L489.19,218.22Z" fill="#36c0c2"/>
<path d="M496.6,216.74L494.2,216.75L494.19,215.95L491.8,217.41L494.21,218.85L494.2,218.05L496.6,218.04Z" fill="#36c0c2"/>
<path d="M503.98,216.83L501.58,216.75L501.61,215.95L499.16,217.32L501.51,218.85L501.54,218.05L503.94,218.13Z" fill="#36c0c2"/>
<path d="M511.22,216.46L508.84,216.76L508.74,215.96L506.54,217.7L509.1,218.84L509,218.04L511.38,217.75Z" fill="#36c0c2"/>
<path d="M518.63,216.59L516.24,216.75L516.18,215.95L513.89,217.56L516.38,218.85L516.32,218.05L518.72,217.89Z" fill="#36c0c2"/>
<path d="M526.05,216.79L523.65,216.75L523.67,215.95L521.24,217.36L523.61,218.85L523.63,218.05L526.03,218.09Z" fill="#36c0c2"/>
<path d="M533.41,216.79L531.01,216.75L531.02,215.95L528.6,217.36L530.98,218.85L530.99,218.05L533.39,218.09Z" fill="#36c0c2"/>
<path d="M540.77,216.79L538.37,216.75L538.38,215.95L535.96,217.36L538.34,218.85L538.35,218.05L540.75,218.09Z" fill="#36c0c2"/>
<path d="M548.07,216.6L545.68,216.75L545.63,215.95L543.32,217.55L545.81,218.85L545.76,218.05L548.16,217.9Z" fill="#36c0c2"/>
<path d="M555.47,216.7L553.07,216.75L553.05,215.95L550.68,217.45L553.11,218.85L553.09,218.05L555.49,218Z" fill="#36c0c2"/>
<path d="M562.82,216.68L560.42,216.75L560.4,215.95L558.04,217.47L560.48,218.85L560.46,218.05L562.86,217.98Z" fill="#36c0c2"/>
<path d="M570.19,216.71L567.79,216.75L567.77,215.95L565.4,217.44L567.83,218.85L567.81,218.05L570.21,218.01Z" fill="#36c0c2"/>
<path d="M577.5,216.55L575.11,216.75L575.04,215.95L572.77,217.6L575.28,218.85L575.21,218.05L577.61,217.85Z" fill="#36c0c2"/>
<path d="M584.92,216.76L582.52,216.75L582.53,215.95L580.12,217.39L582.51,218.85L582.52,218.05L584.92,218.06Z" fill="#36c0c2"/>
<path d="M592.33,216.97L589.94,216.75L590.01,215.96L587.49,217.18L589.75,218.84L589.82,218.05L592.21,218.27Z" fill="#36c0c2"/>
<path d="M599.58,216.57L597.19,216.75L597.13,215.95L594.85,217.59L597.35,218.85L597.29,218.05L599.68,217.86Z" fill="#36c0c2"/>
<path d="M607.02,216.83L604.62,216.75L604.65,215.95L602.2,217.32L604.55,218.85L604.58,218.05L606.98,218.13Z" fill="#36c0c2"/>
<path d="M349.42,224.03L347.02,223.94L347.05,223.14L344.6,224.5L346.95,226.04L346.98,225.24L349.37,225.33Z" fill="#36c0c2"/>
<path d="M356.74,223.86L354.34,223.94L354.31,223.14L351.96,224.67L354.41,226.04L354.38,225.24L356.78,225.16Z" fill="#36c0c2"/>
<path d="M364.12,223.92L361.72,223.94L361.71,223.14L359.32,224.61L361.73,226.04L361.72,225.24L364.12,225.22Z" fill="#36c0c2"/>
<path d="M371.53,224.17L369.14,223.94L369.22,223.15L366.69,224.36L368.94,226.03L369.02,225.24L371.41,225.47Z" fill="#36c0c2"/>
<path d="M378.7,223.55L376.33,223.95L376.2,223.16L374.07,224.99L376.68,226.02L376.55,225.23L378.92,224.83Z" fill="#36c0c2"/>
<path d="M386.13,223.72L383.74,223.94L383.66,223.15L381.41,224.82L383.94,226.03L383.86,225.24L386.25,225.01Z" fill="#36c0c2"/>
<path d="M393.37,223.45L391.02,223.95L390.86,223.17L388.81,225.09L391.46,226.01L391.3,225.23L393.64,224.73Z" fill="#36c0c2"/>
<path d="M400.88,223.81L398.48,223.94L398.44,223.14L396.12,224.72L398.6,226.04L398.56,225.24L400.95,225.1Z" fill="#36c0c2"/>
<path d="M408.29,223.96L405.89,223.94L405.89,223.14L403.48,224.57L405.87,226.04L405.87,225.24L408.27,225.26Z" fill="#36c0c2"/>
<path d="M415.61,223.83L413.21,223.94L413.17,223.14L410.84,224.7L413.31,226.04L413.27,225.24L415.67,225.13Z" fill="#36c0c2"/>
<path d="M422.92,223.69L420.53,223.94L420.45,223.15L418.21,224.84L420.75,226.03L420.67,225.24L423.05,224.98Z" fill="#36c0c2"/>
<path d="M430.38,224.01L427.98,223.94L428,223.14L425.56,224.52L427.92,226.04L427.94,225.24L430.34,225.31Z" fill="#36c0c2"/>
<path d="M437.73,223.99L435.33,223.94L435.35,223.14L432.92,224.54L435.29,226.04L435.31,225.24L437.7,225.29Z" fill="#36c0c2"/>
<path d="M445.11,224.08L442.72,223.94L442.76,223.14L440.28,224.45L442.6,226.04L442.64,225.24L445.04,225.38Z" fill="#36c0c2"/>
<path d="M452.44,223.95L450.04,223.94L450.05,223.14L447.64,224.58L450.03,226.04L450.04,225.24L452.44,225.25Z" fill="#36c0c2"/>
<path d="M459.83,224.04L457.43,223.94L457.46,223.14L455,224.49L457.34,226.04L457.37,225.24L459.77,225.34Z" fill="#36c0c2"/>
<path d="M467.22,224.21L464.83,223.94L464.92,223.15L462.37,224.32L464.6,226.03L464.69,225.24L467.07,225.5Z" fill="#36c0c2"/>
<path d="M474.56,224.1L472.16,223.94L472.22,223.14L469.73,224.43L472.02,226.04L472.08,225.24L474.47,225.4Z" fill="#36c0c2"/>
<path d="M481.91,224.07L479.51,223.94L479.56,223.14L477.08,224.47L479.4,226.04L479.45,225.24L481.84,225.36Z" fill="#36c0c2"/>
<path d="M489.31,224.35L486.95,223.95L487.08,223.16L484.47,224.19L486.6,226.02L486.73,225.23L489.1,225.63Z" fill="#36c0c2"/>
<path d="M496.57,223.85L494.18,223.94L494.14,223.14L491.8,224.68L494.26,226.04L494.22,225.24L496.62,225.15Z" fill="#36c0c2"/>
<path d="M503.99,224.05L501.59,223.94L501.63,223.14L499.16,224.48L501.49,226.04L501.53,225.24L503.93,225.35Z" fill="#36c0c2"/>
<path d="M511.28,223.82L508.89,223.94L508.85,223.14L506.52,224.71L508.99,226.04L508.95,225.24L511.35,225.12Z" fill="#36c0c2"/>
<path d="M518.7,224L516.3,223.94L516.32,223.14L513.88,224.53L516.24,226.04L516.26,225.24L518.66,225.3Z" fill="#36c0c2"/>
<path d="M525.94,223.63L523.56,223.95L523.45,223.15L521.26,224.9L523.83,226.03L523.72,225.23L526.1,224.92Z" fill="#36c0c2"/>
<path d="M533.45,224.16L531.06,223.94L531.13,223.15L528.61,224.38L530.87,226.03L530.94,225.24L533.33,225.45Z" fill="#36c0c2"/>
<path d="M540.73,223.83L538.33,223.94L538.29,223.14L535.96,224.7L538.43,226.04L538.39,225.24L540.79,225.13Z" fill="#36c0c2"/>
<path d="M548.03,223.68L545.65,223.94L545.56,223.15L543.33,224.85L545.88,226.03L545.79,225.24L548.18,224.97Z" fill="#36c0c2"/>
<path d="M555.44,223.8L553.04,223.94L553,223.14L550.68,224.73L553.16,226.04L553.12,225.24L555.51,225.1Z" fill="#36c0c2"/>
<path d="M562.81,223.85L560.42,223.94L560.39,223.14L558.04,224.68L560.49,226.04L560.46,225.24L562.86,225.15Z" fill="#36c0c2"/>
<path d="M570.08,223.59L567.7,223.95L567.58,223.16L565.43,224.95L568.02,226.02L567.9,225.23L570.27,224.87Z" fill="#36c0c2"/>
<path d="M577.51,223.79L575.12,223.94L575.07,223.14L572.76,224.74L575.25,226.04L575.2,225.24L577.6,225.08Z" fill="#36c0c2"/>
<path d="M584.89,223.83L582.49,223.94L582.45,223.14L580.12,224.7L582.59,226.04L582.55,225.24L584.95,225.12Z" fill="#36c0c2"/>
<path d="M592.3,224.03L589.9,223.94L589.94,223.14L587.48,224.5L589.82,226.04L589.86,225.24L592.25,225.33Z" fill="#36c0c2"/>
<path d="M599.61,223.85L597.22,223.94L597.19,223.14L594.84,224.68L597.29,226.04L597.26,225.24L599.66,225.15Z" fill="#36c0c2"/>
<path d="M606.96,223.8L604.56,223.94L604.51,223.14L602.2,224.73L604.69,226.04L604.64,225.24L607.03,225.1Z" fill="#36c0c2"/>
<path d="M349.32,230.88L346.93,231.13L346.85,230.34L344.61,232.03L347.15,233.22L347.07,232.43L349.45,232.18Z" fill="#36c0c2"/>
<path d="M356.78,231.22L354.38,231.13L354.41,230.33L351.96,231.69L354.31,233.23L354.34,232.43L356.73,232.52Z" fill="#36c0c2"/>
<path d="M364.17,231.34L361.78,231.13L361.85,230.34L359.33,231.57L361.59,233.22L361.66,232.43L364.05,232.64Z" fill="#36c0c2"/>
<path d="M371.46,231.07L369.06,231.13L369.05,230.33L366.68,231.84L369.11,233.23L369.1,232.43L371.49,232.37Z" fill="#36c0c2"/>
<path d="M378.74,230.83L376.36,231.14L376.26,230.34L374.06,232.09L376.62,233.22L376.52,232.42L378.9,232.12Z" fill="#36c0c2"/>
<path d="M386.19,231.08L383.79,231.13L383.77,230.33L381.4,231.83L383.83,233.23L383.81,232.43L386.21,232.38Z" fill="#36c0c2"/>
<path d="M393.45,230.8L391.07,231.14L390.96,230.34L388.78,232.11L391.36,233.22L391.25,232.42L393.63,232.09Z" fill="#36c0c2"/>
<path d="M400.76,230.71L398.4,231.14L398.26,230.35L396.16,232.21L398.78,233.21L398.64,232.42L401,231.99Z" fill="#36c0c2"/>
<path d="M408.13,230.72L405.77,231.14L405.62,230.35L403.52,232.2L406.14,233.21L405.99,232.42L408.36,232Z" fill="#36c0c2"/>
<path d="M415.65,231.16L413.25,231.13L413.26,230.33L410.84,231.75L413.22,233.23L413.23,232.43L415.63,232.46Z" fill="#36c0c2"/>
<path d="M423.03,231.26L420.64,231.13L420.68,230.33L418.2,231.65L420.52,233.23L420.56,232.43L422.96,232.56Z" fill="#36c0c2"/>
<path d="M430.38,231.21L427.98,231.13L428.01,230.33L425.56,231.7L427.91,233.23L427.94,232.43L430.34,232.51Z" fill="#36c0c2"/>
<path d="M437.72,231.13L435.32,231.13L435.32,230.33L432.92,231.78L435.32,233.23L435.32,232.43L437.72,232.43Z" fill="#36c0c2"/>
<path d="M445.09,231.18L442.69,231.13L442.71,230.33L440.28,231.73L442.65,233.23L442.67,232.43L445.07,232.48Z" fill="#36c0c2"/>
<path d="M452.4,230.99L450,231.13L449.95,230.33L447.64,231.92L450.13,233.23L450.08,232.43L452.47,232.29Z" fill="#36c0c2"/>
<path d="M459.86,231.43L457.48,231.13L457.58,230.34L455.02,231.48L457.22,233.22L457.32,232.43L459.7,232.72Z" fill="#36c0c2"/>
<path d="M467.15,231.11L464.75,231.13L464.75,230.33L462.36,231.8L464.77,233.23L464.77,232.43L467.17,232.41Z" fill="#36c0c2"/>
<path d="M474.56,231.31L472.17,231.13L472.23,230.33L469.73,231.6L472.01,233.23L472.07,232.43L474.46,232.61Z" fill="#36c0c2"/>
<path d="M481.94,231.43L479.56,231.14L479.66,230.34L477.1,231.48L479.3,233.22L479.4,232.42L481.78,232.72Z" fill="#36c0c2"/>
<path d="M489.3,231.41L486.91,231.13L487.01,230.34L484.46,231.5L486.67,233.22L486.77,232.43L489.15,232.7Z" fill="#36c0c2"/>
<path d="M496.61,231.16L494.21,231.13L494.22,230.33L491.8,231.75L494.18,233.23L494.19,232.43L496.59,232.46Z" fill="#36c0c2"/>
<path d="M503.92,231.01L501.53,231.13L501.48,230.33L499.16,231.9L501.64,233.23L501.59,232.43L503.99,232.3Z" fill="#36c0c2"/>
<path d="M511.31,231.1L508.91,231.13L508.9,230.33L506.52,231.81L508.94,233.23L508.93,232.43L511.33,232.4Z" fill="#36c0c2"/>
<path d="M518.58,230.84L516.2,231.14L516.1,230.34L513.9,232.08L516.46,233.22L516.36,232.42L518.74,232.12Z" fill="#36c0c2"/>
<path d="M526.07,231.23L523.67,231.13L523.7,230.33L521.24,231.68L523.58,233.23L523.61,232.43L526.01,232.53Z" fill="#36c0c2"/>
<path d="M533.35,230.98L530.96,231.13L530.91,230.33L528.6,231.93L531.09,233.23L531.04,232.43L533.44,232.28Z" fill="#36c0c2"/>
<path d="M540.8,231.29L538.4,231.13L538.46,230.33L535.97,231.62L538.26,233.23L538.32,232.43L540.71,232.59Z" fill="#36c0c2"/>
<path d="M548.07,230.97L545.68,231.13L545.63,230.33L543.33,231.94L545.81,233.23L545.76,232.43L548.16,232.27Z" fill="#36c0c2"/>
<path d="M555.45,231.04L553.05,231.13L553.02,230.33L550.68,231.87L553.14,233.23L553.11,232.43L555.5,232.33Z" fill="#36c0c2"/>
<path d="M562.78,230.95L560.39,231.13L560.33,230.33L558.05,231.97L560.55,233.23L560.49,232.43L562.88,232.24Z" fill="#36c0c2"/>
<path d="M570.16,231.01L567.77,231.13L567.73,230.33L565.4,231.9L567.87,233.23L567.83,232.43L570.23,232.31Z" fill="#36c0c2"/>
<path d="M577.47,230.86L575.09,231.13L574.99,230.34L572.78,232.06L575.33,233.22L575.23,232.43L577.62,232.15Z" fill="#36c0c2"/>
<path d="M584.8,230.78L582.42,231.14L582.3,230.35L580.15,232.14L582.74,233.21L582.62,232.42L584.99,232.07Z" fill="#36c0c2"/>
<path d="M592.3,231.22L589.91,231.13L589.94,230.33L587.48,231.69L589.82,233.23L589.85,232.43L592.25,232.52Z" fill="#36c0c2"/>
<path d="M599.6,230.99L597.2,231.13L597.15,230.33L594.84,231.92L597.33,233.23L597.28,232.43L599.67,232.29Z" fill="#36c0c2"/>
<path d="M606.95,230.97L604.56,231.13L604.5,230.33L602.21,231.94L604.7,233.23L604.64,232.43L607.04,232.26Z" fill="#36c0c2"/>
<ellipse cx="491.5" cy="112.7" rx="104.2" ry="101.3" fill="none" stroke="#555" stroke-width="1"/>
<circle cx="376.0" cy="112.0" r="12.3" fill="#dcecee" stroke="#333" stroke-width="1"/>
<circle cx="376.0" cy="112.0" r="10" fill="url(#smallB)" stroke="#333" stroke-width="1"/>
<path d="M354.43,89.3L360.78,96.03L358.2,98.47L365.9,98.9L365.91,91.19L363.33,93.63L356.97,86.9Z" fill="#fff" stroke="#ff0a0a" stroke-width="2.3" stroke-linejoin="miter"/>
<path d="M382.33,117.27L375.76,109.53L378.47,107.23L370.8,106.4L370.39,114.1L373.09,111.8L379.67,119.53Z" fill="#fff" stroke="#ff0a0a" stroke-width="2.3" stroke-linejoin="miter"/>
<path d="M402.85,104.8L400.05,99.73L403.07,98.07L396,95.8L394.14,102.99L397.16,101.33L399.95,106.4Z" fill="#fff" stroke="#ff0a0a" stroke-width="2.3" stroke-linejoin="miter"/>
<path d="M364.25,132.77L356.17,124.57L358.71,122.08L351,121.8L351.15,129.51L353.68,127.02L361.75,135.23Z" fill="#fff" stroke="#ff0a0a" stroke-width="2.3" stroke-linejoin="miter"/>
<path d="M386.43,123.9L392.78,130.63L390.2,133.07L397.9,133.5L397.91,125.79L395.33,128.23L388.97,121.5Z" fill="#fff" stroke="#ff0a0a" stroke-width="2.3" stroke-linejoin="miter"/>
<path d="M394,226.3L445.7,226.3L445.7,229.75L453.2,223L445.7,216.25L445.7,219.7L394,219.7Z" fill="#3b6fc6"/>
<path d="M396.69,222.05L412.14,195.25L414.44,196.57L413.2,187.2L404.47,190.83L406.77,192.15L391.31,218.95Z" fill="#16a84a"/>
<path d="M394.45,226.4L394.45,171.8L396.95,171.8L391.2,165.8L385.45,171.8L387.95,171.8L387.95,226.4Z" fill="#ee1111"/>
<text x="362.6" y="178.6" font-size="18.5" font-weight="bold" text-anchor="start" fill="#000" font-family='"Liberation Serif", serif' font-style="italic" textLength="11.5" lengthAdjust="spacingAndGlyphs" stroke="#000" stroke-width="0.5">S</text>
<text x="375.2" y="183" font-size="12" font-weight="bold" text-anchor="start" fill="#000" font-family='"Liberation Serif", serif' font-style="italic" textLength="7" lengthAdjust="spacingAndGlyphs" stroke="#000" stroke-width="0.3">z</text>
<text x="407.5" y="182.8" font-size="18" font-weight="bold" text-anchor="start" fill="#000" font-family='"Liberation Serif", serif' font-style="italic" textLength="15" lengthAdjust="spacingAndGlyphs" stroke="#000" stroke-width="0.5">H</text>
<text x="422" y="187.5" font-size="13" font-weight="bold" text-anchor="start" fill="#000" font-family='"Liberation Serif", serif' font-style="italic" textLength="8.5" lengthAdjust="spacingAndGlyphs" stroke="#000" stroke-width="0.3">y</text>
<text x="455.2" y="224.8" font-size="19" font-weight="bold" text-anchor="start" fill="#000" font-family='"Liberation Serif", serif' font-style="italic" textLength="13.2" lengthAdjust="spacingAndGlyphs" stroke="#000" stroke-width="0.5">E</text>
<text x="468.8" y="229.2" font-size="14" font-weight="bold" text-anchor="start" fill="#000" font-family='"Liberation Serif", serif' font-style="italic" textLength="8.6" lengthAdjust="spacingAndGlyphs" stroke="#000" stroke-width="0.3">x</text>
<line x1="364.5" y1="162" x2="374.5" y2="162" stroke="#000" stroke-width="0.9"/>
<path d="M372,160.2 L375,162 L372,163.8" fill="none" stroke="#000" stroke-width="0.9"/>
<line x1="409.5" y1="164.6" x2="423.5" y2="164.6" stroke="#000" stroke-width="0.9"/>
<path d="M421,162.8 L424,164.6 L421,166.4" fill="none" stroke="#000" stroke-width="0.9"/>
<line x1="455.5" y1="207" x2="468" y2="207" stroke="#000" stroke-width="0.9"/>
<path d="M465.5,205.2 L468.5,207 L465.5,208.8" fill="none" stroke="#000" stroke-width="0.9"/>
<text x="355.2" y="24.9" font-size="22" font-weight="bold" text-anchor="start" fill="#000" font-family='"Liberation Sans", sans-serif' font-style="normal" textLength="25.2" lengthAdjust="spacingAndGlyphs">(b)</text>
<rect x="661.5" y="7.1" width="17.3" height="7.26" fill="#ff0a00"/>
<rect x="661.5" y="13.96" width="17.3" height="7.26" fill="#ff1f00"/>
<rect x="661.5" y="20.82" width="17.3" height="7.26" fill="#ff3300"/>
<rect x="661.5" y="27.69" width="17.3" height="7.26" fill="#ff4700"/>
<rect x="661.5" y="34.55" width="17.3" height="7.26" fill="#ff5a00"/>
<rect x="661.5" y="41.41" width="17.3" height="7.26" fill="#ff7400"/>
<rect x="661.5" y="48.27" width="17.3" height="7.26" fill="#ff9100"/>
<rect x="661.5" y="55.14" width="17.3" height="7.26" fill="#ffaf00"/>
<rect x="661.5" y="62" width="17.3" height="7.26" fill="#ffd100"/>
<rect x="661.5" y="68.86" width="17.3" height="7.26" fill="#fff100"/>
<rect x="661.5" y="75.72" width="17.3" height="7.26" fill="#ebfb00"/>
<rect x="661.5" y="82.59" width="17.3" height="7.26" fill="#c7f400"/>
<rect x="661.5" y="89.45" width="17.3" height="7.26" fill="#9fee00"/>
<rect x="661.5" y="96.31" width="17.3" height="7.26" fill="#6de600"/>
<rect x="661.5" y="103.17" width="17.3" height="7.26" fill="#3de003"/>
<rect x="661.5" y="110.04" width="17.3" height="7.26" fill="#21e01f"/>
<rect x="661.5" y="116.9" width="17.3" height="7.26" fill="#04e03c"/>
<rect x="661.5" y="123.76" width="17.3" height="7.26" fill="#00e76b"/>
<rect x="661.5" y="130.62" width="17.3" height="7.26" fill="#00f09d"/>
<rect x="661.5" y="137.49" width="17.3" height="7.26" fill="#00f4ba"/>
<rect x="661.5" y="144.35" width="17.3" height="7.26" fill="#00f9d7"/>
<rect x="661.5" y="151.21" width="17.3" height="7.26" fill="#00fded"/>
<rect x="661.5" y="158.07" width="17.3" height="7.26" fill="#00fef9"/>
<rect x="661.5" y="164.94" width="17.3" height="7.26" fill="#00f4ff"/>
<rect x="661.5" y="171.8" width="17.3" height="7.26" fill="#00dcff"/>
<rect x="661.5" y="178.66" width="17.3" height="7.26" fill="#00c2ff"/>
<rect x="661.5" y="185.52" width="17.3" height="7.26" fill="#00a9ff"/>
<rect x="661.5" y="192.39" width="17.3" height="7.26" fill="#008dff"/>
<rect x="661.5" y="199.25" width="17.3" height="7.26" fill="#006fff"/>
<rect x="661.5" y="206.11" width="17.3" height="7.26" fill="#004eff"/>
<rect x="661.5" y="212.97" width="17.3" height="7.26" fill="#002dfe"/>
<rect x="661.5" y="219.84" width="17.3" height="7.26" fill="#000ff5"/>
<rect x="661.5" y="7.1" width="17.3" height="219.6" fill="none" stroke="#000" stroke-width="1"/>
<line x1="650.5" y1="7.1" x2="655.5" y2="7.1" stroke="#000" stroke-width="1"/>
<path d="M654.5,4.1 L661,7.1 L654.5,10.1Z" fill="#000"/>
<line x1="656.5" y1="13.75" x2="661.5" y2="13.75" stroke="#222" stroke-width="1"/>
<line x1="656.5" y1="20.41" x2="661.5" y2="20.41" stroke="#222" stroke-width="1"/>
<text x="648" y="9.96" font-size="9.6" font-weight="normal" text-anchor="end" fill="#111" font-family='"Liberation Sans", sans-serif' font-style="normal">168</text>
<line x1="651" y1="27.06" x2="661.5" y2="27.06" stroke="#222" stroke-width="1"/>
<line x1="656.5" y1="33.72" x2="661.5" y2="33.72" stroke="#222" stroke-width="1"/>
<line x1="656.5" y1="40.37" x2="661.5" y2="40.37" stroke="#222" stroke-width="1"/>
<text x="648" y="29.92" font-size="9.6" font-weight="normal" text-anchor="end" fill="#111" font-family='"Liberation Sans", sans-serif' font-style="normal">89.5</text>
<line x1="651" y1="47.03" x2="661.5" y2="47.03" stroke="#222" stroke-width="1"/>
<line x1="656.5" y1="53.68" x2="661.5" y2="53.68" stroke="#222" stroke-width="1"/>
<line x1="656.5" y1="60.34" x2="661.5" y2="60.34" stroke="#222" stroke-width="1"/>
<text x="648" y="49.88" font-size="9.6" font-weight="normal" text-anchor="end" fill="#111" font-family='"Liberation Sans", sans-serif' font-style="normal">47.7</text>
<line x1="651" y1="66.99" x2="661.5" y2="66.99" stroke="#222" stroke-width="1"/>
<line x1="656.5" y1="73.65" x2="661.5" y2="73.65" stroke="#222" stroke-width="1"/>
<line x1="656.5" y1="80.3" x2="661.5" y2="80.3" stroke="#222" stroke-width="1"/>
<text x="648" y="69.85" font-size="9.6" font-weight="normal" text-anchor="end" fill="#111" font-family='"Liberation Sans", sans-serif' font-style="normal">25.4</text>
<line x1="651" y1="86.95" x2="661.5" y2="86.95" stroke="#222" stroke-width="1"/>
<line x1="656.5" y1="93.61" x2="661.5" y2="93.61" stroke="#222" stroke-width="1"/>
<line x1="656.5" y1="100.26" x2="661.5" y2="100.26" stroke="#222" stroke-width="1"/>
<text x="648" y="89.81" font-size="9.6" font-weight="normal" text-anchor="end" fill="#111" font-family='"Liberation Sans", sans-serif' font-style="normal">13.5</text>
<line x1="651" y1="106.92" x2="661.5" y2="106.92" stroke="#222" stroke-width="1"/>
<line x1="656.5" y1="113.57" x2="661.5" y2="113.57" stroke="#222" stroke-width="1"/>
<line x1="656.5" y1="120.23" x2="661.5" y2="120.23" stroke="#222" stroke-width="1"/>
<text x="648" y="109.77" font-size="9.6" font-weight="normal" text-anchor="end" fill="#111" font-family='"Liberation Sans", sans-serif' font-style="normal">7.11</text>
<line x1="651" y1="126.88" x2="661.5" y2="126.88" stroke="#222" stroke-width="1"/>
<line x1="656.5" y1="133.54" x2="661.5" y2="133.54" stroke="#222" stroke-width="1"/>
<line x1="656.5" y1="140.19" x2="661.5" y2="140.19" stroke="#222" stroke-width="1"/>
<text x="648" y="129.74" font-size="9.6" font-weight="normal" text-anchor="end" fill="#111" font-family='"Liberation Sans", sans-serif' font-style="normal">3.72</text>
<line x1="651" y1="146.85" x2="661.5" y2="146.85" stroke="#222" stroke-width="1"/>
<line x1="656.5" y1="153.5" x2="661.5" y2="153.5" stroke="#222" stroke-width="1"/>
<line x1="656.5" y1="160.15" x2="661.5" y2="160.15" stroke="#222" stroke-width="1"/>
<text x="648" y="149.7" font-size="9.6" font-weight="normal" text-anchor="end" fill="#111" font-family='"Liberation Sans", sans-serif' font-style="normal">1.91</text>
<line x1="651" y1="166.81" x2="661.5" y2="166.81" stroke="#222" stroke-width="1"/>
<line x1="656.5" y1="173.46" x2="661.5" y2="173.46" stroke="#222" stroke-width="1"/>
<line x1="656.5" y1="180.12" x2="661.5" y2="180.12" stroke="#222" stroke-width="1"/>
<text x="648" y="169.67" font-size="9.6" font-weight="normal" text-anchor="end" fill="#111" font-family='"Liberation Sans", sans-serif' font-style="normal">0.938</text>
<line x1="651" y1="186.77" x2="661.5" y2="186.77" stroke="#222" stroke-width="1"/>
<line x1="656.5" y1="193.43" x2="661.5" y2="193.43" stroke="#222" stroke-width="1"/>
<line x1="656.5" y1="200.08" x2="661.5" y2="200.08" stroke="#222" stroke-width="1"/>
<text x="648" y="189.63" font-size="9.6" font-weight="normal" text-anchor="end" fill="#111" font-family='"Liberation Sans", sans-serif' font-style="normal">0.422</text>
<line x1="651" y1="206.74" x2="661.5" y2="206.74" stroke="#222" stroke-width="1"/>
<line x1="656.5" y1="213.39" x2="661.5" y2="213.39" stroke="#222" stroke-width="1"/>
<line x1="656.5" y1="220.05" x2="661.5" y2="220.05" stroke="#222" stroke-width="1"/>
<text x="648" y="209.59" font-size="9.6" font-weight="normal" text-anchor="end" fill="#111" font-family='"Liberation Sans", sans-serif' font-style="normal">0.147</text>
<line x1="650.5" y1="226.7" x2="655.5" y2="226.7" stroke="#000" stroke-width="1"/>
<path d="M653.5,226.7 L657,224.1 L660.5,226.7 L657,229.9Z" fill="#000"/>
<text x="648" y="229.56" font-size="9.6" font-weight="normal" text-anchor="end" fill="#111" font-family='"Liberation Sans", sans-serif' font-style="normal">3.41e-06</text>
<text x="675.19" y="112" font-size="16.5" font-weight="bold" text-anchor="middle" fill="#000" font-family='"Liberation Sans", sans-serif' font-style="normal" textLength="72.4" lengthAdjust="spacingAndGlyphs" transform="rotate(-90 675.19 112)">V/m (log)</text>
<defs><radialGradient id="pinkC" cx="0.55" cy="0.45" r="0.6"><stop offset="0" stop-color="#fdf7f7"/><stop offset="0.7" stop-color="#f8ecec"/><stop offset="1" stop-color="#f2e2e2"/></radialGradient><radialGradient id="grayC" cx="0.45" cy="0.4" r="0.62"><stop offset="0" stop-color="#eef2f2"/><stop offset="0.6" stop-color="#d8dfe0"/><stop offset="1" stop-color="#b9c4c6"/></radialGradient></defs>
<rect x="306.5" y="248.7" width="63" height="240" fill="#f9f9f9"/>
<ellipse cx="94.3" cy="365.8" rx="71.1" ry="73.3" fill="#d2f4f6" stroke="#333" stroke-width="1"/>
<ellipse cx="94.3" cy="366.0" rx="56.2" ry="57.9" fill="url(#grayC)" stroke="#333" stroke-width="1"/>
<ellipse cx="233.2" cy="366.5" rx="70.3" ry="73.5" fill="url(#pinkC)" stroke="#333" stroke-width="1"/>
<path d="M1.45,257.11L3.43,259.98L2.34,260.73L5.8,261.81L6.02,258.19L4.93,258.94L2.95,256.07Z" fill="#0a28a8"/>
<path d="M14.58,256.6L16.36,259.96L15.12,260.62L18.67,262.25L19.3,258.4L18.07,259.05L16.28,255.69Z" fill="#0a28a8"/>
<path d="M27.84,256.05L29.27,259.91L27.88,260.42L31.4,262.71L32.58,258.68L31.19,259.2L29.76,255.34Z" fill="#0a28a8"/>
<path d="M41.3,255.5L42.18,259.81L40.66,260.12L43.95,263.11L45.8,259.06L44.28,259.38L43.39,255.07Z" fill="#0a28a8"/>
<path d="M54.96,255.05L55.1,259.65L53.5,259.7L56.33,263.39L58.93,259.54L57.32,259.59L57.18,254.98Z" fill="#0a28a8"/>
<path d="M68.84,254.78L68.07,259.44L66.45,259.17L68.55,263.43L71.91,260.08L70.29,259.81L71.07,255.15Z" fill="#0a28a8"/>
<path d="M82.85,254.81L81.1,259.18L79.58,258.57L80.7,263.17L84.7,260.63L83.19,260.02L84.94,255.65Z" fill="#0a28a8"/>
<path d="M96.87,255.19L94.22,258.89L92.92,257.96L92.93,262.56L97.3,261.11L96,260.18L98.66,256.48Z" fill="#0a28a8"/>
<path d="M110.75,255.92L107.43,258.63L106.47,257.45L105.38,261.67L109.73,261.44L108.76,260.26L112.08,257.55Z" fill="#0a28a8"/>
<path d="M124.36,256.87L120.73,258.43L120.16,257.11L118.15,260.61L122.08,261.57L121.51,260.25L125.14,258.7Z" fill="#0a28a8"/>
<path d="M137.71,258.38L134.21,258.28L134.25,256.95L131.32,259.11L134.12,261.43L134.15,260.1L137.66,260.21Z" fill="#0a28a8"/>
<path d="M150.38,260.31L147.85,258.34L148.61,257.35L145.25,257.41L146.03,260.69L146.79,259.7L149.33,261.67Z" fill="#0a28a8"/>
<path d="M162.43,261.58L161.29,258.62L162.45,258.18L159.56,256.51L158.54,259.68L159.7,259.24L160.84,262.19Z" fill="#0a28a8"/>
<path d="M174.44,262.11L174.51,258.93L175.75,258.96L173.72,256.31L171.56,258.86L172.8,258.89L172.73,262.07Z" fill="#0a28a8"/>
<path d="M186.91,262.06L187.57,259.11L188.74,259.37L187.3,256.52L184.78,258.49L185.95,258.75L185.29,261.7Z" fill="#0a28a8"/>
<path d="M199.65,261.86L200.58,259.22L201.66,259.6L200.6,256.8L198.01,258.32L199.09,258.7L198.16,261.34Z" fill="#0a28a8"/>
<path d="M212.47,261.65L213.58,259.31L214.57,259.78L213.81,257.07L211.24,258.2L212.22,258.67L211.11,261Z" fill="#0a28a8"/>
<path d="M225.37,261.43L226.58,259.38L227.47,259.9L226.95,257.33L224.45,258.13L225.34,258.65L224.13,260.71Z" fill="#0a28a8"/>
<path d="M238.32,261.23L239.58,259.43L240.39,259.99L240.04,257.56L237.64,258.08L238.45,258.65L237.2,260.45Z" fill="#0a28a8"/>
<path d="M251.31,261.05L252.49,259.57L253.23,260.16L253.1,257.76L250.73,258.17L251.47,258.76L250.29,260.24Z" fill="#0a28a8"/>
<path d="M264.33,260.89L265.4,259.69L266.08,260.3L266.14,257.93L263.8,258.25L264.47,258.85L263.39,260.05Z" fill="#0a28a8"/>
<path d="M277.29,260.85L278.42,259.71L279.06,260.35L279.25,258L276.9,258.19L277.54,258.83L276.41,259.96Z" fill="#0a28a8"/>
<path d="M290.27,260.81L291.45,259.73L292.06,260.4L292.35,258.05L289.99,258.14L290.6,258.81L289.42,259.89Z" fill="#0a28a8"/>
<path d="M303.25,260.77L304.48,259.74L305.06,260.44L305.45,258.11L303.09,258.09L303.67,258.79L302.45,259.82Z" fill="#0a28a8"/>
<path d="M0.94,270.71L3.48,273.69L2.39,274.62L6.31,275.49L6.07,271.48L4.98,272.41L2.44,269.43Z" fill="#0a28a8"/>
<path d="M13.97,270.08L16.39,273.7L15.1,274.56L19.25,276.07L19.43,271.66L18.15,272.52L15.74,268.9Z" fill="#0a28a8"/>
<path d="M27.17,269.36L29.26,273.67L27.77,274.39L32,276.7L32.81,271.95L31.32,272.67L29.22,268.36Z" fill="#0a28a8"/>
<path d="M40.62,268.59L42.12,273.59L40.43,274.09L44.52,277.32L46.14,272.38L44.45,272.88L42.95,267.89Z" fill="#0a28a8"/>
<path d="M54.39,267.88L54.98,273.42L53.14,273.62L56.74,277.82L59.37,272.95L57.53,273.15L56.93,267.6Z" fill="#0a28a8"/>
<path d="M68.5,267.4L67.88,273.16L65.98,272.96L68.68,278.01L72.4,273.65L70.5,273.44L71.13,267.69Z" fill="#0a28a8"/>
<path d="M82.88,267.37L80.88,272.82L79.08,272.16L80.48,277.74L85.16,274.39L83.36,273.73L85.36,268.28Z" fill="#0a28a8"/>
<path d="M97.29,267.89L94.01,272.44L92.5,271.35L92.36,276.91L97.6,275.04L96.09,273.95L99.38,269.4Z" fill="#0a28a8"/>
<path d="M111.47,268.96L107.29,272.09L106.23,270.68L104.6,275.62L109.81,275.45L108.75,274.04L112.93,270.91Z" fill="#0a28a8"/>
<path d="M125.18,270.37L120.69,271.84L120.18,270.28L117.37,274.12L121.91,275.54L121.39,273.99L125.88,272.51Z" fill="#0a28a8"/>
<path d="M138.38,272.4L134.3,271.71L134.55,270.24L130.79,272.15L133.71,275.2L133.96,273.73L138.04,274.42Z" fill="#0a28a8"/>
<path d="M150.6,274.67L148.03,271.87L149.06,270.92L145.21,270.24L145.57,274.13L146.6,273.18L149.18,275.98Z" fill="#0a28a8"/>
<path d="M162.26,275.9L161.46,272.24L162.81,271.95L159.88,269.46L158.24,272.95L159.59,272.65L160.39,276.3Z" fill="#0a28a8"/>
<path d="M174.07,276.23L174.64,272.6L175.99,272.81L174.17,269.47L171.41,272.09L172.77,272.3L172.2,275.94Z" fill="#0a28a8"/>
<path d="M186.5,276.03L187.66,272.79L188.89,273.23L187.75,269.83L184.72,271.74L185.96,272.18L184.8,275.42Z" fill="#0a28a8"/>
<path d="M199.25,275.72L200.64,272.9L201.74,273.45L201.01,270.22L198.01,271.6L199.11,272.15L197.72,274.96Z" fill="#0a28a8"/>
<path d="M212.11,275.41L213.62,272.98L214.6,273.59L214.17,270.57L211.27,271.52L212.26,272.14L210.75,274.57Z" fill="#0a28a8"/>
<path d="M225.04,275.13L226.6,273.04L227.48,273.69L227.26,270.88L224.51,271.49L225.39,272.14L223.83,274.23Z" fill="#0a28a8"/>
<path d="M238.03,274.89L239.58,273.08L240.37,273.76L240.31,271.14L237.71,271.47L238.5,272.15L236.95,273.95Z" fill="#0a28a8"/>
<path d="M251.06,274.67L252.56,273.13L253.27,273.81L253.33,271.36L250.88,271.49L251.59,272.18L250.08,273.72Z" fill="#0a28a8"/>
<path d="M264.1,274.49L265.45,273.25L266.09,273.94L266.33,271.55L263.94,271.6L264.57,272.29L263.23,273.53Z" fill="#0a28a8"/>
<path d="M277.15,274.35L278.37,273.32L278.96,274.02L279.35,271.69L276.99,271.67L277.57,272.37L276.35,273.39Z" fill="#0a28a8"/>
<path d="M290.13,274.31L291.4,273.34L291.95,274.06L292.45,271.74L290.09,271.63L290.64,272.35L289.37,273.32Z" fill="#0a28a8"/>
<path d="M303.13,274.27L304.43,273.35L304.96,274.09L305.54,271.8L303.18,271.59L303.71,272.33L302.4,273.26Z" fill="#0a28a8"/>
<path d="M0.34,284.44L3.57,287.42L2.51,288.56L6.93,289.07L6.07,284.7L5.02,285.84L1.79,282.86Z" fill="#0a28a8"/>
<path d="M13.21,283.69L16.45,287.47L15.16,288.58L19.99,289.8L19.53,284.83L18.24,285.94L15,282.16Z" fill="#0a28a8"/>
<path d="M26.26,282.75L29.29,287.48L27.72,288.49L32.85,290.67L33.04,285.09L31.46,286.1L28.43,281.36Z" fill="#0a28a8"/>
<path d="M39.62,281.65L42.08,287.44L40.2,288.23L45.39,291.62L46.54,285.54L44.67,286.34L42.21,280.55Z" fill="#0a28a8"/>
<path d="M53.47,280.54L54.86,287.27L52.73,287.71L57.46,292.48L59.93,286.23L57.8,286.67L56.41,279.94Z" fill="#0a28a8"/>
<path d="M67.96,280.06L67.73,286.93L65.56,286.86L69.04,292.61L72.9,287.11L70.73,287.04L70.96,280.16Z" fill="#0a28a8"/>
<path d="M82.79,279.95L80.68,286.5L78.61,285.83L80.39,292.31L85.61,288.08L83.54,287.41L85.64,280.87Z" fill="#0a28a8"/>
<path d="M97.82,280.43L93.77,285.98L92.01,284.7L91.67,291.41L97.95,289.03L96.19,287.75L100.24,282.19Z" fill="#0a28a8"/>
<path d="M112.56,281.88L107.11,285.48L105.95,283.72L103.44,289.63L109.86,289.65L108.7,287.9L114.16,284.3Z" fill="#0a28a8"/>
<path d="M126.34,284.03L120.67,285.17L120.3,283.3L116.3,287.4L121.57,289.63L121.19,287.75L126.86,286.61Z" fill="#0a28a8"/>
<path d="M139.17,286.81L134.48,285.1L135.06,283.5L130.24,284.8L133.09,288.91L133.67,287.31L138.36,289.02Z" fill="#0a28a8"/>
<path d="M150.65,289.37L148.28,285.43L149.66,284.6L145.4,282.78L145.01,287.4L146.39,286.57L148.76,290.51Z" fill="#0a28a8"/>
<path d="M161.85,290.37L161.67,285.91L163.23,285.85L160.44,282.31L157.93,286.06L159.5,286L159.68,290.46Z" fill="#0a28a8"/>
<path d="M173.49,290.4L174.77,286.3L176.23,286.76L174.82,282.64L171.3,285.22L172.76,285.67L171.48,289.77Z" fill="#0a28a8"/>
<path d="M185.93,289.98L187.74,286.5L189.01,287.16L188.35,283.2L184.72,284.92L185.99,285.59L184.18,289.07Z" fill="#0a28a8"/>
<path d="M198.73,289.53L200.69,286.6L201.79,287.34L201.53,283.7L198.06,284.85L199.17,285.58L197.21,288.51Z" fill="#0a28a8"/>
<path d="M211.66,289.13L213.64,286.67L214.6,287.45L214.6,284.13L211.36,284.82L212.32,285.6L210.33,288.06Z" fill="#0a28a8"/>
<path d="M224.66,288.79L226.61,286.72L227.45,287.51L227.62,284.48L224.61,284.83L225.45,285.63L223.5,287.69Z" fill="#0a28a8"/>
<path d="M237.7,288.5L239.58,286.75L240.32,287.54L240.61,284.77L237.82,284.86L238.56,285.65L236.68,287.4Z" fill="#0a28a8"/>
<path d="M250.78,288.25L252.56,286.77L253.22,287.55L253.57,285.01L251.01,284.9L251.66,285.68L249.88,287.17Z" fill="#0a28a8"/>
<path d="M263.87,288.05L265.5,286.82L266.08,287.59L266.53,285.2L264.11,284.98L264.7,285.75L263.06,286.98Z" fill="#0a28a8"/>
<path d="M276.97,287.88L278.37,286.91L278.9,287.67L279.5,285.36L277.13,285.1L277.65,285.86L276.24,286.83Z" fill="#0a28a8"/>
<path d="M290,287.8L291.35,286.94L291.84,287.71L292.53,285.45L290.19,285.12L290.68,285.89L289.33,286.75Z" fill="#0a28a8"/>
<path d="M303,287.76L304.38,286.95L304.84,287.73L305.61,285.5L303.29,285.09L303.75,285.87L302.37,286.69Z" fill="#0a28a8"/>
<path d="M-0.32,298.34L3.7,301.15L2.74,302.53L7.65,302.49L5.99,297.86L5.03,299.24L1.01,296.44Z" fill="#0a28a8"/>
<path d="M12.31,297.5L16.58,301.26L15.33,302.67L20.93,303.36L19.54,297.89L18.3,299.31L14.03,295.54Z" fill="#0a28a8"/>
<path d="M25.06,296.33L29.38,301.35L27.77,302.74L34.02,304.5L33.21,298.06L31.6,299.44L27.29,294.42Z" fill="#0a28a8"/>
<path d="M38.65,295.35L42.18,301.25L40.32,302.36L46.36,305.3L46.62,298.59L44.76,299.71L41.23,293.81Z" fill="#0a28a8"/>
<path d="M52.77,294.5L54.98,301.01L52.92,301.71L58.21,305.86L59.88,299.35L57.82,300.05L55.61,293.54Z" fill="#0a28a8"/>
<path d="M72.29,297.41L69.77,298.39L69.1,296.67L65.76,301.31L71.36,302.44L70.68,300.72L73.2,299.73Z" fill="#0a28a8"/>
<path d="M86.23,297.93L82.63,298.61L82.29,296.79L78.14,300.72L83.43,302.88L83.09,301.06L86.69,300.39Z" fill="#0a28a8"/>
<path d="M100.03,298.77L95.51,298.69L95.54,296.84L90.69,299.86L95.44,303.04L95.47,301.19L99.99,301.27Z" fill="#0a28a8"/>
<path d="M113.53,299.79L108.49,298.68L108.89,296.87L103.54,298.87L107.56,302.93L107.96,301.12L112.99,302.23Z" fill="#0a28a8"/>
<path d="M126.69,300.81L121.6,298.65L122.32,296.94L116.69,297.92L119.9,302.65L120.62,300.95L125.72,303.11Z" fill="#0a28a8"/>
<path d="M139.93,301.92L134.81,298.48L135.93,296.81L129.84,296.81L132.14,302.45L133.26,300.78L138.39,304.22Z" fill="#0a28a8"/>
<path d="M150.32,304.48L148.63,299.06L150.43,298.5L146.01,295.02L144.36,300.4L146.16,299.83L147.85,305.25Z" fill="#0a28a8"/>
<path d="M161.06,304.96L161.91,299.65L163.69,299.94L161.37,295.11L157.66,298.98L159.45,299.26L158.6,304.57Z" fill="#0a28a8"/>
<path d="M172.64,304.53L174.91,300.07L176.43,300.84L175.71,295.88L171.28,298.22L172.8,299L170.54,303.46Z" fill="#0a28a8"/>
<path d="M185.18,303.85L187.81,300.25L189.08,301.18L189.1,296.67L184.8,298.04L186.07,298.97L183.43,302.57Z" fill="#0a28a8"/>
<path d="M198.1,303.25L200.72,300.33L201.79,301.29L202.13,297.29L198.19,298.06L199.25,299.02L196.63,301.93Z" fill="#0a28a8"/>
<path d="M211.14,302.76L213.65,300.38L214.55,301.34L215.09,297.78L211.5,298.11L212.41,299.07L209.89,301.44Z" fill="#0a28a8"/>
<path d="M224.23,302.36L226.6,300.41L227.37,301.34L228,298.16L224.76,298.18L225.53,299.12L223.16,301.07Z" fill="#0a28a8"/>
<path d="M237.35,302.04L239.56,300.42L240.23,301.33L240.91,298.46L237.97,298.25L238.64,299.16L236.43,300.79Z" fill="#0a28a8"/>
<path d="M250.48,301.79L252.54,300.43L253.12,301.31L253.82,298.7L251.15,298.32L251.73,299.21L249.68,300.57Z" fill="#0a28a8"/>
<path d="M263.62,301.57L265.53,300.42L266.04,301.28L266.73,298.89L264.3,298.39L264.82,299.25L262.91,300.4Z" fill="#0a28a8"/>
<path d="M276.76,301.4L278.4,300.49L278.86,301.32L279.66,299.05L277.31,298.53L277.77,299.35L276.13,300.26Z" fill="#0a28a8"/>
<path d="M289.87,301.27L291.3,300.54L291.71,301.35L292.61,299.16L290.31,298.62L290.73,299.43L289.3,300.16Z" fill="#0a28a8"/>
<path d="M302.89,301.24L304.33,300.55L304.72,301.36L305.68,299.21L303.4,298.6L303.79,299.42L302.35,300.11Z" fill="#0a28a8"/>
<path d="M-0.96,312.49L3.89,314.86L3.1,316.49L8.42,315.67L5.78,310.98L4.99,312.61L0.13,310.25Z" fill="#0a28a8"/>
<path d="M11.32,311.64L16.79,315.05L15.69,316.81L22.03,316.62L19.41,310.85L18.31,312.61L12.83,309.2Z" fill="#0a28a8"/>
<path d="M24.32,310.71L29.63,315.08L28.25,316.75L34.93,317.49L32.92,311.08L31.54,312.76L26.23,308.39Z" fill="#0a28a8"/>
<path d="M37.93,309.77L42.42,314.97L40.78,316.4L47.24,318.25L46.34,311.59L44.69,313.01L40.2,307.81Z" fill="#0a28a8"/>
<circle cx="56.2" cy="313.52" r="1.5" fill="#0a28a8"/>
<path d="M71.84,310.84L69.85,311.83L69.03,310.17L66.1,315.08L71.78,315.73L70.96,314.07L72.95,313.09Z" fill="#0a28a8"/>
<path d="M87.93,315.63L83.4,312.34L84.81,310.4L77.61,310.11L80.11,316.87L81.52,314.93L86.05,318.22Z" fill="#0a28a8"/>
<path d="M100.98,315.63L96.45,312.34L97.86,310.4L90.66,310.11L93.16,316.87L94.57,314.93L99.1,318.22Z" fill="#0a28a8"/>
<path d="M114.03,315.63L109.5,312.34L110.91,310.4L103.71,310.11L106.21,316.87L107.62,314.93L112.15,318.22Z" fill="#0a28a8"/>
<path d="M126.64,314.88L121.67,312.22L122.54,310.59L116.85,311.06L119.62,316.05L120.49,314.42L125.46,317.09Z" fill="#0a28a8"/>
<path d="M139.39,315.8L134.93,312.26L136.08,310.81L130.39,310.26L132.22,315.67L133.37,314.22L137.84,317.76Z" fill="#0a28a8"/>
<path d="M149.19,319.73L149.04,312.86L151.21,312.81L147.41,307.27L143.86,312.98L146.04,312.93L146.19,319.8Z" fill="#0a28a8"/>
<path d="M159.74,319.54L162.16,313.51L164.1,314.29L162.8,308.03L157.54,311.65L159.48,312.43L157.06,318.47Z" fill="#0a28a8"/>
<path d="M171.47,318.51L175.02,313.91L176.54,315.08L176.88,309.34L171.41,311.12L172.93,312.29L169.38,316.9Z" fill="#0a28a8"/>
<path d="M184.24,317.55L187.85,314.05L189.04,315.28L189.98,310.34L185.01,311.12L186.2,312.35L182.6,315.85Z" fill="#0a28a8"/>
<path d="M197.37,316.83L200.72,314.09L201.69,315.28L202.8,311.03L198.41,311.26L199.39,312.45L196.03,315.18Z" fill="#0a28a8"/>
<path d="M210.56,316.27L213.63,314.11L214.43,315.24L215.59,311.55L211.72,311.4L212.53,312.54L209.46,314.71Z" fill="#0a28a8"/>
<path d="M223.78,315.85L226.57,314.1L227.24,315.18L228.39,311.93L224.97,311.54L225.64,312.62L222.85,314.36Z" fill="#0a28a8"/>
<path d="M236.99,315.52L239.53,314.1L240.1,315.12L241.21,312.23L238.16,311.66L238.74,312.68L236.2,314.11Z" fill="#0a28a8"/>
<path d="M250.19,315.26L252.5,314.08L253,315.06L254.05,312.45L251.32,311.77L251.82,312.74L249.51,313.92Z" fill="#0a28a8"/>
<path d="M263.38,315.05L265.49,314.07L265.92,315L266.92,312.63L264.46,311.86L264.89,312.79L262.78,313.77Z" fill="#0a28a8"/>
<path d="M276.56,314.89L278.41,314.09L278.8,314.97L279.8,312.76L277.51,311.98L277.89,312.86L276.03,313.66Z" fill="#0a28a8"/>
<path d="M289.72,314.75L291.27,314.13L291.61,314.98L292.71,312.88L290.46,312.11L290.8,312.96L289.25,313.58Z" fill="#0a28a8"/>
<path d="M302.78,314.7L304.27,314.14L304.59,314.99L305.74,312.93L303.52,312.12L303.84,312.97L302.34,313.53Z" fill="#0a28a8"/>
<path d="M-1.48,326.93L4.15,328.52L3.63,330.38L9.12,328.55L5.4,324.11L4.87,325.97L-0.76,324.37Z" fill="#0a28a8"/>
<path d="M10.68,326.28L17.1,328.72L16.33,330.76L22.89,329.32L18.94,323.89L18.17,325.92L11.74,323.48Z" fill="#0a28a8"/>
<path d="M23.86,325.55L29.96,328.72L28.96,330.65L35.65,329.98L32.35,324.13L31.35,326.06L25.25,322.89Z" fill="#0a28a8"/>
<circle cx="43.15" cy="327.1" r="1.5" fill="#0a28a8"/>
<path d="M61.83,329.21L57.3,325.92L58.71,323.98L51.51,323.69L54.01,330.45L55.42,328.51L59.95,331.8Z" fill="#0a28a8"/>
<path d="M74.88,329.21L70.35,325.92L71.76,323.98L64.56,323.69L67.06,330.45L68.47,328.51L73,331.8Z" fill="#0a28a8"/>
<path d="M87.93,329.21L83.4,325.92L84.81,323.98L77.61,323.69L80.11,330.45L81.52,328.51L86.05,331.8Z" fill="#0a28a8"/>
<path d="M100.98,329.21L96.45,325.92L97.86,323.98L90.66,323.69L93.16,330.45L94.57,328.51L99.1,331.8Z" fill="#0a28a8"/>
<path d="M114.03,329.21L109.5,325.92L110.91,323.98L103.71,323.69L106.21,330.45L107.62,328.51L112.15,331.8Z" fill="#0a28a8"/>
<path d="M127.08,329.21L122.55,325.92L123.96,323.98L116.76,323.69L119.26,330.45L120.67,328.51L125.2,331.8Z" fill="#0a28a8"/>
<path d="M140.13,329.21L135.6,325.92L137.01,323.98L129.81,323.69L132.31,330.45L133.72,328.51L138.25,331.8Z" fill="#0a28a8"/>
<path d="M151.5,330.53L148.41,326.15L149.92,325.09L144.63,322.95L144.86,328.66L146.37,327.59L149.45,331.97Z" fill="#0a28a8"/>
<path d="M158.12,333.03L162.18,327.48L163.93,328.77L164.29,322.06L158,324.42L159.76,325.71L155.7,331.26Z" fill="#0a28a8"/>
<path d="M170,332.15L175.06,327.83L176.45,329.45L178.25,323.17L171.77,323.97L173.16,325.59L168.09,329.91Z" fill="#0a28a8"/>
<path d="M183.18,330.97L187.83,327.89L188.86,329.43L190.92,324.29L185.39,324.21L186.41,325.75L181.77,328.84Z" fill="#0a28a8"/>
<path d="M196.59,330.2L200.68,327.87L201.49,329.28L203.47,324.98L198.76,324.49L199.56,325.91L195.48,328.24Z" fill="#0a28a8"/>
<path d="M209.98,329.64L213.58,327.84L214.23,329.14L216.07,325.46L212.02,324.73L212.68,326.04L209.08,327.84Z" fill="#0a28a8"/>
<path d="M223.33,329.22L226.51,327.8L227.05,329.01L228.75,325.81L225.23,324.93L225.77,326.14L222.58,327.56Z" fill="#0a28a8"/>
<path d="M236.64,328.91L239.47,327.77L239.92,328.89L241.48,326.06L238.39,325.1L238.85,326.22L236.01,327.36Z" fill="#0a28a8"/>
<path d="M249.91,328.67L252.45,327.74L252.83,328.79L254.26,326.25L251.53,325.24L251.91,326.29L249.38,327.22Z" fill="#0a28a8"/>
<path d="M263.15,328.48L265.44,327.71L265.77,328.7L267.08,326.4L264.64,325.36L264.98,326.35L262.69,327.12Z" fill="#0a28a8"/>
<path d="M276.37,328.34L278.41,327.7L278.71,328.63L279.93,326.51L277.72,325.46L278.01,326.4L275.97,327.04Z" fill="#0a28a8"/>
<path d="M289.57,328.21L291.26,327.72L291.52,328.61L292.81,326.6L290.64,325.6L290.9,326.49L289.21,326.98Z" fill="#0a28a8"/>
<path d="M302.67,328.15L304.22,327.73L304.46,328.6L305.79,326.65L303.65,325.65L303.89,326.52L302.35,326.94Z" fill="#0a28a8"/>
<path d="M-1.7,341.64L4.46,342.1L4.31,344.11L9.6,341.1L4.81,337.34L4.66,339.34L-1.49,338.88Z" fill="#0a28a8"/>
<path d="M10.65,341.29L17.46,342.25L17.16,344.41L23.24,341.55L18.18,337.13L17.88,339.28L11.07,338.32Z" fill="#0a28a8"/>
<circle cx="30.1" cy="340.68" r="1.5" fill="#0a28a8"/>
<circle cx="43.15" cy="340.68" r="1.5" fill="#0a28a8"/>
<path d="M61.83,342.79L57.3,339.5L58.71,337.56L51.51,337.27L54.01,344.03L55.42,342.09L59.95,345.38Z" fill="#0a28a8"/>
<path d="M74.88,342.79L70.35,339.5L71.76,337.56L64.56,337.27L67.06,344.03L68.47,342.09L73,345.38Z" fill="#0a28a8"/>
<path d="M87.93,342.79L83.4,339.5L84.81,337.56L77.61,337.27L80.11,344.03L81.52,342.09L86.05,345.38Z" fill="#0a28a8"/>
<path d="M100.98,342.79L96.45,339.5L97.86,337.56L90.66,337.27L93.16,344.03L94.57,342.09L99.1,345.38Z" fill="#0a28a8"/>
<path d="M114.03,342.79L109.5,339.5L110.91,337.56L103.71,337.27L106.21,344.03L107.62,342.09L112.15,345.38Z" fill="#0a28a8"/>
<path d="M127.08,342.79L122.55,339.5L123.96,337.56L116.76,337.27L119.26,344.03L120.67,342.09L125.2,345.38Z" fill="#0a28a8"/>
<path d="M140.13,342.79L135.6,339.5L137.01,337.56L129.81,337.27L132.31,344.03L133.72,342.09L138.25,345.38Z" fill="#0a28a8"/>
<path d="M150.7,344.55L148.67,340.13L150.36,339.36L145.54,336.29L144.72,341.94L146.4,341.17L148.42,345.59Z" fill="#0a28a8"/>
<path d="M163.39,344.66L161.81,340.34L163.54,339.7L158.98,336.27L157.72,341.84L159.46,341.21L161.05,345.52Z" fill="#0a28a8"/>
<path d="M168.8,344.9L174.9,341.72L175.9,343.65L179.19,337.79L172.51,337.13L173.51,339.06L167.41,342.23Z" fill="#0a28a8"/>
<path d="M182.13,344.03L187.73,341.73L188.48,343.56L191.79,338.59L185.94,337.38L186.69,339.21L181.09,341.5Z" fill="#0a28a8"/>
<path d="M195.85,343.32L200.58,341.64L201.15,343.25L204.05,339.15L199.21,337.8L199.78,339.41L195.06,341.1Z" fill="#0a28a8"/>
<path d="M209.44,342.83L213.48,341.56L213.94,343L216.47,339.52L212.4,338.13L212.85,339.57L208.81,340.84Z" fill="#0a28a8"/>
<path d="M222.92,342.48L226.42,341.49L226.79,342.8L229.03,339.78L225.54,338.38L225.91,339.69L222.41,340.68Z" fill="#0a28a8"/>
<path d="M236.32,342.22L239.39,341.44L239.7,342.64L241.69,339.97L238.66,338.58L238.97,339.78L235.9,340.57Z" fill="#0a28a8"/>
<path d="M249.66,342.02L252.38,341.39L252.64,342.5L254.42,340.1L251.76,338.75L252.02,339.86L249.31,340.49Z" fill="#0a28a8"/>
<path d="M262.96,341.87L265.37,341.35L265.6,342.38L267.2,340.2L264.84,338.88L265.07,339.92L262.65,340.44Z" fill="#0a28a8"/>
<path d="M276.21,341.75L278.38,341.31L278.58,342.29L280.03,340.28L277.92,338.99L278.11,339.97L275.94,340.4Z" fill="#0a28a8"/>
<path d="M289.43,341.65L291.24,341.31L291.41,342.24L292.89,340.35L290.83,339.12L291,340.04L289.19,340.38Z" fill="#0a28a8"/>
<path d="M302.58,341.59L304.16,341.31L304.32,342.21L305.82,340.39L303.79,339.19L303.94,340.08L302.37,340.36Z" fill="#0a28a8"/>
<path d="M-1.45,356.48L4.77,355.57L5.07,357.58L9.66,353.43L4.06,350.77L4.36,352.79L-1.86,353.7Z" fill="#0a28a8"/>
<path d="M11.01,356.46L17.84,355.68L18.09,357.84L23.26,353.55L17.26,350.54L17.5,352.7L10.67,353.48Z" fill="#0a28a8"/>
<path d="M30.74,357.85L31.1,355.82L32.92,356.14L30.69,350.88L26.81,355.08L28.63,355.39L28.28,357.42Z" fill="#0a28a8"/>
<path d="M48.78,356.37L44.25,353.08L45.66,351.14L38.46,350.85L40.96,357.61L42.37,355.67L46.9,358.96Z" fill="#0a28a8"/>
<path d="M61.83,356.37L57.3,353.08L58.71,351.14L51.51,350.85L54.01,357.61L55.42,355.67L59.95,358.96Z" fill="#0a28a8"/>
<path d="M74.88,356.37L70.35,353.08L71.76,351.14L64.56,350.85L67.06,357.61L68.47,355.67L73,358.96Z" fill="#0a28a8"/>
<path d="M87.93,356.37L83.4,353.08L84.81,351.14L77.61,350.85L80.11,357.61L81.52,355.67L86.05,358.96Z" fill="#0a28a8"/>
<path d="M100.98,356.37L96.45,353.08L97.86,351.14L90.66,350.85L93.16,357.61L94.57,355.67L99.1,358.96Z" fill="#0a28a8"/>
<path d="M114.03,356.37L109.5,353.08L110.91,351.14L103.71,350.85L106.21,357.61L107.62,355.67L112.15,358.96Z" fill="#0a28a8"/>
<path d="M127.08,356.37L122.55,353.08L123.96,351.14L116.76,350.85L119.26,357.61L120.67,355.67L125.2,358.96Z" fill="#0a28a8"/>
<path d="M140.13,356.37L135.6,353.08L137.01,351.14L129.81,350.85L132.31,357.61L133.72,355.67L138.25,358.96Z" fill="#0a28a8"/>
<path d="M153.18,356.37L148.65,353.08L150.06,351.14L142.86,350.85L145.36,357.61L146.77,355.67L151.3,358.96Z" fill="#0a28a8"/>
<path d="M162.55,358.31L161.91,354.52L163.74,354.22L159.88,350L157.62,355.25L159.45,354.94L160.09,358.73Z" fill="#0a28a8"/>
<path d="M167.93,357.19L174.61,355.57L175.13,357.68L179.72,352.78L173.39,350.54L173.9,352.65L167.22,354.28Z" fill="#0a28a8"/>
<path d="M181.27,356.7L187.52,355.55L187.9,357.58L192.39,353.22L186.64,350.74L187.01,352.76L180.75,353.91Z" fill="#0a28a8"/>
<path d="M195.26,356.21L200.41,355.39L200.69,357.13L204.43,353.51L199.75,351.24L200.03,352.98L194.88,353.81Z" fill="#0a28a8"/>
<path d="M209.02,355.88L213.34,355.26L213.56,356.79L216.73,353.7L212.83,351.62L213.04,353.15L208.71,353.76Z" fill="#0a28a8"/>
<path d="M222.61,355.64L226.31,355.16L226.48,356.54L229.22,353.83L225.89,351.9L226.07,353.27L222.36,353.74Z" fill="#0a28a8"/>
<path d="M236.08,355.46L239.29,355.09L239.44,356.33L241.82,353.92L238.95,352.12L239.09,353.37L235.88,353.74Z" fill="#0a28a8"/>
<path d="M249.47,355.32L252.29,355.02L252.41,356.17L254.51,353.99L252,352.29L252.12,353.44L249.3,353.74Z" fill="#0a28a8"/>
<path d="M262.8,355.22L265.3,354.97L265.4,356.04L267.27,354.04L265.05,352.44L265.15,353.5L262.65,353.75Z" fill="#0a28a8"/>
<path d="M276.08,355.13L278.32,354.93L278.41,355.93L280.08,354.07L278.1,352.55L278.19,353.55L275.95,353.76Z" fill="#0a28a8"/>
<path d="M289.32,355.07L291.19,354.91L291.27,355.85L292.93,354.1L291,352.67L291.08,353.61L289.21,353.77Z" fill="#0a28a8"/>
<path d="M302.51,355.02L304.1,354.89L304.17,355.79L305.84,354.12L303.93,352.74L304,353.64L302.41,353.77Z" fill="#0a28a8"/>
<path d="M-0.67,371.22L5.04,368.91L5.79,370.77L9.18,365.74L3.25,364.49L4,366.35L-1.7,368.66Z" fill="#0a28a8"/>
<path d="M11.85,371.61L18.2,368.99L19.03,371L22.83,365.45L16.23,364.2L17.06,366.22L10.7,368.84Z" fill="#0a28a8"/>
<path d="M31.47,371.79L31.37,368.61L33.22,368.55L29.98,363.85L27.03,368.74L28.88,368.69L28.97,371.87Z" fill="#0a28a8"/>
<path d="M48.78,369.95L44.25,366.66L45.66,364.72L38.46,364.43L40.96,371.19L42.37,369.25L46.9,372.54Z" fill="#0a28a8"/>
<path d="M61.83,369.95L57.3,366.66L58.71,364.72L51.51,364.43L54.01,371.19L55.42,369.25L59.95,372.54Z" fill="#0a28a8"/>
<path d="M74.88,369.95L70.35,366.66L71.76,364.72L64.56,364.43L67.06,371.19L68.47,369.25L73,372.54Z" fill="#0a28a8"/>
<path d="M87.93,369.95L83.4,366.66L84.81,364.72L77.61,364.43L80.11,371.19L81.52,369.25L86.05,372.54Z" fill="#0a28a8"/>
<path d="M100.98,369.95L96.45,366.66L97.86,364.72L90.66,364.43L93.16,371.19L94.57,369.25L99.1,372.54Z" fill="#0a28a8"/>
<path d="M114.03,369.95L109.5,366.66L110.91,364.72L103.71,364.43L106.21,371.19L107.62,369.25L112.15,372.54Z" fill="#0a28a8"/>
<path d="M127.08,369.95L122.55,366.66L123.96,364.72L116.76,364.43L119.26,371.19L120.67,369.25L125.2,372.54Z" fill="#0a28a8"/>
<path d="M140.13,369.95L135.6,366.66L137.01,364.72L129.81,364.43L132.31,371.19L133.72,369.25L138.25,372.54Z" fill="#0a28a8"/>
<path d="M153.18,369.95L148.65,366.66L150.06,364.72L142.86,364.43L145.36,371.19L146.77,369.25L151.3,372.54Z" fill="#0a28a8"/>
<path d="M161.74,371.71L161.82,368.85L163.67,368.9L160.71,364.01L157.47,368.72L159.32,368.77L159.24,371.63Z" fill="#0a28a8"/>
<path d="M167.39,369.28L174.26,369.35L174.24,371.52L179.9,367.9L174.31,364.17L174.29,366.35L167.42,366.28Z" fill="#0a28a8"/>
<path d="M180.79,369.09L187.24,369.29L187.17,371.37L192.56,368.03L187.4,364.35L187.33,366.43L180.89,366.22Z" fill="#0a28a8"/>
<path d="M194.93,368.93L200.19,369.08L200.14,370.86L204.54,367.97L200.31,364.85L200.26,366.63L195,366.48Z" fill="#0a28a8"/>
<path d="M208.77,368.81L213.17,368.92L213.13,370.48L216.81,367.94L213.27,365.22L213.23,366.78L208.82,366.67Z" fill="#0a28a8"/>
<path d="M222.41,368.72L226.17,368.81L226.14,370.2L229.26,367.92L226.24,365.5L226.21,366.89L222.46,366.8Z" fill="#0a28a8"/>
<path d="M235.93,368.65L239.18,368.72L239.15,369.97L241.85,367.9L239.24,365.72L239.21,366.98L235.96,366.91Z" fill="#0a28a8"/>
<path d="M249.35,368.59L252.19,368.64L252.17,369.8L254.54,367.89L252.25,365.89L252.22,367.05L249.38,366.99Z" fill="#0a28a8"/>
<path d="M262.69,368.54L265.22,368.58L265.2,369.66L267.29,367.88L265.26,366.03L265.24,367.1L262.72,367.06Z" fill="#0a28a8"/>
<path d="M275.99,368.5L278.24,368.54L278.23,369.54L280.1,367.87L278.28,366.15L278.27,367.15L276.01,367.11Z" fill="#0a28a8"/>
<path d="M289.25,368.47L291.13,368.49L291.12,369.44L292.94,367.87L291.17,366.24L291.15,367.19L289.27,367.16Z" fill="#0a28a8"/>
<path d="M302.44,368.44L304.04,368.46L304.03,369.37L305.85,367.86L304.07,366.31L304.06,367.21L302.46,367.19Z" fill="#0a28a8"/>
<path d="M0.56,385.61L5.21,382.17L6.34,383.7L8.23,378.29L2.5,378.51L3.64,380.05L-1.01,383.49Z" fill="#0a28a8"/>
<path d="M13.17,386.54L18.48,382.18L19.86,383.86L21.88,377.45L15.2,378.18L16.58,379.86L11.27,384.23Z" fill="#0a28a8"/>
<path d="M32.34,385.48L31.39,381.46L33.19,381.04L29.07,377.08L27.16,382.46L28.96,382.03L29.91,386.05Z" fill="#0a28a8"/>
<path d="M48.78,383.53L44.25,380.24L45.66,378.3L38.46,378.01L40.96,384.77L42.37,382.83L46.9,386.12Z" fill="#0a28a8"/>
<path d="M61.83,383.53L57.3,380.24L58.71,378.3L51.51,378.01L54.01,384.77L55.42,382.83L59.95,386.12Z" fill="#0a28a8"/>
<path d="M74.88,383.53L70.35,380.24L71.76,378.3L64.56,378.01L67.06,384.77L68.47,382.83L73,386.12Z" fill="#0a28a8"/>
<path d="M87.93,383.53L83.4,380.24L84.81,378.3L77.61,378.01L80.11,384.77L81.52,382.83L86.05,386.12Z" fill="#0a28a8"/>
<path d="M100.98,383.53L96.45,380.24L97.86,378.3L90.66,378.01L93.16,384.77L94.57,382.83L99.1,386.12Z" fill="#0a28a8"/>
<path d="M114.03,383.53L109.5,380.24L110.91,378.3L103.71,378.01L106.21,384.77L107.62,382.83L112.15,386.12Z" fill="#0a28a8"/>
<path d="M127.08,383.53L122.55,380.24L123.96,378.3L116.76,378.01L119.26,384.77L120.67,382.83L125.2,386.12Z" fill="#0a28a8"/>
<path d="M140.13,383.53L135.6,380.24L137.01,378.3L129.81,378.01L132.31,384.77L133.72,382.83L138.25,386.12Z" fill="#0a28a8"/>
<path d="M153.18,383.53L148.65,380.24L150.06,378.3L142.86,378.01L145.36,384.77L146.77,382.83L151.3,386.12Z" fill="#0a28a8"/>
<path d="M161.09,384.89L161.48,383.18L163.28,383.6L161.33,378.23L157.24,382.21L159.04,382.63L158.65,384.34Z" fill="#0a28a8"/>
<path d="M167.22,381.29L173.87,383.03L173.32,385.13L179.7,383L175.19,378.02L174.63,380.13L167.98,378.39Z" fill="#0a28a8"/>
<path d="M180.81,381.4L186.91,382.92L186.42,384.9L192.25,382.8L188.09,378.22L187.6,380.19L181.49,378.67Z" fill="#0a28a8"/>
<path d="M194.9,381.6L199.95,382.7L199.58,384.41L204.34,382.42L200.84,378.63L200.47,380.34L195.42,379.24Z" fill="#0a28a8"/>
<path d="M208.72,381.71L212.99,382.54L212.69,384.05L216.67,382.17L213.68,378.94L213.39,380.45L209.13,379.63Z" fill="#0a28a8"/>
<path d="M222.36,381.78L226.02,382.41L225.78,383.77L229.17,382L226.58,379.18L226.35,380.54L222.69,379.91Z" fill="#0a28a8"/>
<path d="M235.88,381.82L239.05,382.32L238.86,383.55L241.79,381.88L239.52,379.38L239.32,380.61L236.15,380.11Z" fill="#0a28a8"/>
<path d="M249.3,381.84L252.09,382.24L251.93,383.38L254.49,381.79L252.48,379.53L252.32,380.67L249.52,380.27Z" fill="#0a28a8"/>
<path d="M262.65,381.85L265.13,382.18L264.99,383.24L267.26,381.72L265.46,379.66L265.32,380.72L262.84,380.39Z" fill="#0a28a8"/>
<path d="M275.94,381.85L278.17,382.13L278.04,383.12L280.07,381.67L278.46,379.77L278.34,380.76L276.11,380.48Z" fill="#0a28a8"/>
<path d="M289.2,381.86L291.06,382.07L290.95,383.01L292.92,381.63L291.32,379.84L291.21,380.78L289.35,380.56Z" fill="#0a28a8"/>
<path d="M302.39,381.86L303.98,382.03L303.89,382.93L305.84,381.6L304.22,379.89L304.12,380.79L302.53,380.62Z" fill="#0a28a8"/>
<path d="M1.97,399.5L5.25,395.39L6.64,396.5L6.98,391.27L1.96,392.76L3.34,393.86L0.06,397.97Z" fill="#0a28a8"/>
<path d="M15.06,400.65L18.56,395.29L20.29,396.42L20.23,390.13L14.44,392.6L16.18,393.73L12.67,399.09Z" fill="#0a28a8"/>
<path d="M33.18,398.9L31.24,394.49L32.93,393.74L28.16,390.6L27.26,396.24L28.95,395.5L30.9,399.9Z" fill="#0a28a8"/>
<path d="M46.64,398.72L44.17,394.27L45.79,393.37L40.75,390.67L40.37,396.37L41.99,395.48L44.45,399.93Z" fill="#0a28a8"/>
<path d="M61.83,397.11L57.3,393.82L58.71,391.88L51.51,391.59L54.01,398.35L55.42,396.41L59.95,399.7Z" fill="#0a28a8"/>
<path d="M74.88,397.11L70.35,393.82L71.76,391.88L64.56,391.59L67.06,398.35L68.47,396.41L73,399.7Z" fill="#0a28a8"/>
<path d="M87.93,397.11L83.4,393.82L84.81,391.88L77.61,391.59L80.11,398.35L81.52,396.41L86.05,399.7Z" fill="#0a28a8"/>
<path d="M100.98,397.11L96.45,393.82L97.86,391.88L90.66,391.59L93.16,398.35L94.57,396.41L99.1,399.7Z" fill="#0a28a8"/>
<path d="M114.03,397.11L109.5,393.82L110.91,391.88L103.71,391.59L106.21,398.35L107.62,396.41L112.15,399.7Z" fill="#0a28a8"/>
<path d="M127.08,397.11L122.55,393.82L123.96,391.88L116.76,391.59L119.26,398.35L120.67,396.41L125.2,399.7Z" fill="#0a28a8"/>
<path d="M140.13,397.11L135.6,393.82L137.01,391.88L129.81,391.59L132.31,398.35L133.72,396.41L138.25,399.7Z" fill="#0a28a8"/>
<circle cx="147.55" cy="395" r="1.5" fill="#0a28a8"/>
<path d="M154.39,393.34L160.43,396.62L159.4,398.53L166.09,397.98L162.9,392.07L161.86,393.98L155.82,390.7Z" fill="#0a28a8"/>
<path d="M167.43,393.38L173.5,396.62L172.47,398.54L179.16,397.94L175.93,392.05L174.91,393.97L168.84,390.74Z" fill="#0a28a8"/>
<path d="M181.27,393.87L186.6,396.44L185.76,398.19L191.55,397.34L188.61,392.27L187.77,394.03L182.43,391.45Z" fill="#0a28a8"/>
<path d="M195.16,394.35L199.71,396.25L199.06,397.81L203.89,396.73L201.27,392.54L200.61,394.1L196.06,392.19Z" fill="#0a28a8"/>
<path d="M208.88,394.65L212.8,396.1L212.28,397.51L216.37,396.32L214.03,392.76L213.51,394.16L209.59,392.71Z" fill="#0a28a8"/>
<path d="M222.45,394.86L225.87,395.99L225.44,397.27L228.96,396.03L226.88,392.94L226.45,394.22L223.04,393.09Z" fill="#0a28a8"/>
<path d="M235.92,394.99L238.93,395.9L238.58,397.07L241.63,395.82L239.77,393.09L239.42,394.27L236.41,393.37Z" fill="#0a28a8"/>
<path d="M249.32,395.09L251.99,395.82L251.69,396.92L254.37,395.66L252.7,393.22L252.4,394.31L249.73,393.58Z" fill="#0a28a8"/>
<path d="M262.66,395.16L265.04,395.76L264.78,396.79L267.17,395.55L265.65,393.32L265.4,394.35L263.01,393.75Z" fill="#0a28a8"/>
<path d="M275.94,395.21L278.09,395.71L277.86,396.68L280,395.46L278.63,393.41L278.4,394.38L276.26,393.88Z" fill="#0a28a8"/>
<path d="M289.2,395.25L290.97,395.63L290.77,396.55L292.87,395.39L291.45,393.46L291.25,394.37L289.47,393.98Z" fill="#0a28a8"/>
<path d="M302.36,395.27L303.93,395.59L303.75,396.48L305.82,395.34L304.36,393.48L304.18,394.37L302.61,394.05Z" fill="#0a28a8"/>
<path d="M3.33,412.9L5.19,408.64L6.68,409.29L5.7,404.7L1.66,407.09L3.15,407.74L1.28,412.01Z" fill="#0a28a8"/>
<path d="M16.91,413.74L18.41,408.44L20.17,408.94L18.41,403.76L14.2,407.26L15.97,407.75L14.47,413.05Z" fill="#0a28a8"/>
<path d="M31.05,414.67L31.6,408.11L33.71,408.28L30.6,402.61L26.59,407.68L28.7,407.86L28.14,414.42Z" fill="#0a28a8"/>
<path d="M47.36,411.78L43.91,407.53L45.34,406.36L39.91,404.59L40.53,410.27L41.97,409.1L45.42,413.36Z" fill="#0a28a8"/>
<path d="M60.9,411.2L56.73,407.37L57.98,406.01L52.35,405.04L53.79,410.57L55.04,409.21L59.21,413.04Z" fill="#0a28a8"/>
<path d="M74.88,410.69L70.35,407.4L71.76,405.46L64.56,405.17L67.06,411.93L68.47,409.99L73,413.28Z" fill="#0a28a8"/>
<path d="M87.93,410.69L83.4,407.4L84.81,405.46L77.61,405.17L80.11,411.93L81.52,409.99L86.05,413.28Z" fill="#0a28a8"/>
<path d="M100.98,410.69L96.45,407.4L97.86,405.46L90.66,405.17L93.16,411.93L94.57,409.99L99.1,413.28Z" fill="#0a28a8"/>
<path d="M114.03,410.69L109.5,407.4L110.91,405.46L103.71,405.17L106.21,411.93L107.62,409.99L112.15,413.28Z" fill="#0a28a8"/>
<path d="M127.08,410.69L122.55,407.4L123.96,405.46L116.76,405.17L119.26,411.93L120.67,409.99L125.2,413.28Z" fill="#0a28a8"/>
<circle cx="134.5" cy="408.58" r="1.5" fill="#0a28a8"/>
<circle cx="147.55" cy="408.58" r="1.5" fill="#0a28a8"/>
<path d="M154.96,405.5L160.06,410.11L158.6,411.73L165.24,412.77L163.53,406.27L162.07,407.89L156.97,403.28Z" fill="#0a28a8"/>
<path d="M168.19,405.83L173.16,410.07L171.8,411.67L178.17,412.43L176.41,406.26L175.04,407.86L170.07,403.62Z" fill="#0a28a8"/>
<path d="M182.01,406.63L186.34,409.88L185.26,411.33L190.64,411.53L188.93,406.42L187.84,407.87L183.51,404.63Z" fill="#0a28a8"/>
<path d="M195.63,407.26L199.51,409.74L198.64,411.09L203.27,410.83L201.56,406.52L200.7,407.87L196.83,405.4Z" fill="#0a28a8"/>
<path d="M209.18,407.69L212.63,409.62L211.93,410.88L215.93,410.33L214.3,406.63L213.6,407.89L210.15,405.96Z" fill="#0a28a8"/>
<path d="M222.65,408L225.73,409.53L225.15,410.7L228.64,409.97L227.11,406.74L226.53,407.91L223.46,406.38Z" fill="#0a28a8"/>
<path d="M236.06,408.21L238.81,409.45L238.32,410.54L241.4,409.7L239.98,406.84L239.49,407.94L236.74,406.7Z" fill="#0a28a8"/>
<path d="M249.41,408.37L251.88,409.38L251.46,410.41L254.2,409.5L252.89,406.93L252.47,407.96L249.99,406.95Z" fill="#0a28a8"/>
<path d="M262.54,408.46L264.96,409.37L264.57,410.39L267.2,409.41L265.87,406.94L265.48,407.96L263.06,407.05Z" fill="#0a28a8"/>
<path d="M275.58,408.52L278.03,409.37L277.67,410.4L280.27,409.35L278.88,406.92L278.52,407.95L276.08,407.1Z" fill="#0a28a8"/>
<path d="M288.63,408.57L291.09,409.37L290.76,410.4L293.34,409.3L291.89,406.9L291.55,407.94L289.1,407.14Z" fill="#0a28a8"/>
<path d="M301.68,408.62L304.16,409.37L303.84,410.41L306.4,409.26L304.91,406.89L304.59,407.93L302.12,407.18Z" fill="#0a28a8"/>
<path d="M4.43,425.97L5.06,421.95L6.51,422.18L4.57,418.51L1.61,421.41L3.06,421.64L2.43,425.65Z" fill="#0a28a8"/>
<path d="M18.26,426.39L18.16,421.71L19.79,421.68L16.96,417.91L14.29,421.79L15.92,421.76L16.02,426.43Z" fill="#0a28a8"/>
<path d="M32.56,426.61L31.19,421.37L32.94,420.91L28.86,417.39L27.01,422.46L28.76,422L30.13,427.24Z" fill="#0a28a8"/>
<path d="M47.46,426.22L44.02,420.91L45.74,419.8L40.03,417.33L39.93,423.56L41.65,422.45L45.09,427.75Z" fill="#0a28a8"/>
<path d="M61.22,424.14L56.55,420.88L57.6,419.36L51.89,419.16L54.06,424.45L55.12,422.93L59.79,426.19Z" fill="#0a28a8"/>
<path d="M74.49,423.18L69.42,420.86L70.19,419.18L64.54,420L67.61,424.82L68.38,423.14L73.44,425.46Z" fill="#0a28a8"/>
<path d="M87.93,424.27L83.4,420.98L84.81,419.04L77.61,418.75L80.11,425.51L81.52,423.57L86.05,426.86Z" fill="#0a28a8"/>
<path d="M100.98,424.27L96.45,420.98L97.86,419.04L90.66,418.75L93.16,425.51L94.57,423.57L99.1,426.86Z" fill="#0a28a8"/>
<path d="M112.03,419.93L108.8,420.77L108.33,418.98L104.46,423.18L109.88,424.98L109.42,423.19L112.65,422.35Z" fill="#0a28a8"/>
<path d="M124.03,419.48L122.05,420.46L121.23,418.81L118.31,423.72L123.99,424.36L123.17,422.7L125.15,421.72Z" fill="#0a28a8"/>
<path d="M136.17,419.38L135.22,420.08L134.12,418.59L132.09,423.93L137.8,423.58L136.7,422.09L137.65,421.4Z" fill="#0a28a8"/>
<path d="M142.98,417.64L146.6,423.48L144.76,424.63L150.84,427.47L151,420.75L149.15,421.9L145.53,416.06Z" fill="#0a28a8"/>
<path d="M155.7,418L159.76,423.55L158,424.84L164.29,427.2L163.93,420.49L162.18,421.78L158.12,416.23Z" fill="#0a28a8"/>
<path d="M169.4,418.91L172.95,423.38L171.47,424.55L176.88,426.22L176.47,420.58L174.99,421.76L171.44,417.28Z" fill="#0a28a8"/>
<path d="M182.85,419.71L186.16,423.27L184.93,424.41L189.7,425.39L189.07,420.56L187.84,421.7L184.54,418.14Z" fill="#0a28a8"/>
<path d="M196.21,420.38L199.34,423.19L198.34,424.31L202.59,424.71L201.73,420.52L200.73,421.64L197.6,418.83Z" fill="#0a28a8"/>
<path d="M209.58,420.86L212.49,423.11L211.65,424.19L215.44,424.2L214.48,420.54L213.64,421.62L210.74,419.37Z" fill="#0a28a8"/>
<path d="M222.94,421.22L225.6,423.04L224.9,424.08L228.27,423.81L227.29,420.57L226.58,421.61L223.91,419.79Z" fill="#0a28a8"/>
<path d="M236.26,421.49L238.7,422.98L238.1,423.97L241.12,423.52L240.14,420.62L239.54,421.61L237.1,420.12Z" fill="#0a28a8"/>
<path d="M249.53,421.68L251.79,422.93L251.26,423.88L254.01,423.3L253.05,420.66L252.52,421.62L250.26,420.36Z" fill="#0a28a8"/>
<path d="M262.56,421.77L264.87,422.94L264.38,423.91L267.1,423.22L266.04,420.62L265.55,421.6L263.24,420.43Z" fill="#0a28a8"/>
<path d="M275.6,421.85L277.95,422.94L277.48,423.93L280.18,423.15L279.04,420.59L278.58,421.58L276.24,420.48Z" fill="#0a28a8"/>
<path d="M288.65,421.91L291.02,422.94L290.58,423.94L293.26,423.09L292.05,420.56L291.61,421.56L289.24,420.54Z" fill="#0a28a8"/>
<path d="M301.69,421.98L304.09,422.94L303.68,423.95L306.33,423.04L305.06,420.54L304.65,421.55L302.25,420.58Z" fill="#0a28a8"/>
<path d="M5.21,438.85L4.89,435.33L6.21,435.21L3.7,432.54L1.73,435.63L3.05,435.51L3.38,439.02Z" fill="#0a28a8"/>
<path d="M19.06,438.91L17.9,435.1L19.28,434.68L15.99,432.28L14.6,436.11L15.99,435.69L17.15,439.49Z" fill="#0a28a8"/>
<path d="M33.2,438.64L30.81,434.81L32.15,433.98L27.93,432.26L27.61,436.81L28.96,435.97L31.35,439.8Z" fill="#0a28a8"/>
<path d="M47.55,437.75L43.55,434.51L44.65,433.15L39.51,432.79L40.93,437.74L42.03,436.38L46.03,439.63Z" fill="#0a28a8"/>
<path d="M61.77,435.95L56.05,434.3L56.6,432.42L51,434.24L54.76,438.76L55.31,436.88L61.02,438.54Z" fill="#0a28a8"/>
<path d="M75.18,433.27L68.39,434.36L68.05,432.21L63.08,436.73L69.22,439.47L68.87,437.32L75.66,436.23Z" fill="#0a28a8"/>
<path d="M87.36,435.37L82.4,434.49L82.72,432.67L77.45,434.88L81.64,438.77L81.96,436.95L86.93,437.83Z" fill="#0a28a8"/>
<path d="M99.93,434.42L95.53,434.49L95.5,432.64L90.75,435.81L95.6,438.84L95.57,436.99L99.97,436.92Z" fill="#0a28a8"/>
<path d="M112.24,433.66L108.75,434.39L108.37,432.58L104.3,436.59L109.63,438.65L109.26,436.84L112.75,436.11Z" fill="#0a28a8"/>
<path d="M119.48,429.62L120,436.48L117.83,436.64L121.92,441.97L125.16,436.09L122.99,436.25L122.47,429.39Z" fill="#0a28a8"/>
<path d="M131.36,430.13L133.23,436.75L131.13,437.34L136.2,441.76L138.21,435.34L136.11,435.93L134.25,429.32Z" fill="#0a28a8"/>
<path d="M143.84,430.57L146.4,436.88L144.38,437.69L149.87,441.47L151.18,434.94L149.17,435.75L146.61,429.45Z" fill="#0a28a8"/>
<path d="M157.08,431.59L159.65,436.8L157.93,437.65L162.94,440.48L163.74,434.78L162.02,435.63L159.45,430.42Z" fill="#0a28a8"/>
<path d="M170.48,432.36L172.84,436.69L171.36,437.5L175.79,439.68L176.37,434.77L174.89,435.58L172.53,431.25Z" fill="#0a28a8"/>
<path d="M183.67,433.07L186.04,436.65L184.77,437.49L188.86,438.99L189.07,434.64L187.79,435.48L185.42,431.91Z" fill="#0a28a8"/>
<path d="M196.81,433.69L199.22,436.62L198.14,437.51L201.94,438.41L201.8,434.5L200.72,435.39L198.3,432.46Z" fill="#0a28a8"/>
<path d="M210.03,434.17L212.38,436.58L211.45,437.48L214.94,437.93L214.58,434.44L213.65,435.34L211.3,432.92Z" fill="#0a28a8"/>
<path d="M223.26,434.54L225.5,436.54L224.71,437.43L227.89,437.56L227.4,434.41L226.6,435.31L224.36,433.31Z" fill="#0a28a8"/>
<path d="M236.5,434.83L238.61,436.5L237.92,437.37L240.82,437.26L240.26,434.41L239.57,435.29L237.46,433.62Z" fill="#0a28a8"/>
<path d="M249.6,434.99L251.71,436.49L251.07,437.38L253.86,437.1L253.21,434.38L252.58,435.26L250.47,433.77Z" fill="#0a28a8"/>
<path d="M262.62,435.09L264.79,436.5L264.2,437.41L266.97,437.02L266.2,434.32L265.61,435.24L263.44,433.83Z" fill="#0a28a8"/>
<path d="M275.65,435.19L277.87,436.51L277.31,437.44L280.07,436.94L279.19,434.28L278.64,435.21L276.41,433.89Z" fill="#0a28a8"/>
<path d="M288.68,435.27L290.94,436.51L290.42,437.47L293.16,436.87L292.19,434.24L291.67,435.19L289.4,433.95Z" fill="#0a28a8"/>
<path d="M301.72,435.34L304.02,436.52L303.52,437.49L306.24,436.81L305.2,434.21L304.7,435.18L302.4,434Z" fill="#0a28a8"/>
<path d="M5.69,451.71L4.71,448.79L5.86,448.4L3.1,446.67L1.96,449.71L3.12,449.32L4.1,452.24Z" fill="#0a28a8"/>
<path d="M19.44,451.51L17.66,448.59L18.77,447.91L15.43,446.66L15.01,450.2L16.12,449.52L17.9,452.45Z" fill="#0a28a8"/>
<path d="M33.3,450.99L30.51,448.38L31.47,447.35L27.57,446.94L28.22,450.82L29.18,449.79L31.97,452.4Z" fill="#0a28a8"/>
<path d="M47.14,450L43.24,448.2L43.88,446.81L39.6,447.68L41.71,451.5L42.35,450.11L46.25,451.92Z" fill="#0a28a8"/>
<path d="M60.71,448.5L55.84,448.13L55.97,446.46L51.78,448.99L55.55,452.11L55.67,450.44L60.54,450.8Z" fill="#0a28a8"/>
<path d="M73.69,446.62L68.39,448.25L67.85,446.49L64.44,450.8L69.69,452.45L69.14,450.68L74.44,449.06Z" fill="#0a28a8"/>
<path d="M85.89,444.78L81,448.57L79.77,446.98L77.86,452.77L83.94,452.35L82.71,450.76L87.59,446.97Z" fill="#0a28a8"/>
<path d="M97.42,443.43L93.78,449.02L91.99,447.86L92.04,454.4L98.04,451.8L96.25,450.63L99.89,445.04Z" fill="#0a28a8"/>
<path d="M108.68,442.9L106.79,449.51L104.7,448.91L106.68,455.33L111.76,450.93L109.67,450.33L111.56,443.73Z" fill="#0a28a8"/>
<path d="M120.08,443.15L119.95,449.91L117.79,449.86L121.33,455.46L125.08,450L122.93,449.96L123.05,443.21Z" fill="#0a28a8"/>
<path d="M132.24,443.9L133.2,450.1L131.19,450.41L135.38,454.95L137.98,449.35L135.97,449.67L135.01,443.47Z" fill="#0a28a8"/>
<path d="M145.06,444.71L146.43,450.13L144.63,450.58L148.79,454.24L150.72,449.04L148.92,449.5L147.55,444.09Z" fill="#0a28a8"/>
<path d="M158.14,445.44L159.63,450.1L158.03,450.61L161.96,453.55L163.44,448.87L161.84,449.39L160.34,444.73Z" fill="#0a28a8"/>
<path d="M171.36,446.05L172.8,450.04L171.37,450.55L174.96,452.95L176.19,448.82L174.76,449.33L173.33,445.34Z" fill="#0a28a8"/>
<path d="M184.38,446.62L185.97,450.04L184.71,450.63L188.15,452.43L188.98,448.63L187.72,449.22L186.12,445.81Z" fill="#0a28a8"/>
<path d="M197.37,447.15L199.15,450.05L198.04,450.73L201.36,451.96L201.78,448.44L200.68,449.12L198.9,446.21Z" fill="#0a28a8"/>
<path d="M210.46,447.59L212.3,450.04L211.32,450.77L214.47,451.55L214.61,448.32L213.64,449.04L211.8,446.59Z" fill="#0a28a8"/>
<path d="M223.6,447.94L225.43,450.03L224.57,450.78L227.51,451.21L227.46,448.24L226.61,448.99L224.78,446.91Z" fill="#0a28a8"/>
<path d="M236.71,448.19L238.54,450.02L237.77,450.79L240.56,450.98L240.37,448.18L239.6,448.95L237.77,447.13Z" fill="#0a28a8"/>
<path d="M249.69,448.32L251.63,450.04L250.9,450.85L253.71,450.88L253.35,448.1L252.62,448.91L250.69,447.2Z" fill="#0a28a8"/>
<path d="M262.7,448.44L264.71,450.05L264.03,450.9L266.83,450.79L266.34,448.03L265.65,448.88L263.64,447.26Z" fill="#0a28a8"/>
<path d="M275.71,448.54L277.8,450.07L277.15,450.94L279.95,450.71L279.33,447.97L278.68,448.85L276.6,447.33Z" fill="#0a28a8"/>
<path d="M288.73,448.63L290.87,450.07L290.27,450.98L293.05,450.63L292.32,447.93L291.72,448.83L289.57,447.38Z" fill="#0a28a8"/>
<path d="M301.76,448.71L303.95,450.08L303.37,451.01L306.14,450.57L305.33,447.88L304.75,448.81L302.56,447.44Z" fill="#0a28a8"/>
<path d="M5.93,464.62L4.54,462.29L5.5,461.72L2.74,460.79L2.25,463.66L3.21,463.09L4.6,465.41Z" fill="#0a28a8"/>
<path d="M19.52,464.28L17.45,462.14L18.31,461.31L15.17,460.95L15.41,464.1L16.27,463.27L18.34,465.42Z" fill="#0a28a8"/>
<path d="M33.12,463.68L30.29,461.99L30.94,460.9L27.53,461.37L28.74,464.59L29.39,463.5L32.22,465.18Z" fill="#0a28a8"/>
<path d="M46.6,462.78L43.05,461.91L43.38,460.58L39.92,462.11L42.28,465.06L42.6,463.73L46.15,464.6Z" fill="#0a28a8"/>
<path d="M59.82,461.6L55.75,461.92L55.64,460.45L52.5,463.19L56.02,465.41L55.91,463.94L59.98,463.63Z" fill="#0a28a8"/>
<path d="M72.63,460.29L68.44,462.05L67.83,460.58L65.44,464.5L69.91,465.54L69.29,464.07L73.48,462.31Z" fill="#0a28a8"/>
<path d="M84.98,459.08L81.2,462.3L80.09,461L78.86,465.83L83.82,465.38L82.72,464.09L86.5,460.87Z" fill="#0a28a8"/>
<path d="M96.96,458.2L94.06,462.63L92.57,461.65L92.71,466.92L97.61,464.96L96.11,463.98L99.02,459.55Z" fill="#0a28a8"/>
<path d="M108.77,457.8L107.05,462.97L105.32,462.4L106.83,467.6L111.17,464.34L109.44,463.77L111.16,458.6Z" fill="#0a28a8"/>
<path d="M120.65,457.88L120.16,463.28L118.35,463.11L121,467.8L124.46,463.67L122.65,463.5L123.14,458.11Z" fill="#0a28a8"/>
<path d="M133.02,458.33L133.33,463.44L131.6,463.54L134.78,467.54L137.46,463.19L135.72,463.29L135.42,458.19Z" fill="#0a28a8"/>
<path d="M145.88,458.87L146.5,463.47L144.9,463.69L148.12,467.08L150.31,462.95L148.71,463.17L148.09,458.57Z" fill="#0a28a8"/>
<path d="M158.89,459.39L159.66,463.46L158.2,463.74L161.3,466.6L163.14,462.8L161.68,463.08L160.91,459.01Z" fill="#0a28a8"/>
<path d="M172.03,459.85L172.8,463.42L171.47,463.71L174.35,466.15L175.97,462.74L174.64,463.03L173.87,459.46Z" fill="#0a28a8"/>
<path d="M184.96,460.29L185.95,463.45L184.74,463.83L187.6,465.77L188.85,462.54L187.63,462.92L186.64,459.77Z" fill="#0a28a8"/>
<path d="M197.86,460.72L199.1,463.49L198.01,463.99L200.88,465.42L201.72,462.32L200.62,462.81L199.38,460.04Z" fill="#0a28a8"/>
<path d="M210.86,461.1L212.24,463.51L211.26,464.08L214.06,465.09L214.59,462.16L213.61,462.73L212.22,460.32Z" fill="#0a28a8"/>
<path d="M223.89,461.4L225.37,463.52L224.47,464.14L227.19,464.83L227.5,462.05L226.6,462.67L225.13,460.54Z" fill="#0a28a8"/>
<path d="M236.84,461.54L238.46,463.55L237.61,464.24L240.38,464.73L240.48,461.93L239.63,462.61L238.01,460.6Z" fill="#0a28a8"/>
<path d="M249.81,461.68L251.55,463.58L250.75,464.32L253.54,464.63L253.47,461.83L252.66,462.57L250.92,460.66Z" fill="#0a28a8"/>
<path d="M262.79,461.8L264.64,463.6L263.88,464.38L266.68,464.54L266.45,461.75L265.69,462.53L263.84,460.72Z" fill="#0a28a8"/>
<path d="M275.79,461.91L277.73,463.62L277.01,464.43L279.81,464.46L279.45,461.68L278.72,462.49L276.79,460.78Z" fill="#0a28a8"/>
<path d="M288.8,462L290.81,463.63L290.12,464.48L292.93,464.38L292.44,461.62L291.76,462.46L289.75,460.84Z" fill="#0a28a8"/>
<path d="M301.82,462.09L303.89,463.64L303.23,464.51L306.03,464.31L305.44,461.57L304.79,462.44L302.72,460.89Z" fill="#0a28a8"/>
<path d="M5.99,477.63L4.39,475.84L5.17,475.14L2.54,474.85L2.54,477.49L3.32,476.8L4.92,478.59Z" fill="#0a28a8"/>
<path d="M19.43,477.23L17.29,475.72L17.93,474.83L15.11,475.11L15.79,477.86L16.42,476.96L18.56,478.47Z" fill="#0a28a8"/>
<path d="M32.82,476.65L30.14,475.64L30.55,474.55L27.66,475.56L29.16,478.22L29.57,477.14L32.25,478.15Z" fill="#0a28a8"/>
<path d="M46.08,475.89L42.94,475.61L43.05,474.37L40.29,476.23L42.68,478.53L42.79,477.3L45.93,477.58Z" fill="#0a28a8"/>
<path d="M59.13,474.98L55.72,475.65L55.46,474.36L53.1,477.09L56.32,478.73L56.06,477.43L59.47,476.77Z" fill="#0a28a8"/>
<path d="M71.89,474.05L68.5,475.78L67.87,474.53L66.17,478.05L70.02,478.75L69.38,477.5L72.77,475.77Z" fill="#0a28a8"/>
<path d="M84.37,473.21L81.34,475.98L80.34,474.88L79.54,478.99L83.71,478.58L82.71,477.49L85.75,474.72Z" fill="#0a28a8"/>
<path d="M96.63,472.61L94.25,476.22L92.97,475.38L93.18,479.77L97.3,478.24L96.02,477.39L98.4,473.78Z" fill="#0a28a8"/>
<path d="M108.79,472.31L107.25,476.48L105.77,475.94L106.99,480.28L110.74,477.78L109.27,477.24L110.82,473.06Z" fill="#0a28a8"/>
<path d="M120.97,472.32L120.32,476.72L118.77,476.49L120.86,480.48L124.01,477.27L122.46,477.04L123.11,472.63Z" fill="#0a28a8"/>
<path d="M133.52,472.59L133.45,476.85L131.93,476.83L134.44,480.35L137.06,476.91L135.54,476.88L135.61,472.63Z" fill="#0a28a8"/>
<path d="M146.42,472.97L146.58,476.88L145.15,476.94L147.7,480.03L149.98,476.74L148.55,476.79L148.39,472.89Z" fill="#0a28a8"/>
<path d="M159.43,473.35L159.71,476.87L158.38,476.98L160.85,479.69L162.87,476.62L161.54,476.73L161.26,473.2Z" fill="#0a28a8"/>
<path d="M172.53,473.7L172.83,476.85L171.6,476.96L173.92,479.34L175.76,476.57L174.53,476.69L174.23,473.54Z" fill="#0a28a8"/>
<path d="M185.42,474.03L185.95,476.89L184.8,477.1L187.18,479.08L188.7,476.38L187.54,476.59L187.01,473.73Z" fill="#0a28a8"/>
<path d="M198.27,474.37L199.09,476.95L198.02,477.28L200.49,478.83L201.63,476.15L200.56,476.48L199.75,473.9Z" fill="#0a28a8"/>
<path d="M211.18,474.62L212.2,476.99L211.2,477.43L213.74,478.64L214.58,475.96L213.58,476.4L212.55,474.03Z" fill="#0a28a8"/>
<path d="M224.07,474.78L225.3,477.05L224.35,477.57L226.97,478.54L227.58,475.81L226.62,476.33L225.39,474.06Z" fill="#0a28a8"/>
<path d="M236.99,474.92L238.4,477.09L237.48,477.68L240.18,478.45L240.57,475.67L239.66,476.27L238.25,474.1Z" fill="#0a28a8"/>
<path d="M249.94,475.05L251.49,477.12L250.62,477.77L253.36,478.36L253.56,475.56L252.69,476.22L251.14,474.15Z" fill="#0a28a8"/>
<path d="M262.91,475.18L264.58,477.15L263.75,477.85L266.52,478.27L266.55,475.47L265.72,476.17L264.05,474.2Z" fill="#0a28a8"/>
<path d="M275.89,475.29L277.67,477.17L276.87,477.92L279.67,478.19L279.55,475.39L278.76,476.13L276.98,474.26Z" fill="#0a28a8"/>
<path d="M288.89,475.39L290.75,477.18L289.99,477.97L292.79,478.11L292.55,475.32L291.79,476.1L289.93,474.31Z" fill="#0a28a8"/>
<path d="M301.89,475.49L303.83,477.2L303.11,478.02L305.91,478.04L305.54,475.26L304.82,476.07L302.89,474.36Z" fill="#0a28a8"/>
<path d="M53.94,289.35L55.74,297.48L53.65,297.94L58.5,302.5L60.97,296.32L58.87,296.78L57.06,288.65Z" fill="#1a78c8"/>
<path d="M19.01,321.45L29.53,327.95L28.45,329.7L35.1,329.4L32.39,323.32L31.32,325.06L20.79,318.55Z" fill="#1a6cc0"/>
<path d="M35.8,308.8L42.31,315.31L40.86,316.76L47.4,318L46.16,311.46L44.71,312.91L38.2,306.4Z" fill="#1a6cc0"/>
<path d="M147.01,391.52L157.27,394.83L156.61,396.88L163,395L158.92,389.74L158.26,391.79L147.99,388.48Z" fill="#1a86cc"/>
<path d="M118.9,426.11L119.51,434.63L117.37,434.78L121.5,440L124.85,434.25L122.7,434.4L122.1,425.89Z" fill="#1a6cc0"/>
<path d="M22.3,294.89L38.72,311.38L35.89,314.21L46,314.3L45.95,304.19L43.12,307.01L26.7,290.51Z" fill="none" stroke="#ff1a1a" stroke-width="1.3" stroke-linejoin="miter"/>
<path d="M107.37,369.52L78.86,348.04L81.35,344.72L71,346L72.63,356.3L75.12,352.99L103.63,374.48Z" fill="none" stroke="#ff1a1a" stroke-width="1.3" stroke-linejoin="miter"/>
<path d="M150.28,415.65L168.27,433.41L165.39,436.33L176,436.4L175.79,425.79L172.91,428.71L154.92,410.95Z" fill="none" stroke="#ff1a1a" stroke-width="1.3" stroke-linejoin="miter"/>
<path d="M29,473.6L64.2,473.6L64.2,476L69,471.3L64.2,466.6L64.2,469L29,469Z" fill="#3b6fc6"/>
<path d="M31.91,470.59L42.23,452.56L43.79,453.45L42.7,447.3L36.84,449.48L38.41,450.37L28.09,468.41Z" fill="#16a84a"/>
<path d="M30.95,474.3L30.95,436.4L32.3,436.4L28.3,431.8L24.3,436.4L25.65,436.4L25.65,474.3Z" fill="#ee1111"/>
<text x="9.4" y="441.4" font-size="13" font-weight="bold" text-anchor="start" fill="#000" font-family='"Liberation Serif", serif' font-style="italic" textLength="8.6" lengthAdjust="spacingAndGlyphs" stroke="#000" stroke-width="0.35">S</text>
<text x="18.2" y="444.7" font-size="9" font-weight="bold" text-anchor="start" fill="#000" font-family='"Liberation Serif", serif' font-style="italic" textLength="5.6" lengthAdjust="spacingAndGlyphs" stroke="#000" stroke-width="0.2">z</text>
<text x="38.8" y="443.4" font-size="12.5" font-weight="bold" text-anchor="start" fill="#000" font-family='"Liberation Serif", serif' font-style="italic" textLength="10.8" lengthAdjust="spacingAndGlyphs" stroke="#000" stroke-width="0.35">H</text>
<text x="49.5" y="448" font-size="9.5" font-weight="bold" text-anchor="start" fill="#000" font-family='"Liberation Serif", serif' font-style="italic" textLength="5.8" lengthAdjust="spacingAndGlyphs" stroke="#000" stroke-width="0.2">y</text>
<text x="70" y="473" font-size="12.5" font-weight="bold" text-anchor="start" fill="#000" font-family='"Liberation Serif", serif' font-style="italic" textLength="8.2" lengthAdjust="spacingAndGlyphs" stroke="#000" stroke-width="0.35">E</text>
<text x="78.6" y="476.9" font-size="9.5" font-weight="bold" text-anchor="start" fill="#000" font-family='"Liberation Serif", serif' font-style="italic" textLength="5.8" lengthAdjust="spacingAndGlyphs" stroke="#000" stroke-width="0.2">x</text>
<line x1="9.9" y1="428.3" x2="16.4" y2="428.3" stroke="#000" stroke-width="0.8"/>
<path d="M14.6,427 L16.8,428.3 L14.6,429.6" fill="none" stroke="#000" stroke-width="0.8"/>
<line x1="39.4" y1="430.5" x2="49.4" y2="430.5" stroke="#000" stroke-width="0.8"/>
<path d="M47.6,429.2 L49.8,430.5 L47.6,431.8" fill="none" stroke="#000" stroke-width="0.8"/>
<line x1="71" y1="460.5" x2="78.8" y2="460.5" stroke="#000" stroke-width="0.8"/>
<path d="M77,459.2 L79.2,460.5 L77,461.8" fill="none" stroke="#000" stroke-width="0.8"/>
<text x="5.3" y="274.7" font-size="22" font-weight="bold" text-anchor="start" fill="#000" font-family='"Liberation Sans", sans-serif' font-style="normal" textLength="22.6" lengthAdjust="spacingAndGlyphs">(c)</text>
<rect x="347.3" y="255.5" width="19.2" height="7.41" fill="#ff0a00"/>
<rect x="347.3" y="262.51" width="19.2" height="7.41" fill="#ff1f00"/>
<rect x="347.3" y="269.52" width="19.2" height="7.41" fill="#ff3300"/>
<rect x="347.3" y="276.53" width="19.2" height="7.41" fill="#ff4700"/>
<rect x="347.3" y="283.54" width="19.2" height="7.41" fill="#ff5a00"/>
<rect x="347.3" y="290.55" width="19.2" height="7.41" fill="#ff7400"/>
<rect x="347.3" y="297.56" width="19.2" height="7.41" fill="#ff9100"/>
<rect x="347.3" y="304.57" width="19.2" height="7.41" fill="#ffaf00"/>
<rect x="347.3" y="311.57" width="19.2" height="7.41" fill="#ffd100"/>
<rect x="347.3" y="318.58" width="19.2" height="7.41" fill="#fff100"/>
<rect x="347.3" y="325.59" width="19.2" height="7.41" fill="#ebfb00"/>
<rect x="347.3" y="332.6" width="19.2" height="7.41" fill="#c7f400"/>
<rect x="347.3" y="339.61" width="19.2" height="7.41" fill="#9fee00"/>
<rect x="347.3" y="346.62" width="19.2" height="7.41" fill="#6de600"/>
<rect x="347.3" y="353.63" width="19.2" height="7.41" fill="#3de003"/>
<rect x="347.3" y="360.64" width="19.2" height="7.41" fill="#21e01f"/>
<rect x="347.3" y="367.65" width="19.2" height="7.41" fill="#04e03c"/>
<rect x="347.3" y="374.66" width="19.2" height="7.41" fill="#00e76b"/>
<rect x="347.3" y="381.67" width="19.2" height="7.41" fill="#00f09d"/>
<rect x="347.3" y="388.68" width="19.2" height="7.41" fill="#00f4ba"/>
<rect x="347.3" y="395.69" width="19.2" height="7.41" fill="#00f9d7"/>
<rect x="347.3" y="402.7" width="19.2" height="7.41" fill="#00fded"/>
<rect x="347.3" y="409.71" width="19.2" height="7.41" fill="#00fef9"/>
<rect x="347.3" y="416.72" width="19.2" height="7.41" fill="#00f4ff"/>
<rect x="347.3" y="423.73" width="19.2" height="7.41" fill="#00dcff"/>
<rect x="347.3" y="430.73" width="19.2" height="7.41" fill="#00c2ff"/>
<rect x="347.3" y="437.74" width="19.2" height="7.41" fill="#00a9ff"/>
<rect x="347.3" y="444.75" width="19.2" height="7.41" fill="#008dff"/>
<rect x="347.3" y="451.76" width="19.2" height="7.41" fill="#006fff"/>
<rect x="347.3" y="458.77" width="19.2" height="7.41" fill="#004eff"/>
<rect x="347.3" y="465.78" width="19.2" height="7.41" fill="#002dfe"/>
<rect x="347.3" y="472.79" width="19.2" height="7.41" fill="#000ff5"/>
<rect x="347.3" y="255.5" width="19.2" height="224.3" fill="none" stroke="#000" stroke-width="1"/>
<line x1="336.3" y1="255.5" x2="341.3" y2="255.5" stroke="#000" stroke-width="1"/>
<path d="M340.3,252.5 L346.8,255.5 L340.3,258.5Z" fill="#000"/>
<line x1="342.3" y1="262.3" x2="347.3" y2="262.3" stroke="#222" stroke-width="1"/>
<line x1="342.3" y1="269.09" x2="347.3" y2="269.09" stroke="#222" stroke-width="1"/>
<text x="330.3" y="259.17" font-size="10.2" font-weight="normal" text-anchor="end" fill="#111" font-family='"Liberation Sans", sans-serif' font-style="normal">292</text>
<line x1="336.8" y1="275.89" x2="347.3" y2="275.89" stroke="#222" stroke-width="1"/>
<line x1="342.3" y1="282.69" x2="347.3" y2="282.69" stroke="#222" stroke-width="1"/>
<line x1="342.3" y1="289.48" x2="347.3" y2="289.48" stroke="#222" stroke-width="1"/>
<text x="330.3" y="279.56" font-size="10.2" font-weight="normal" text-anchor="end" fill="#111" font-family='"Liberation Sans", sans-serif' font-style="normal">231</text>
<line x1="336.8" y1="296.28" x2="347.3" y2="296.28" stroke="#222" stroke-width="1"/>
<line x1="342.3" y1="303.08" x2="347.3" y2="303.08" stroke="#222" stroke-width="1"/>
<line x1="342.3" y1="309.88" x2="347.3" y2="309.88" stroke="#222" stroke-width="1"/>
<text x="330.3" y="299.95" font-size="10.2" font-weight="normal" text-anchor="end" fill="#111" font-family='"Liberation Sans", sans-serif' font-style="normal">181</text>
<line x1="336.8" y1="316.67" x2="347.3" y2="316.67" stroke="#222" stroke-width="1"/>
<line x1="342.3" y1="323.47" x2="347.3" y2="323.47" stroke="#222" stroke-width="1"/>
<line x1="342.3" y1="330.27" x2="347.3" y2="330.27" stroke="#222" stroke-width="1"/>
<text x="330.3" y="320.34" font-size="10.2" font-weight="normal" text-anchor="end" fill="#111" font-family='"Liberation Sans", sans-serif' font-style="normal">141</text>
<line x1="336.8" y1="337.06" x2="347.3" y2="337.06" stroke="#222" stroke-width="1"/>
<line x1="342.3" y1="343.86" x2="347.3" y2="343.86" stroke="#222" stroke-width="1"/>
<line x1="342.3" y1="350.66" x2="347.3" y2="350.66" stroke="#222" stroke-width="1"/>
<text x="330.3" y="340.74" font-size="10.2" font-weight="normal" text-anchor="end" fill="#111" font-family='"Liberation Sans", sans-serif' font-style="normal">108</text>
<line x1="336.8" y1="357.45" x2="347.3" y2="357.45" stroke="#222" stroke-width="1"/>
<line x1="342.3" y1="364.25" x2="347.3" y2="364.25" stroke="#222" stroke-width="1"/>
<line x1="342.3" y1="371.05" x2="347.3" y2="371.05" stroke="#222" stroke-width="1"/>
<text x="330.3" y="361.13" font-size="10.2" font-weight="normal" text-anchor="end" fill="#111" font-family='"Liberation Sans", sans-serif' font-style="normal">81.4</text>
<line x1="336.8" y1="377.85" x2="347.3" y2="377.85" stroke="#222" stroke-width="1"/>
<line x1="342.3" y1="384.64" x2="347.3" y2="384.64" stroke="#222" stroke-width="1"/>
<line x1="342.3" y1="391.44" x2="347.3" y2="391.44" stroke="#222" stroke-width="1"/>
<text x="330.3" y="381.52" font-size="10.2" font-weight="normal" text-anchor="end" fill="#111" font-family='"Liberation Sans", sans-serif' font-style="normal">59.9</text>
<line x1="336.8" y1="398.24" x2="347.3" y2="398.24" stroke="#222" stroke-width="1"/>
<line x1="342.3" y1="405.03" x2="347.3" y2="405.03" stroke="#222" stroke-width="1"/>
<line x1="342.3" y1="411.83" x2="347.3" y2="411.83" stroke="#222" stroke-width="1"/>
<text x="330.3" y="401.91" font-size="10.2" font-weight="normal" text-anchor="end" fill="#111" font-family='"Liberation Sans", sans-serif' font-style="normal">42.5</text>
<line x1="336.8" y1="418.63" x2="347.3" y2="418.63" stroke="#222" stroke-width="1"/>
<line x1="342.3" y1="425.42" x2="347.3" y2="425.42" stroke="#222" stroke-width="1"/>
<line x1="342.3" y1="432.22" x2="347.3" y2="432.22" stroke="#222" stroke-width="1"/>
<text x="330.3" y="422.3" font-size="10.2" font-weight="normal" text-anchor="end" fill="#111" font-family='"Liberation Sans", sans-serif' font-style="normal">28.3</text>
<line x1="336.8" y1="439.02" x2="347.3" y2="439.02" stroke="#222" stroke-width="1"/>
<line x1="342.3" y1="445.82" x2="347.3" y2="445.82" stroke="#222" stroke-width="1"/>
<line x1="342.3" y1="452.61" x2="347.3" y2="452.61" stroke="#222" stroke-width="1"/>
<text x="330.3" y="442.69" font-size="10.2" font-weight="normal" text-anchor="end" fill="#111" font-family='"Liberation Sans", sans-serif' font-style="normal">16.9</text>
<line x1="336.8" y1="459.41" x2="347.3" y2="459.41" stroke="#222" stroke-width="1"/>
<line x1="342.3" y1="466.21" x2="347.3" y2="466.21" stroke="#222" stroke-width="1"/>
<line x1="342.3" y1="473" x2="347.3" y2="473" stroke="#222" stroke-width="1"/>
<text x="330.3" y="463.08" font-size="10.2" font-weight="normal" text-anchor="end" fill="#111" font-family='"Liberation Sans", sans-serif' font-style="normal">7.55</text>
<line x1="336.3" y1="479.8" x2="341.3" y2="479.8" stroke="#000" stroke-width="1"/>
<path d="M340.3,476.8 L346.8,479.8 L340.3,482.8Z" fill="#000"/>
<text x="330.3" y="483.47" font-size="10.2" font-weight="normal" text-anchor="end" fill="#111" font-family='"Liberation Sans", sans-serif' font-style="normal">0</text>
<text x="359.1" y="358.8" font-size="13.6" font-weight="bold" text-anchor="middle" fill="#000" font-family='"Liberation Sans", sans-serif' font-style="normal" textLength="58.9" lengthAdjust="spacingAndGlyphs" transform="rotate(-90 359.1 358.8)">V/m (log)</text>
<rect x="215.8" y="41.9" width="97.7" height="73.5" fill="#fff" stroke="#222" stroke-width="1"/>
<clipPath id="clipI"><rect x="215.8" y="41.9" width="97.7" height="73.5"/></clipPath>
<g clip-path="url(#clipI)">
<polyline points="211.8,103.55 234.4,102.94 251.35,102.32 257,102.02 260.95,100.17 264.91,102.02 273.95,104.47 285.25,105.09 320.28,105.09" fill="none" stroke="#0000ff" stroke-width="1.8" stroke-linejoin="round"/>
<polyline points="211.8,104.08 212.36,104.07 212.93,104.06 213.49,104.05 214.06,104.04 214.62,104.03 215.19,104.02 215.75,104.01 216.32,104 216.88,103.98 217.45,103.97 218.01,103.96 218.58,103.94 219.14,103.93 219.71,103.91 220.27,103.9 220.84,103.88 221.4,103.86 221.97,103.85 222.53,103.83 223.1,103.81 223.66,103.79 224.23,103.77 224.79,103.74 225.36,103.72 225.92,103.7 226.49,103.67 227.05,103.64 227.62,103.62 228.18,103.59 228.75,103.56 229.31,103.52 229.88,103.49 230.44,103.45 231.01,103.41 231.57,103.37 232.14,103.33 232.7,103.28 233.27,103.23 233.83,103.18 234.4,103.13 234.96,103.07 235.53,103 236.09,102.94 236.66,102.87 237.22,102.79 237.79,102.71 238.35,102.62 238.92,102.53 239.48,102.43 240.05,102.32 240.61,102.2 241.18,102.07 241.74,101.93 242.31,101.78 242.87,101.62 243.44,101.44 244,101.25 244.57,101.04 245.13,100.8 245.7,100.55 246.26,100.26 246.83,99.95 247.39,99.6 247.96,99.22 248.52,98.79 249.09,98.31 249.65,97.78 250.22,97.18 250.78,96.51 251.35,95.75 251.91,94.9 252.48,93.95 253.04,92.87 253.61,91.67 254.17,90.33 254.74,88.84 255.3,87.22 255.87,85.47 256.43,83.63 257,81.76 257.56,79.94 258.13,78.29 258.69,76.95 259.26,76.02 259.82,75.63 260.39,75.99 260.95,77.4 261.52,79.59 262.08,82.18 262.65,84.84 263.21,87.36 263.78,89.62 264.34,91.6 264.91,93.29 265.47,94.72 266.04,95.94 266.6,96.96 267.17,95.88 268.19,44.3 269.43,98.33 270.56,102.81 271.12,103.15 271.69,103.45 272.25,103.7 272.82,103.93 273.38,104.12 273.95,104.3 274.51,104.45 275.08,104.58 275.64,104.7 276.21,104.8 276.77,104.89 277.34,104.98 277.9,105.05 278.47,105.12 279.03,105.17 279.6,105.23 280.16,105.28 280.73,105.32 281.29,105.36 281.86,105.39 282.42,105.39 282.99,105.39 283.55,105.39 284.12,105.39 284.68,105.39 285.25,105.39 285.81,105.39 286.38,105.39 286.94,105.39 287.51,105.39 288.07,105.39 288.64,105.39 289.2,105.39 289.77,105.39 290.33,105.39 290.9,105.39 291.46,105.39 292.03,105.39 292.59,105.39 293.16,105.39 293.72,105.39 294.29,105.39 294.85,105.39 295.42,105.39 295.98,105.39 296.55,105.39 297.11,105.39 297.68,105.39 298.24,105.39 298.81,105.39 299.37,105.39 299.94,105.39 300.5,105.39 301.07,105.39 301.63,105.39 302.2,105.39 302.76,105.39 303.33,105.39 303.89,105.39 304.46,105.39 305.02,105.39 305.59,105.39 306.15,105.39 306.72,105.39 307.28,105.39 307.85,105.39 308.41,105.39 308.98,105.39 309.54,105.39 310.11,105.39 310.67,105.39 311.24,105.39 311.8,105.39 312.37,105.39 312.93,105.39 313.5,105.39 314.06,105.39 314.63,105.39 315.19,105.39 315.76,105.39 316.32,105.39 316.89,105.39 317.45,105.39 318.02,105.39 318.58,105.39 319.15,105.39 319.71,105.39 320.28,105.39" fill="none" stroke="#000" stroke-width="2.1" stroke-linejoin="round"/>
<polyline points="211.8,102.63 212.25,102.63 212.7,102.63 213.16,102.63 213.61,102.63 214.06,102.63 214.51,102.63 214.96,102.63 215.42,102.63 215.87,102.63 216.32,102.63 216.77,102.63 217.22,102.63 217.68,102.63 218.13,102.63 218.58,102.63 219.03,102.63 219.48,102.63 219.94,102.63 220.39,102.63 220.84,102.63 221.29,102.63 221.74,102.63 222.2,102.63 222.65,102.63 223.1,102.63 223.55,102.63 224,102.63 224.46,102.63 224.91,102.63 225.36,102.63 225.81,102.63 226.26,102.63 226.72,102.63 227.17,102.63 227.62,102.63 228.07,102.63 228.52,102.63 228.98,102.63 229.43,102.63 229.88,102.63 230.33,102.63 230.78,102.63 231.24,102.63 231.69,102.63 232.14,102.63 232.59,102.63 233.04,102.63 233.5,102.63 233.95,102.63 234.4,102.63 234.85,102.63 235.3,102.63 235.76,102.63 236.21,102.63 236.66,102.63 237.11,102.63 237.56,102.63 238.02,102.63 238.47,102.63 238.92,102.63 239.37,102.63 239.82,102.63 240.28,102.64 240.73,102.64 241.18,102.65 241.63,102.67 242.08,102.69 242.54,102.73 242.99,102.78 243.44,102.86 243.89,102.96 244.34,103.1 244.8,103.29 245.25,103.51 245.7,103.79 246.15,104.12 246.6,104.49 247.06,104.9 247.51,105.32 247.96,105.73 248.41,106.12 248.86,106.45 249.32,106.71 249.77,106.87 250.22,106.93 250.67,106.87 251.12,106.71 251.58,106.45 252.03,106.12 252.48,105.73 252.93,105.32 253.38,104.9 253.84,104.49 254.29,104.12 254.74,103.79 255.19,103.51 255.64,103.29 256.1,103.1 256.55,102.96 257.56,103.86 261.52,44.3 262.42,62.63 262.88,68.12 263.33,72.33 263.78,75.65 264.23,78.33 264.68,80.55 265.14,82.42 265.59,84.01 266.04,85.37 266.49,86.57 266.94,87.61 267.4,88.54 267.85,89.37 268.3,90.11 268.75,90.78 269.2,91.39 269.66,91.95 270.11,92.45 270.56,92.92 271.01,93.35 271.46,93.74 271.92,94.11 272.37,94.45 272.82,94.77 273.27,95.07 273.72,95.35 274.18,95.61 274.63,95.86 275.08,96.09 275.53,96.31 275.98,96.52 276.44,96.71 276.89,96.9 277.34,97.07 277.79,97.24 278.24,97.4 278.7,97.55 279.15,97.7 279.6,97.84 280.05,97.97 280.5,98.09 280.96,98.22 281.41,98.33 281.86,98.44 282.31,98.55 282.76,98.65 283.22,98.75 283.67,98.85 284.12,98.94 284.57,99.03 285.02,99.11 285.48,99.2 285.93,99.28 286.38,99.35 286.83,99.43 287.28,99.5 287.74,99.57 288.19,99.64 288.64,99.7 289.09,99.77 289.54,99.83 290,99.89 290.45,99.95 290.9,100 291.35,100.06 291.8,100.11 292.26,100.16 292.71,100.21 293.16,100.26 293.61,100.31 294.06,100.35 294.52,100.4 294.97,100.44 295.42,100.49 295.87,100.53 296.32,100.57 296.78,100.61 297.23,100.65 297.68,100.69 298.13,100.72 298.58,100.76 299.04,100.8 299.49,100.83 299.94,100.86 300.39,100.9 300.84,100.93 301.3,100.96 301.75,100.99 302.2,101.02 302.65,101.05 303.1,101.08 303.56,101.11 304.01,101.14 304.46,101.16 304.91,101.19 305.36,101.22 305.82,101.24 306.27,101.27 306.72,101.29 307.17,101.32 307.62,101.34 308.08,101.36 308.53,101.39 308.98,101.41 309.43,101.43 309.88,101.45 310.34,101.48 310.79,101.5 311.24,101.52 311.69,101.54 312.14,101.56 312.6,101.58 313.05,101.6 313.5,101.62 313.95,101.63 314.4,101.65 314.86,101.67 315.31,101.69 315.76,101.71 316.21,101.72 316.66,101.74 317.12,101.76 317.57,101.77 318.02,101.79 318.47,101.8 318.92,101.82 319.38,101.84 319.83,101.85" fill="none" stroke="#ff0000" stroke-width="1.8" stroke-linejoin="round"/>
</g>
<line x1="215.8" y1="105.7" x2="218.3" y2="105.7" stroke="#000" stroke-width="0.8"/>
<line x1="215.8" y1="99.56" x2="217.3" y2="99.56" stroke="#000" stroke-width="0.8"/>
<text x="214" y="107.7" font-size="5.6" font-weight="bold" text-anchor="end" fill="#000" font-family='"Liberation Sans", sans-serif' font-style="normal" textLength="6.8" lengthAdjust="spacingAndGlyphs">0.0</text>
<line x1="215.8" y1="93.42" x2="218.3" y2="93.42" stroke="#000" stroke-width="0.8"/>
<line x1="215.8" y1="87.28" x2="217.3" y2="87.28" stroke="#000" stroke-width="0.8"/>
<text x="214" y="95.42" font-size="5.6" font-weight="bold" text-anchor="end" fill="#000" font-family='"Liberation Sans", sans-serif' font-style="normal" textLength="6.8" lengthAdjust="spacingAndGlyphs">0.2</text>
<line x1="215.8" y1="81.14" x2="218.3" y2="81.14" stroke="#000" stroke-width="0.8"/>
<line x1="215.8" y1="75" x2="217.3" y2="75" stroke="#000" stroke-width="0.8"/>
<text x="214" y="83.14" font-size="5.6" font-weight="bold" text-anchor="end" fill="#000" font-family='"Liberation Sans", sans-serif' font-style="normal" textLength="6.8" lengthAdjust="spacingAndGlyphs">0.4</text>
<line x1="215.8" y1="68.86" x2="218.3" y2="68.86" stroke="#000" stroke-width="0.8"/>
<line x1="215.8" y1="62.72" x2="217.3" y2="62.72" stroke="#000" stroke-width="0.8"/>
<text x="214" y="70.86" font-size="5.6" font-weight="bold" text-anchor="end" fill="#000" font-family='"Liberation Sans", sans-serif' font-style="normal" textLength="6.8" lengthAdjust="spacingAndGlyphs">0.6</text>
<line x1="215.8" y1="56.58" x2="218.3" y2="56.58" stroke="#000" stroke-width="0.8"/>
<line x1="215.8" y1="50.44" x2="217.3" y2="50.44" stroke="#000" stroke-width="0.8"/>
<text x="214" y="58.58" font-size="5.6" font-weight="bold" text-anchor="end" fill="#000" font-family='"Liberation Sans", sans-serif' font-style="normal" textLength="6.8" lengthAdjust="spacingAndGlyphs">0.8</text>
<line x1="215.8" y1="44.3" x2="218.3" y2="44.3" stroke="#000" stroke-width="0.8"/>
<text x="214" y="46.3" font-size="5.6" font-weight="bold" text-anchor="end" fill="#000" font-family='"Liberation Sans", sans-serif' font-style="normal" textLength="6.8" lengthAdjust="spacingAndGlyphs">1.0</text>
<line x1="215.8" y1="111.84" x2="217.3" y2="111.84" stroke="#000" stroke-width="0.8"/>
<line x1="223.1" y1="115.4" x2="223.1" y2="112.9" stroke="#000" stroke-width="0.8"/>
<text x="223.1" y="121.3" font-size="5.6" font-weight="bold" text-anchor="middle" fill="#000" font-family='"Liberation Sans", sans-serif' font-style="normal" textLength="14.5" lengthAdjust="spacingAndGlyphs">599.6</text>
<line x1="245.7" y1="115.4" x2="245.7" y2="112.9" stroke="#000" stroke-width="0.8"/>
<line x1="234.4" y1="115.4" x2="234.4" y2="113.9" stroke="#000" stroke-width="0.8"/>
<text x="245.7" y="121.3" font-size="5.6" font-weight="bold" text-anchor="middle" fill="#000" font-family='"Liberation Sans", sans-serif' font-style="normal" textLength="14.5" lengthAdjust="spacingAndGlyphs">599.8</text>
<line x1="268.3" y1="115.4" x2="268.3" y2="112.9" stroke="#000" stroke-width="0.8"/>
<line x1="257" y1="115.4" x2="257" y2="113.9" stroke="#000" stroke-width="0.8"/>
<text x="268.3" y="121.3" font-size="5.6" font-weight="bold" text-anchor="middle" fill="#000" font-family='"Liberation Sans", sans-serif' font-style="normal" textLength="14.5" lengthAdjust="spacingAndGlyphs">600.0</text>
<line x1="290.9" y1="115.4" x2="290.9" y2="112.9" stroke="#000" stroke-width="0.8"/>
<line x1="279.6" y1="115.4" x2="279.6" y2="113.9" stroke="#000" stroke-width="0.8"/>
<text x="290.9" y="121.3" font-size="5.6" font-weight="bold" text-anchor="middle" fill="#000" font-family='"Liberation Sans", sans-serif' font-style="normal" textLength="14.5" lengthAdjust="spacingAndGlyphs">600.2</text>
<line x1="313.5" y1="115.4" x2="313.5" y2="112.9" stroke="#000" stroke-width="0.8"/>
<line x1="302.2" y1="115.4" x2="302.2" y2="113.9" stroke="#000" stroke-width="0.8"/>
<text x="313.5" y="121.3" font-size="5.6" font-weight="bold" text-anchor="middle" fill="#000" font-family='"Liberation Sans", sans-serif' font-style="normal" textLength="14.5" lengthAdjust="spacingAndGlyphs">600.4</text>
<clipPath id="clipA"><rect x="43.3" y="4.9" width="276.4" height="192.7"/></clipPath>
<g clip-path="url(#clipA)">
<polyline points="43.3,177.72 113.02,177.72 141.48,179 319.7,179.32" fill="none" stroke="#000" stroke-width="2.2" stroke-linejoin="round"/>
<path d="M41.66,178.56 L43.46,175.36 L45.26,178.56Z" fill="#000"/>
<path d="M42.93,177.68 L44.73,174.48 L46.53,177.68Z" fill="#000"/>
<path d="M44.2,178.18 L46,174.98 L47.8,178.18Z" fill="#000"/>
<path d="M45.48,177.51 L47.28,174.31 L49.08,177.51Z" fill="#000"/>
<path d="M46.75,177.45 L48.55,174.25 L50.35,177.45Z" fill="#000"/>
<path d="M48.02,179.05 L49.82,175.85 L51.62,179.05Z" fill="#000"/>
<path d="M49.3,179.21 L51.1,176.01 L52.9,179.21Z" fill="#000"/>
<path d="M50.57,176.84 L52.37,173.64 L54.17,176.84Z" fill="#000"/>
<path d="M51.84,178.5 L53.64,175.3 L55.44,178.5Z" fill="#000"/>
<path d="M53.12,178.57 L54.92,175.37 L56.72,178.57Z" fill="#000"/>
<path d="M54.39,176.38 L56.19,173.18 L57.99,176.38Z" fill="#000"/>
<path d="M55.66,177.89 L57.46,174.69 L59.26,177.89Z" fill="#000"/>
<path d="M56.93,176.84 L58.73,173.64 L60.53,176.84Z" fill="#000"/>
<path d="M58.21,177.88 L60.01,174.68 L61.81,177.88Z" fill="#000"/>
<path d="M59.48,177.41 L61.28,174.21 L63.08,177.41Z" fill="#000"/>
<path d="M60.75,178.81 L62.55,175.61 L64.35,178.81Z" fill="#000"/>
<path d="M62.03,177.42 L63.83,174.22 L65.63,177.42Z" fill="#000"/>
<path d="M63.3,176.75 L65.1,173.55 L66.9,176.75Z" fill="#000"/>
<path d="M64.57,177.74 L66.37,174.54 L68.17,177.74Z" fill="#000"/>
<path d="M65.85,177.11 L67.65,173.91 L69.45,177.11Z" fill="#000"/>
<path d="M67.12,177.32 L68.92,174.12 L70.72,177.32Z" fill="#000"/>
<path d="M68.39,179.06 L70.19,175.86 L71.99,179.06Z" fill="#000"/>
<path d="M69.66,177.07 L71.46,173.87 L73.26,177.07Z" fill="#000"/>
<path d="M70.94,177.55 L72.74,174.35 L74.54,177.55Z" fill="#000"/>
<path d="M72.21,178.38 L74.01,175.18 L75.81,178.38Z" fill="#000"/>
<path d="M73.48,179.15 L75.28,175.95 L77.08,179.15Z" fill="#000"/>
<path d="M74.76,176.76 L76.56,173.56 L78.36,176.76Z" fill="#000"/>
<path d="M76.03,177.89 L77.83,174.69 L79.63,177.89Z" fill="#000"/>
<path d="M77.3,177.18 L79.1,173.98 L80.9,177.18Z" fill="#000"/>
<path d="M78.58,176.72 L80.38,173.52 L82.18,176.72Z" fill="#000"/>
<path d="M79.85,177.19 L81.65,173.99 L83.45,177.19Z" fill="#000"/>
<path d="M81.12,176.6 L82.92,173.4 L84.72,176.6Z" fill="#000"/>
<path d="M82.39,178.11 L84.19,174.91 L85.99,178.11Z" fill="#000"/>
<path d="M83.67,176.94 L85.47,173.74 L87.27,176.94Z" fill="#000"/>
<path d="M84.94,177.97 L86.74,174.77 L88.54,177.97Z" fill="#000"/>
<path d="M86.21,176.56 L88.01,173.36 L89.81,176.56Z" fill="#000"/>
<path d="M87.49,176.72 L89.29,173.52 L91.09,176.72Z" fill="#000"/>
<path d="M88.76,178.96 L90.56,175.76 L92.36,178.96Z" fill="#000"/>
<path d="M90.03,178.85 L91.83,175.65 L93.63,178.85Z" fill="#000"/>
<path d="M91.31,178.62 L93.11,175.42 L94.91,178.62Z" fill="#000"/>
<path d="M92.58,176.47 L94.38,173.27 L96.18,176.47Z" fill="#000"/>
<path d="M93.85,177.99 L95.65,174.79 L97.45,177.99Z" fill="#000"/>
<path d="M95.12,177.44 L96.92,174.24 L98.72,177.44Z" fill="#000"/>
<path d="M96.4,178.38 L98.2,175.18 L100,178.38Z" fill="#000"/>
<path d="M97.67,177.79 L99.47,174.59 L101.27,177.79Z" fill="#000"/>
<path d="M98.94,178.14 L100.74,174.94 L102.54,178.14Z" fill="#000"/>
<path d="M100.22,178.24 L102.02,175.04 L103.82,178.24Z" fill="#000"/>
<path d="M101.49,177.56 L103.29,174.36 L105.09,177.56Z" fill="#000"/>
<path d="M102.76,177.57 L104.56,174.37 L106.36,177.57Z" fill="#000"/>
<path d="M104.04,176.65 L105.84,173.45 L107.64,176.65Z" fill="#000"/>
<path d="M105.31,177.29 L107.11,174.09 L108.91,177.29Z" fill="#000"/>
<path d="M106.58,176.58 L108.38,173.38 L110.18,176.58Z" fill="#000"/>
<path d="M107.86,176.78 L109.66,173.58 L111.45,176.78Z" fill="#000"/>
<path d="M109.13,176.4 L110.93,173.2 L112.73,176.4Z" fill="#000"/>
<path d="M110.4,177.32 L112.2,174.12 L114,177.32Z" fill="#000"/>
<path d="M111.67,178.77 L113.47,175.57 L115.27,178.77Z" fill="#000"/>
<path d="M112.95,176.77 L114.75,173.57 L116.55,176.77Z" fill="#000"/>
<path d="M114.22,176.47 L116.02,173.27 L117.82,176.47Z" fill="#000"/>
<path d="M115.49,176.65 L117.29,173.45 L119.09,176.65Z" fill="#000"/>
<path d="M116.77,177.61 L118.57,174.41 L120.37,177.61Z" fill="#000"/>
<path d="M118.04,177.19 L119.84,173.99 L121.64,177.19Z" fill="#000"/>
<path d="M119.31,178.64 L121.11,175.44 L122.91,178.64Z" fill="#000"/>
<path d="M120.58,176.86 L122.38,173.66 L124.18,176.86Z" fill="#000"/>
<path d="M121.86,177.6 L123.66,174.4 L125.46,177.6Z" fill="#000"/>
<path d="M123.13,178.42 L124.93,175.22 L126.73,178.42Z" fill="#000"/>
<path d="M124.4,179.06 L126.2,175.86 L128,179.06Z" fill="#000"/>
<path d="M125.68,176.79 L127.48,173.59 L129.28,176.79Z" fill="#000"/>
<path d="M126.95,176.4 L128.75,173.2 L130.55,176.4Z" fill="#000"/>
<path d="M128.22,178.99 L130.02,175.79 L131.82,178.99Z" fill="#000"/>
<path d="M129.5,176.94 L131.3,173.74 L133.1,176.94Z" fill="#000"/>
<path d="M117.84,179.36 L119.84,175.86 L121.84,179.36Z" fill="#000"/>
<path d="M120.38,179.36 L122.38,175.86 L124.38,179.36Z" fill="#000"/>
<path d="M122.93,179.36 L124.93,175.86 L126.93,179.36Z" fill="#000"/>
<path d="M125.48,179.36 L127.48,175.86 L129.48,179.36Z" fill="#000"/>
<path d="M128.02,179.36 L130.02,175.86 L132.02,179.36Z" fill="#000"/>
<path d="M130.57,179.36 L132.57,175.86 L134.57,179.36Z" fill="#000"/>
<path d="M164.94,179.36 L166.94,175.86 L168.94,179.36Z" fill="#000"/>
<path d="M190.4,179.36 L192.4,175.86 L194.4,179.36Z" fill="#000"/>
<path d="M215.86,179.36 L217.86,175.86 L219.86,179.36Z" fill="#000"/>
<path d="M241.32,179.36 L243.32,175.86 L245.32,179.36Z" fill="#000"/>
<path d="M266.78,179.36 L268.78,175.86 L270.78,179.36Z" fill="#000"/>
<path d="M292.24,179.36 L294.24,175.86 L296.24,179.36Z" fill="#000"/>
<rect x="112.72" y="99.25" width="6.6" height="74.97" rx="2" fill="#000"/>
<rect x="114.42" y="16.31" width="3.2" height="162.69" fill="#000"/>
<path d="M112.32,20.3 L116.02,15.3 L119.72,20.3Z" fill="#000"/>
<path d="M112.32,26.5 L116.02,21.5 L119.72,26.5Z" fill="#000"/>
<path d="M112.32,32.7 L116.02,27.7 L119.72,32.7Z" fill="#000"/>
<path d="M112.32,38.9 L116.02,33.9 L119.72,38.9Z" fill="#000"/>
<path d="M112.32,48.2 L116.02,43.2 L119.72,48.2Z" fill="#000"/>
<path d="M112.32,58.5 L116.02,53.5 L119.72,58.5Z" fill="#000"/>
<path d="M112.32,67.8 L116.02,62.8 L119.72,67.8Z" fill="#000"/>
<path d="M112.32,77.1 L116.02,72.1 L119.72,77.1Z" fill="#000"/>
<path d="M112.32,86.4 L116.02,81.4 L119.72,86.4Z" fill="#000"/>
<path d="M112.32,94.6 L116.02,89.6 L119.72,94.6Z" fill="#000"/>
<polyline points="42.19,166.56 52.37,168.47 65.1,170.71 77.83,171.98 90.56,172.94 103.29,171.98 110.93,171.03 114.75,170.23 115.64,169.43 116.4,169.43 117.29,169.91 128.75,167.84 141.48,164.8 166.94,158.58 192.4,152.04 217.86,146.3 243.32,140.72 268.78,134.82 294.24,127.96 322.25,119.98" fill="none" stroke="#ff0000" stroke-width="2.6" stroke-linejoin="round"/>
<rect x="114.62" y="19.5" width="2.8" height="162.69" fill="#ff0000"/>
<polyline points="42.19,168.63 65.1,175.33 90.56,178.84 116.02,176.45 141.48,159.86 166.94,133.86 192.4,99.73 217.86,63.52 243.32,35.61 268.78,19.5 294.24,19.5 322.25,31.46" fill="none" stroke="#0000ff" stroke-width="3.2" stroke-linejoin="round"/>
<path d="M62.1,177.33 L65.1,172.33 L68.1,177.33Z" fill="#0000ff"/>
<path d="M87.56,180.84 L90.56,175.84 L93.56,180.84Z" fill="#0000ff"/>
<path d="M113.02,178.45 L116.02,173.45 L119.02,178.45Z" fill="#0000ff"/>
<path d="M138.48,161.86 L141.48,156.86 L144.48,161.86Z" fill="#0000ff"/>
<path d="M163.94,135.86 L166.94,130.86 L169.94,135.86Z" fill="#0000ff"/>
<path d="M189.4,101.73 L192.4,96.73 L195.4,101.73Z" fill="#0000ff"/>
<path d="M214.86,65.52 L217.86,60.52 L220.86,65.52Z" fill="#0000ff"/>
<path d="M240.32,37.61 L243.32,32.61 L246.32,37.61Z" fill="#0000ff"/>
<path d="M265.78,21.5 L268.78,16.5 L271.78,21.5Z" fill="#0000ff"/>
<path d="M291.24,21.5 L294.24,16.5 L297.24,21.5Z" fill="#0000ff"/>
<path d="M112.82,179 L115.02,163.05 L117.02,163.05 L119.22,179Z" fill="#0000ff"/>
</g>
<rect x="43.3" y="4.9" width="276.4" height="192.7" fill="none" stroke="#000" stroke-width="2.2"/>
<line x1="43.3" y1="194.95" x2="48.8" y2="194.95" stroke="#000" stroke-width="1.6"/>
<line x1="43.3" y1="186.97" x2="46.8" y2="186.97" stroke="#000" stroke-width="1.6"/>
<line x1="43.3" y1="179" x2="48.8" y2="179" stroke="#000" stroke-width="1.6"/>
<line x1="43.3" y1="171.03" x2="46.8" y2="171.03" stroke="#000" stroke-width="1.6"/>
<line x1="43.3" y1="163.05" x2="48.8" y2="163.05" stroke="#000" stroke-width="1.6"/>
<line x1="43.3" y1="155.07" x2="46.8" y2="155.07" stroke="#000" stroke-width="1.6"/>
<line x1="43.3" y1="147.1" x2="48.8" y2="147.1" stroke="#000" stroke-width="1.6"/>
<line x1="43.3" y1="139.12" x2="46.8" y2="139.12" stroke="#000" stroke-width="1.6"/>
<line x1="43.3" y1="131.15" x2="48.8" y2="131.15" stroke="#000" stroke-width="1.6"/>
<line x1="43.3" y1="123.17" x2="46.8" y2="123.17" stroke="#000" stroke-width="1.6"/>
<line x1="43.3" y1="115.2" x2="48.8" y2="115.2" stroke="#000" stroke-width="1.6"/>
<line x1="43.3" y1="107.22" x2="46.8" y2="107.22" stroke="#000" stroke-width="1.6"/>
<line x1="43.3" y1="99.25" x2="48.8" y2="99.25" stroke="#000" stroke-width="1.6"/>
<line x1="43.3" y1="91.27" x2="46.8" y2="91.27" stroke="#000" stroke-width="1.6"/>
<line x1="43.3" y1="83.3" x2="48.8" y2="83.3" stroke="#000" stroke-width="1.6"/>
<line x1="43.3" y1="75.33" x2="46.8" y2="75.33" stroke="#000" stroke-width="1.6"/>
<line x1="43.3" y1="67.35" x2="48.8" y2="67.35" stroke="#000" stroke-width="1.6"/>
<line x1="43.3" y1="59.38" x2="46.8" y2="59.38" stroke="#000" stroke-width="1.6"/>
<line x1="43.3" y1="51.4" x2="48.8" y2="51.4" stroke="#000" stroke-width="1.6"/>
<line x1="43.3" y1="43.42" x2="46.8" y2="43.42" stroke="#000" stroke-width="1.6"/>
<line x1="43.3" y1="35.45" x2="48.8" y2="35.45" stroke="#000" stroke-width="1.6"/>
<line x1="43.3" y1="27.47" x2="46.8" y2="27.47" stroke="#000" stroke-width="1.6"/>
<line x1="43.3" y1="19.5" x2="48.8" y2="19.5" stroke="#000" stroke-width="1.6"/>
<line x1="43.3" y1="11.53" x2="46.8" y2="11.53" stroke="#000" stroke-width="1.6"/>
<text x="37.9" y="198.65" font-size="11" font-weight="bold" text-anchor="end" fill="#000" font-family='"Liberation Sans", sans-serif' font-style="normal" textLength="19.5" lengthAdjust="spacingAndGlyphs">-0.1</text>
<text x="37.9" y="182.7" font-size="11" font-weight="bold" text-anchor="end" fill="#000" font-family='"Liberation Sans", sans-serif' font-style="normal" textLength="15.3" lengthAdjust="spacingAndGlyphs">0.0</text>
<text x="37.9" y="166.75" font-size="11" font-weight="bold" text-anchor="end" fill="#000" font-family='"Liberation Sans", sans-serif' font-style="normal" textLength="15.3" lengthAdjust="spacingAndGlyphs">0.1</text>
<text x="37.9" y="150.8" font-size="11" font-weight="bold" text-anchor="end" fill="#000" font-family='"Liberation Sans", sans-serif' font-style="normal" textLength="15.3" lengthAdjust="spacingAndGlyphs">0.2</text>
<text x="37.9" y="134.85" font-size="11" font-weight="bold" text-anchor="end" fill="#000" font-family='"Liberation Sans", sans-serif' font-style="normal" textLength="15.3" lengthAdjust="spacingAndGlyphs">0.3</text>
<text x="37.9" y="118.9" font-size="11" font-weight="bold" text-anchor="end" fill="#000" font-family='"Liberation Sans", sans-serif' font-style="normal" textLength="15.3" lengthAdjust="spacingAndGlyphs">0.4</text>
<text x="37.9" y="102.95" font-size="11" font-weight="bold" text-anchor="end" fill="#000" font-family='"Liberation Sans", sans-serif' font-style="normal" textLength="15.3" lengthAdjust="spacingAndGlyphs">0.5</text>
<text x="37.9" y="87" font-size="11" font-weight="bold" text-anchor="end" fill="#000" font-family='"Liberation Sans", sans-serif' font-style="normal" textLength="15.3" lengthAdjust="spacingAndGlyphs">0.6</text>
<text x="37.9" y="71.05" font-size="11" font-weight="bold" text-anchor="end" fill="#000" font-family='"Liberation Sans", sans-serif' font-style="normal" textLength="15.3" lengthAdjust="spacingAndGlyphs">0.7</text>
<text x="37.9" y="55.1" font-size="11" font-weight="bold" text-anchor="end" fill="#000" font-family='"Liberation Sans", sans-serif' font-style="normal" textLength="15.3" lengthAdjust="spacingAndGlyphs">0.8</text>
<text x="37.9" y="39.15" font-size="11" font-weight="bold" text-anchor="end" fill="#000" font-family='"Liberation Sans", sans-serif' font-style="normal" textLength="15.3" lengthAdjust="spacingAndGlyphs">0.9</text>
<text x="37.9" y="23.2" font-size="11" font-weight="bold" text-anchor="end" fill="#000" font-family='"Liberation Sans", sans-serif' font-style="normal" textLength="15.3" lengthAdjust="spacingAndGlyphs">1.0</text>
<line x1="65.1" y1="197.6" x2="65.1" y2="192.6" stroke="#000" stroke-width="1.6"/>
<text x="65.1" y="210.8" font-size="11" font-weight="bold" text-anchor="middle" fill="#000" font-family='"Liberation Sans", sans-serif' font-style="normal" textLength="18.5" lengthAdjust="spacingAndGlyphs">580</text>
<line x1="90.56" y1="197.6" x2="90.56" y2="194.6" stroke="#000" stroke-width="1.6"/>
<line x1="116.02" y1="197.6" x2="116.02" y2="192.6" stroke="#000" stroke-width="1.6"/>
<text x="116.02" y="210.8" font-size="11" font-weight="bold" text-anchor="middle" fill="#000" font-family='"Liberation Sans", sans-serif' font-style="normal" textLength="18.5" lengthAdjust="spacingAndGlyphs">600</text>
<line x1="141.48" y1="197.6" x2="141.48" y2="194.6" stroke="#000" stroke-width="1.6"/>
<line x1="166.94" y1="197.6" x2="166.94" y2="192.6" stroke="#000" stroke-width="1.6"/>
<text x="166.94" y="210.8" font-size="11" font-weight="bold" text-anchor="middle" fill="#000" font-family='"Liberation Sans", sans-serif' font-style="normal" textLength="18.5" lengthAdjust="spacingAndGlyphs">620</text>
<line x1="192.4" y1="197.6" x2="192.4" y2="194.6" stroke="#000" stroke-width="1.6"/>
<line x1="217.86" y1="197.6" x2="217.86" y2="192.6" stroke="#000" stroke-width="1.6"/>
<text x="217.86" y="210.8" font-size="11" font-weight="bold" text-anchor="middle" fill="#000" font-family='"Liberation Sans", sans-serif' font-style="normal" textLength="18.5" lengthAdjust="spacingAndGlyphs">640</text>
<line x1="243.32" y1="197.6" x2="243.32" y2="194.6" stroke="#000" stroke-width="1.6"/>
<line x1="268.78" y1="197.6" x2="268.78" y2="192.6" stroke="#000" stroke-width="1.6"/>
<text x="268.78" y="210.8" font-size="11" font-weight="bold" text-anchor="middle" fill="#000" font-family='"Liberation Sans", sans-serif' font-style="normal" textLength="18.5" lengthAdjust="spacingAndGlyphs">660</text>
<line x1="294.24" y1="197.6" x2="294.24" y2="194.6" stroke="#000" stroke-width="1.6"/>
<line x1="319.7" y1="197.6" x2="319.7" y2="192.6" stroke="#000" stroke-width="1.6"/>
<text x="319.7" y="210.8" font-size="11" font-weight="bold" text-anchor="middle" fill="#000" font-family='"Liberation Sans", sans-serif' font-style="normal" textLength="18.5" lengthAdjust="spacingAndGlyphs">680</text>
<text x="182" y="228.7" font-size="10.6" font-weight="bold" text-anchor="middle" fill="#000" font-family='"Liberation Sans", sans-serif' font-style="normal" textLength="83.4" lengthAdjust="spacingAndGlyphs">Frequency (THz)</text>
<text x="10" y="108.2" font-size="10.2" font-weight="bold" text-anchor="middle" fill="#000" font-family='"Liberation Sans", sans-serif' font-style="normal" textLength="180" lengthAdjust="spacingAndGlyphs" transform="rotate(-90 10 108.2)">Scattering cross section (Normalized)</text>
<text x="57.4" y="29" font-size="22" font-weight="bold" text-anchor="start" fill="#000" font-family='"Liberation Sans", sans-serif' font-style="normal" textLength="24.4" lengthAdjust="spacingAndGlyphs">(a)</text>
<rect x="223.3" y="145.6" width="94.4" height="31.3" fill="#fff" stroke="#8a8a8a" stroke-width="0.8"/>
<line x1="225.6" y1="151.1" x2="248.6" y2="151.1" stroke="#000" stroke-width="2.9" stroke-linecap="round"/>
<path d="M233.5,152.9 L236.5,148.5 L239.5,152.9Z" fill="#000"/>
<text x="250.6" y="154.4" font-size="9.3" font-weight="bold" text-anchor="start" fill="#000" font-family='"Liberation Sans", sans-serif' font-style="normal" textLength="53.8" lengthAdjust="spacingAndGlyphs">Smaller size</text>
<line x1="226" y1="161.85" x2="233.6" y2="161.85" stroke="#ff0000" stroke-width="2.9" stroke-linecap="round"/>
<line x1="237" y1="161.85" x2="237.6" y2="161.85" stroke="#ff0000" stroke-width="2.9" stroke-linecap="round"/>
<line x1="241" y1="161.85" x2="248" y2="161.85" stroke="#ff0000" stroke-width="2.9" stroke-linecap="round"/>
<text x="250.6" y="165.15" font-size="9.3" font-weight="bold" text-anchor="start" fill="#000" font-family='"Liberation Sans", sans-serif' font-style="normal" textLength="65.2" lengthAdjust="spacingAndGlyphs">Optimized size</text>
<line x1="225.6" y1="172.6" x2="248.6" y2="172.6" stroke="#0000ff" stroke-width="2.9" stroke-linecap="round"/>
<path d="M233.5,174.4 L236.5,170 L239.5,174.4Z" fill="#0000ff"/>
<text x="250.6" y="175.9" font-size="9.3" font-weight="bold" text-anchor="start" fill="#000" font-family='"Liberation Sans", sans-serif' font-style="normal" textLength="49.1" lengthAdjust="spacingAndGlyphs">Larger size</text>
<path d="M441.5,432.1 L441.58,431.81 L441.67,431.48 L441.79,431.1 L441.92,430.64 L442.06,430.08 L442.21,429.38 L442.35,428.53 L442.5,427.5 L442.65,426.26 L442.8,424.81 L442.96,423.2 L443.12,421.46 L443.28,419.64 L443.45,417.76 L443.63,415.87 L443.8,414 L443.98,412.1 L444.15,410.12 L444.33,408.09 L444.52,406.02 L444.71,403.95 L444.9,401.9 L445.1,399.91 L445.3,398 L445.51,396.16 L445.73,394.35 L445.96,392.57 L446.19,390.83 L446.42,389.12 L446.65,387.45 L446.88,385.81 L447.1,384.2 L447.32,382.59 L447.53,380.96 L447.74,379.34 L447.94,377.77 L448.15,376.27 L448.36,374.87 L448.58,373.6 L448.8,372.5 L449.03,371.55 L449.26,370.72 L449.49,370.01 L449.72,369.41 L449.96,368.91 L450.21,368.51 L450.45,368.21 L450.7,368 L450.95,367.88 L451.2,367.86 L451.46,367.93 L451.72,368.11 L451.98,368.38 L452.25,368.75 L452.52,369.23 L452.8,369.8 L453.08,370.5 L453.36,371.33 L453.65,372.28 L453.94,373.33 L454.24,374.44 L454.54,375.6 L454.86,376.8 L455.2,378 L455.56,379.35 L455.95,380.94 L456.36,382.65 L456.78,384.36 L457.19,385.97 L457.59,387.35 L457.97,388.4 L458.3,389 L458.6,389.13 L458.89,388.88 L459.15,388.33 L459.39,387.54 L459.62,386.58 L459.83,385.53 L460.02,384.44 L460.2,383.4 L460.35,382.35 L460.47,381.2 L460.56,379.97 L460.64,378.66 L460.72,377.3 L460.8,375.9 L460.89,374.46 L461,373 L461.13,371.49 L461.27,369.89 L461.43,368.24 L461.58,366.55 L461.74,364.86 L461.9,363.18 L462.05,361.56 L462.2,360 L462.34,358.51 L462.48,357.08 L462.62,355.67 L462.76,354.29 L462.9,352.93 L463.03,351.56 L463.17,350.19 L463.3,348.8 L463.43,347.41 L463.56,346.03 L463.68,344.67 L463.81,343.29 L463.93,341.9 L464.05,340.48 L464.18,339.02 L464.3,337.5 L464.43,335.9 L464.55,334.23 L464.68,332.5 L464.81,330.75 L464.93,329 L465.06,327.27 L465.18,325.6 L465.3,324 L465.42,322.48 L465.53,321.02 L465.65,319.61 L465.76,318.22 L465.87,316.85 L465.98,315.48 L466.09,314.1 L466.2,312.7 L466.3,311.27 L466.41,309.83 L466.51,308.38 L466.61,306.94 L466.7,305.5 L466.8,304.07 L466.9,302.67 L467,301.3 L467.1,299.98 L467.18,298.72 L467.27,297.49 L467.36,296.28 L467.45,295.04 L467.55,293.77 L467.67,292.43 L467.8,291 L467.96,289.43 L468.14,287.73 L468.33,285.93 L468.53,284.11 L468.74,282.31 L468.94,280.59 L469.13,279 L469.3,277.6 L469.45,276.36 L469.6,275.23 L469.73,274.2 L469.86,273.26 L469.98,272.4 L470.11,271.63 L470.25,270.93 L470.4,270.3 L470.56,269.74 L470.72,269.26 L470.89,268.86 L471.06,268.54 L471.23,268.29 L471.41,268.12 L471.6,268.02 L471.8,268 L472,268.05 L472.21,268.19 L472.41,268.4 L472.63,268.68 L472.86,269.04 L473.09,269.46 L473.34,269.95 L473.6,270.5 L473.88,271.15 L474.18,271.92 L474.5,272.77 L474.82,273.69 L475.15,274.63 L475.47,275.56 L475.79,276.46 L476.1,277.3 L476.39,278.13 L476.67,278.99 L476.95,279.87 L477.22,280.72 L477.5,281.51 L477.78,282.21 L478.08,282.78 L478.4,283.2 L478.74,283.44 L479.09,283.52 L479.45,283.48 L479.82,283.35 L480.21,283.16 L480.6,282.93 L481,282.7 L481.4,282.5 L481.82,282.28 L482.27,282 L482.74,281.67 L483.21,281.34 L483.67,281.01 L484.11,280.73 L484.53,280.52 L484.9,280.4 L485.23,280.34 L485.52,280.29 L485.78,280.27 L486.02,280.32 L486.26,280.44 L486.49,280.66 L486.74,281.01 L487,281.5 L487.27,282.18 L487.55,283.06 L487.82,284.08 L488.1,285.19 L488.38,286.34 L488.68,287.48 L488.98,288.55 L489.3,289.5 L489.63,290.36 L489.96,291.2 L490.3,292.02 L490.66,292.79 L491.02,293.54 L491.4,294.24 L491.79,294.89 L492.2,295.5 L492.62,296.06 L493.05,296.58 L493.48,297.06 L493.94,297.5 L494.41,297.89 L494.91,298.24 L495.44,298.54 L496,298.8 L496.62,299 L497.3,299.15 L498.02,299.24 L498.76,299.29 L499.5,299.31 L500.22,299.29 L500.89,299.26 L501.5,299.2 L502.04,299.09 L502.53,298.89 L502.98,298.64 L503.4,298.37 L503.81,298.13 L504.22,297.93 L504.65,297.81 L505.1,297.8 L505.57,297.9 L506.04,298.06 L506.51,298.29 L506.99,298.58 L507.47,298.92 L507.97,299.31 L508.48,299.74 L509,300.2 L509.51,300.67 L510.01,301.13 L510.5,301.61 L511.01,302.15 L511.55,302.78 L512.15,303.52 L512.83,304.42 L513.6,305.5 L514.48,306.81 L515.46,308.34 L516.51,310.04 L517.62,311.84 L518.76,313.71 L519.92,315.58 L521.07,317.39 L522.2,319.1 L523.35,320.71 L524.55,322.28 L525.78,323.82 L527.01,325.36 L528.21,326.89 L529.34,328.45 L530.38,330.05 L531.3,331.7 L532.08,333.42 L532.75,335.21 L533.33,337.05 L533.85,338.9 L534.32,340.75 L534.77,342.56 L535.23,344.32 L535.7,346 L536.18,347.61 L536.64,349.16 L537.09,350.68 L537.52,352.16 L537.94,353.6 L538.36,355.02 L538.78,356.42 L539.2,357.8 L539.62,359.19 L540.05,360.61 L540.47,362.01 L540.88,363.39 L541.29,364.7 L541.7,365.92 L542.1,367.03 L542.5,368 L542.89,368.86 L543.26,369.65 L543.62,370.35 L543.99,370.95 L544.35,371.43 L544.72,371.78 L545.1,371.97 L545.5,372 L545.91,371.83 L546.32,371.48 L546.75,370.97 L547.18,370.32 L547.61,369.58 L548.06,368.76 L548.53,367.89 L549,367 L549.5,366.08 L550.02,365.08 L550.55,364.02 L551.1,362.89 L551.65,361.71 L552.18,360.46 L552.7,359.16 L553.2,357.8 L553.67,356.36 L554.12,354.84 L554.56,353.23 L554.99,351.58 L555.41,349.9 L555.83,348.21 L556.26,346.54 L556.7,344.9 L557.14,343.27 L557.58,341.62 L558.02,339.96 L558.46,338.3 L558.9,336.66 L559.36,335.06 L559.82,333.5 L560.3,332 L560.8,330.54 L561.31,329.08 L561.84,327.65 L562.38,326.26 L562.92,324.93 L563.46,323.68 L563.99,322.53 L564.5,321.5 L564.99,320.59 L565.47,319.79 L565.93,319.08 L566.39,318.45 L566.86,317.89 L567.35,317.39 L567.86,316.93 L568.4,316.5 L568.99,316.11 L569.62,315.76 L570.27,315.47 L570.94,315.23 L571.62,315.04 L572.27,314.91 L572.91,314.83 L573.5,314.8 L574.06,314.83 L574.61,314.93 L575.14,315.09 L575.66,315.3 L576.15,315.55 L576.62,315.84 L577.07,316.16 L577.5,316.5 L577.84,316.8 L578.08,317.02 L578.26,317.24 L578.44,317.52 L578.66,317.91 L578.98,318.48 L579.44,319.29 L580.1,320.4 L580.99,321.87 L582.06,323.67 L583.29,325.72 L584.61,327.94 L585.97,330.25 L587.34,332.59 L588.67,334.86 L589.9,337 L591.07,339.07 L592.23,341.16 L593.39,343.27 L594.52,345.36 L595.64,347.41 L596.73,349.4 L597.78,351.3 L598.8,353.1 L599.77,354.8 L600.69,356.43 L601.58,357.99 L602.44,359.48 L603.28,360.9 L604.12,362.26 L604.95,363.56 L605.8,364.8 L606.65,365.98 L607.49,367.11 L608.32,368.17 L609.14,369.18 L609.97,370.11 L610.8,370.98 L611.65,371.78 L612.5,372.5 L613.37,373.16 L614.25,373.75 L615.14,374.28 L616.04,374.73 L616.93,375.11 L617.83,375.42 L618.72,375.65 L619.6,375.8 L620.47,375.86 L621.33,375.82 L622.18,375.7 L623.04,375.51 L623.89,375.25 L624.75,374.94 L625.62,374.59 L626.5,374.2 L627.38,373.8 L628.25,373.38 L629.12,372.93 L629.99,372.42 L630.89,371.84 L631.82,371.15 L632.78,370.35 L633.8,369.4 L634.9,368.26 L636.09,366.93 L637.33,365.46 L638.6,363.9 L639.85,362.3 L641.06,360.72 L642.19,359.2 L643.2,357.8 L644.13,356.44 L645.02,355.03 L645.86,353.63 L646.64,352.28 L647.34,351.01 L647.96,349.88 L648.49,348.93 L648.9,348.2" fill="none" stroke="#0a0a80" stroke-width="2.9" stroke-dasharray="0,0,4.71,9.79,9.71,11.99,12.06,8,12.68,25.61,10.43,13.06,11.25,11.34,13.54,11.34,11.43,10.33,13.48,8.47,12.18,9.24,4.88,12.53,12.78,6.21,58.78,12.31,32.31,13.37,31.11,14.61,37.67,13.64,34.13,14.94,11.17,1000" stroke-linecap="butt"/>
<line x1="412.8" y1="303.8" x2="673.5" y2="303.8" stroke="#000" stroke-width="1.8" stroke-dasharray="1.6,6.66"/>
<line x1="513.56" y1="306.4" x2="513.56" y2="454.1" stroke="#000" stroke-width="1.8" stroke-dasharray="1.6,6.9"/>
<rect x="435.4" y="425.4" width="5.2" height="5.2" fill="#e2e2e2" stroke="#9a9a9a" stroke-width="0.6"/>
<path d="M436.3,426.3 L439.7,429.7 M439.7,426.3 L436.3,429.7" stroke="#3a3a3a" stroke-width="0.8"/>
<rect x="440.4" y="425.4" width="5.2" height="5.2" fill="#e2e2e2" stroke="#9a9a9a" stroke-width="0.6"/>
<path d="M441.3,426.3 L444.7,429.7 M444.7,426.3 L441.3,429.7" stroke="#3a3a3a" stroke-width="0.8"/>
<rect x="444.52" y="381.65" width="5.2" height="5.2" fill="#e2e2e2" stroke="#9a9a9a" stroke-width="0.6"/>
<path d="M445.42,382.55 L448.82,385.95 M448.82,382.55 L445.42,385.95" stroke="#3a3a3a" stroke-width="0.8"/>
<rect x="451.57" y="374.48" width="5.2" height="5.2" fill="#e2e2e2" stroke="#9a9a9a" stroke-width="0.6"/>
<path d="M452.47,375.38 L455.87,378.78 M455.87,375.38 L452.47,378.78" stroke="#3a3a3a" stroke-width="0.8"/>
<rect x="454.81" y="389.66" width="5.2" height="5.2" fill="#e2e2e2" stroke="#9a9a9a" stroke-width="0.6"/>
<path d="M455.71,390.56 L459.11,393.96 M459.11,390.56 L455.71,393.96" stroke="#3a3a3a" stroke-width="0.8"/>
<rect x="466.27" y="273.74" width="5.2" height="5.2" fill="#e2e2e2" stroke="#9a9a9a" stroke-width="0.6"/>
<path d="M467.17,274.64 L470.57,278.04 M470.57,274.64 L467.17,278.04" stroke="#3a3a3a" stroke-width="0.8"/>
<rect x="475.97" y="281.33" width="5.2" height="5.2" fill="#e2e2e2" stroke="#9a9a9a" stroke-width="0.6"/>
<path d="M476.87,282.23 L480.27,285.63 M480.27,282.23 L476.87,285.63" stroke="#3a3a3a" stroke-width="0.8"/>
<rect x="484.5" y="278.15" width="5.2" height="5.2" fill="#e2e2e2" stroke="#9a9a9a" stroke-width="0.6"/>
<path d="M485.4,279.05 L488.8,282.45 M488.8,279.05 L485.4,282.45" stroke="#3a3a3a" stroke-width="0.8"/>
<rect x="487.44" y="287.81" width="5.2" height="5.2" fill="#e2e2e2" stroke="#9a9a9a" stroke-width="0.6"/>
<path d="M488.34,288.71 L491.74,292.11 M491.74,288.71 L488.34,292.11" stroke="#3a3a3a" stroke-width="0.8"/>
<rect x="499.2" y="296.37" width="5.2" height="5.2" fill="#e2e2e2" stroke="#9a9a9a" stroke-width="0.6"/>
<path d="M500.1,297.27 L503.5,300.67 M503.5,297.27 L500.1,300.67" stroke="#3a3a3a" stroke-width="0.8"/>
<rect x="510.96" y="302.86" width="5.2" height="5.2" fill="#e2e2e2" stroke="#9a9a9a" stroke-width="0.6"/>
<path d="M511.86,303.76 L515.26,307.16 M515.26,303.76 L511.86,307.16" stroke="#3a3a3a" stroke-width="0.8"/>
<rect x="519.78" y="316.52" width="5.2" height="5.2" fill="#e2e2e2" stroke="#9a9a9a" stroke-width="0.6"/>
<path d="M520.68,317.42 L524.08,320.82 M524.08,317.42 L520.68,320.82" stroke="#3a3a3a" stroke-width="0.8"/>
<rect x="528.6" y="329.08" width="5.2" height="5.2" fill="#e2e2e2" stroke="#9a9a9a" stroke-width="0.6"/>
<path d="M529.5,329.98 L532.9,333.38 M532.9,329.98 L529.5,333.38" stroke="#3a3a3a" stroke-width="0.8"/>
<rect x="543.3" y="369.37" width="5.2" height="5.2" fill="#e2e2e2" stroke="#9a9a9a" stroke-width="0.6"/>
<path d="M544.2,370.27 L547.6,373.67 M547.6,370.27 L544.2,373.67" stroke="#3a3a3a" stroke-width="0.8"/>
<rect x="558" y="329.08" width="5.2" height="5.2" fill="#e2e2e2" stroke="#9a9a9a" stroke-width="0.6"/>
<path d="M558.9,329.98 L562.3,333.38 M562.3,329.98 L558.9,333.38" stroke="#3a3a3a" stroke-width="0.8"/>
<rect x="587.4" y="334.18" width="5.2" height="5.2" fill="#e2e2e2" stroke="#9a9a9a" stroke-width="0.6"/>
<path d="M588.3,335.08 L591.7,338.48 M591.7,335.08 L588.3,338.48" stroke="#3a3a3a" stroke-width="0.8"/>
<rect x="616.8" y="372.55" width="5.2" height="5.2" fill="#e2e2e2" stroke="#9a9a9a" stroke-width="0.6"/>
<path d="M617.7,373.45 L621.1,376.85 M621.1,373.45 L617.7,376.85" stroke="#3a3a3a" stroke-width="0.8"/>
<rect x="646.2" y="345.36" width="5.2" height="5.2" fill="#e2e2e2" stroke="#9a9a9a" stroke-width="0.6"/>
<path d="M647.1,346.26 L650.5,349.66 M650.5,346.26 L647.1,349.66" stroke="#3a3a3a" stroke-width="0.8"/>
<line x1="513.3" y1="303.2" x2="513.3" y2="283" stroke="#ff0000" stroke-width="2.4"/>
<path d="M509.7,284.5 L513.3,273 L516.9,284.5 Z" fill="#ff0000"/>
<rect x="413.6" y="255.9" width="264.9" height="199.7" fill="none" stroke="#000" stroke-width="2"/>
<line x1="413.6" y1="441.8" x2="416.4" y2="441.8" stroke="#000" stroke-width="1.5"/>
<line x1="413.6" y1="428" x2="418.1" y2="428" stroke="#000" stroke-width="1.5"/>
<line x1="413.6" y1="414.2" x2="416.4" y2="414.2" stroke="#000" stroke-width="1.5"/>
<line x1="413.6" y1="400.4" x2="418.1" y2="400.4" stroke="#000" stroke-width="1.5"/>
<line x1="413.6" y1="386.6" x2="416.4" y2="386.6" stroke="#000" stroke-width="1.5"/>
<line x1="413.6" y1="372.8" x2="418.1" y2="372.8" stroke="#000" stroke-width="1.5"/>
<line x1="413.6" y1="359" x2="416.4" y2="359" stroke="#000" stroke-width="1.5"/>
<line x1="413.6" y1="345.2" x2="418.1" y2="345.2" stroke="#000" stroke-width="1.5"/>
<line x1="413.6" y1="331.4" x2="416.4" y2="331.4" stroke="#000" stroke-width="1.5"/>
<line x1="413.6" y1="317.6" x2="418.1" y2="317.6" stroke="#000" stroke-width="1.5"/>
<line x1="413.6" y1="303.8" x2="418.1" y2="303.8" stroke="#000" stroke-width="1.5"/>
<line x1="413.6" y1="290" x2="418.1" y2="290" stroke="#000" stroke-width="1.5"/>
<line x1="413.6" y1="276.2" x2="416.4" y2="276.2" stroke="#000" stroke-width="1.5"/>
<line x1="413.6" y1="262.4" x2="418.1" y2="262.4" stroke="#000" stroke-width="1.5"/>
<text x="409.3" y="459.1" font-size="9.8" font-weight="bold" text-anchor="end" fill="#000" font-family='"Liberation Sans", sans-serif' font-style="normal" textLength="14.3" lengthAdjust="spacingAndGlyphs">-20</text>
<text x="409.3" y="431.5" font-size="9.8" font-weight="bold" text-anchor="end" fill="#000" font-family='"Liberation Sans", sans-serif' font-style="normal" textLength="5.7" lengthAdjust="spacingAndGlyphs">0</text>
<text x="409.3" y="403.9" font-size="9.8" font-weight="bold" text-anchor="end" fill="#000" font-family='"Liberation Sans", sans-serif' font-style="normal" textLength="11" lengthAdjust="spacingAndGlyphs">20</text>
<text x="409.3" y="376.3" font-size="9.8" font-weight="bold" text-anchor="end" fill="#000" font-family='"Liberation Sans", sans-serif' font-style="normal" textLength="11" lengthAdjust="spacingAndGlyphs">40</text>
<text x="409.3" y="348.7" font-size="9.8" font-weight="bold" text-anchor="end" fill="#000" font-family='"Liberation Sans", sans-serif' font-style="normal" textLength="11" lengthAdjust="spacingAndGlyphs">60</text>
<text x="409.3" y="321.1" font-size="9.8" font-weight="bold" text-anchor="end" fill="#000" font-family='"Liberation Sans", sans-serif' font-style="normal" textLength="11" lengthAdjust="spacingAndGlyphs">80</text>
<text x="409.3" y="307.3" font-size="9.8" font-weight="bold" text-anchor="end" fill="#000" font-family='"Liberation Sans", sans-serif' font-style="normal" textLength="11" lengthAdjust="spacingAndGlyphs">90</text>
<text x="409.3" y="293.5" font-size="9.8" font-weight="bold" text-anchor="end" fill="#000" font-family='"Liberation Sans", sans-serif' font-style="normal" textLength="15" lengthAdjust="spacingAndGlyphs">100</text>
<text x="409.3" y="265.9" font-size="9.8" font-weight="bold" text-anchor="end" fill="#000" font-family='"Liberation Sans", sans-serif' font-style="normal" textLength="15" lengthAdjust="spacingAndGlyphs">120</text>
<line x1="413.6" y1="455.6" x2="413.6" y2="451.1" stroke="#000" stroke-width="1.5"/>
<line x1="428.3" y1="455.6" x2="428.3" y2="452.8" stroke="#000" stroke-width="1.5"/>
<line x1="443" y1="455.6" x2="443" y2="451.1" stroke="#000" stroke-width="1.5"/>
<line x1="457.7" y1="455.6" x2="457.7" y2="452.8" stroke="#000" stroke-width="1.5"/>
<line x1="472.4" y1="455.6" x2="472.4" y2="451.1" stroke="#000" stroke-width="1.5"/>
<line x1="487.1" y1="455.6" x2="487.1" y2="452.8" stroke="#000" stroke-width="1.5"/>
<line x1="501.8" y1="455.6" x2="501.8" y2="451.1" stroke="#000" stroke-width="1.5"/>
<line x1="516.5" y1="455.6" x2="516.5" y2="452.8" stroke="#000" stroke-width="1.5"/>
<line x1="531.2" y1="455.6" x2="531.2" y2="451.1" stroke="#000" stroke-width="1.5"/>
<line x1="545.9" y1="455.6" x2="545.9" y2="452.8" stroke="#000" stroke-width="1.5"/>
<line x1="560.6" y1="455.6" x2="560.6" y2="451.1" stroke="#000" stroke-width="1.5"/>
<line x1="575.3" y1="455.6" x2="575.3" y2="452.8" stroke="#000" stroke-width="1.5"/>
<line x1="590" y1="455.6" x2="590" y2="451.1" stroke="#000" stroke-width="1.5"/>
<line x1="604.7" y1="455.6" x2="604.7" y2="452.8" stroke="#000" stroke-width="1.5"/>
<line x1="619.4" y1="455.6" x2="619.4" y2="451.1" stroke="#000" stroke-width="1.5"/>
<line x1="634.1" y1="455.6" x2="634.1" y2="452.8" stroke="#000" stroke-width="1.5"/>
<line x1="648.8" y1="455.6" x2="648.8" y2="451.1" stroke="#000" stroke-width="1.5"/>
<line x1="663.5" y1="455.6" x2="663.5" y2="452.8" stroke="#000" stroke-width="1.5"/>
<text x="413.6" y="468.2" font-size="9.2" font-weight="bold" text-anchor="middle" fill="#000" font-family='"Liberation Sans", sans-serif' font-style="normal" textLength="12.3" lengthAdjust="spacingAndGlyphs">0.0</text>
<text x="443" y="468.2" font-size="9.2" font-weight="bold" text-anchor="middle" fill="#000" font-family='"Liberation Sans", sans-serif' font-style="normal" textLength="12.3" lengthAdjust="spacingAndGlyphs">0.1</text>
<text x="472.4" y="468.2" font-size="9.2" font-weight="bold" text-anchor="middle" fill="#000" font-family='"Liberation Sans", sans-serif' font-style="normal" textLength="12.3" lengthAdjust="spacingAndGlyphs">0.2</text>
<text x="501.8" y="468.2" font-size="9.2" font-weight="bold" text-anchor="middle" fill="#000" font-family='"Liberation Sans", sans-serif' font-style="normal" textLength="12.3" lengthAdjust="spacingAndGlyphs">0.3</text>
<text x="531.2" y="468.2" font-size="9.2" font-weight="bold" text-anchor="middle" fill="#000" font-family='"Liberation Sans", sans-serif' font-style="normal" textLength="12.3" lengthAdjust="spacingAndGlyphs">0.4</text>
<text x="560.6" y="468.2" font-size="9.2" font-weight="bold" text-anchor="middle" fill="#000" font-family='"Liberation Sans", sans-serif' font-style="normal" textLength="12.3" lengthAdjust="spacingAndGlyphs">0.5</text>
<text x="590" y="468.2" font-size="9.2" font-weight="bold" text-anchor="middle" fill="#000" font-family='"Liberation Sans", sans-serif' font-style="normal" textLength="12.3" lengthAdjust="spacingAndGlyphs">0.6</text>
<text x="619.4" y="468.2" font-size="9.2" font-weight="bold" text-anchor="middle" fill="#000" font-family='"Liberation Sans", sans-serif' font-style="normal" textLength="12.3" lengthAdjust="spacingAndGlyphs">0.7</text>
<text x="648.8" y="468.2" font-size="9.2" font-weight="bold" text-anchor="middle" fill="#000" font-family='"Liberation Sans", sans-serif' font-style="normal" textLength="12.3" lengthAdjust="spacingAndGlyphs">0.8</text>
<text x="678.2" y="468.2" font-size="9.2" font-weight="bold" text-anchor="middle" fill="#000" font-family='"Liberation Sans", sans-serif' font-style="normal" textLength="12.3" lengthAdjust="spacingAndGlyphs">0.9</text>
<text x="540.8" y="478.4" font-size="9.3" font-weight="bold" text-anchor="middle" fill="#000" font-family='"Liberation Sans", sans-serif' font-style="normal" textLength="105" lengthAdjust="spacingAndGlyphs">Size (Sx wavelength)nm</text>
<text x="391" y="358.9" font-size="9.5" font-weight="bold" text-anchor="middle" fill="#000" font-family='"Liberation Sans", sans-serif' font-style="normal" textLength="60.8" lengthAdjust="spacingAndGlyphs" transform="rotate(-90 391 358.9)">Beta (degree)</text>
<text x="420.9" y="277.2" font-size="21.5" font-weight="bold" text-anchor="start" fill="#000" font-family='"Liberation Sans", sans-serif' font-style="normal" textLength="25.6" lengthAdjust="spacingAndGlyphs">(d)</text>
<text x="518.6" y="269.4" font-size="9.3" font-weight="bold" text-anchor="start" fill="#000" font-family='"Liberation Sans", sans-serif' font-style="normal" textLength="10" lengthAdjust="spacingAndGlyphs">90</text>
<circle cx="530.4" cy="262.9" r="1.15" fill="none" stroke="#000" stroke-width="0.95"/>
<text x="534.6" y="269.4" font-size="9.3" font-weight="bold" text-anchor="start" fill="#000" font-family='"Liberation Sans", sans-serif' font-style="normal" textLength="30.4" lengthAdjust="spacingAndGlyphs">rotated</text>
<text x="518.6" y="281" font-size="9.3" font-weight="bold" text-anchor="start" fill="#000" font-family='"Liberation Sans", sans-serif' font-style="normal" textLength="51" lengthAdjust="spacingAndGlyphs">polarization</text>
<rect x="625.4" y="256.2" width="46.3" height="11.2" fill="#fff" stroke="#777" stroke-width="0.7"/>
<line x1="626.5" y1="262" x2="634.5" y2="262" stroke="#0a0a80" stroke-width="2.6"/>
<line x1="641.5" y1="262" x2="649.5" y2="262" stroke="#0a0a80" stroke-width="2.6"/>
<rect x="636.2" y="260.2" width="3.6" height="3.6" fill="#fff" stroke="#666" stroke-width="0.7"/>
<text x="651.5" y="265.6" font-size="9.2" font-weight="normal" text-anchor="start" fill="#000" font-family='"Liberation Sans", sans-serif' font-style="normal" textLength="18.6" lengthAdjust="spacingAndGlyphs">Beta</text>
</svg>
</body></html>
